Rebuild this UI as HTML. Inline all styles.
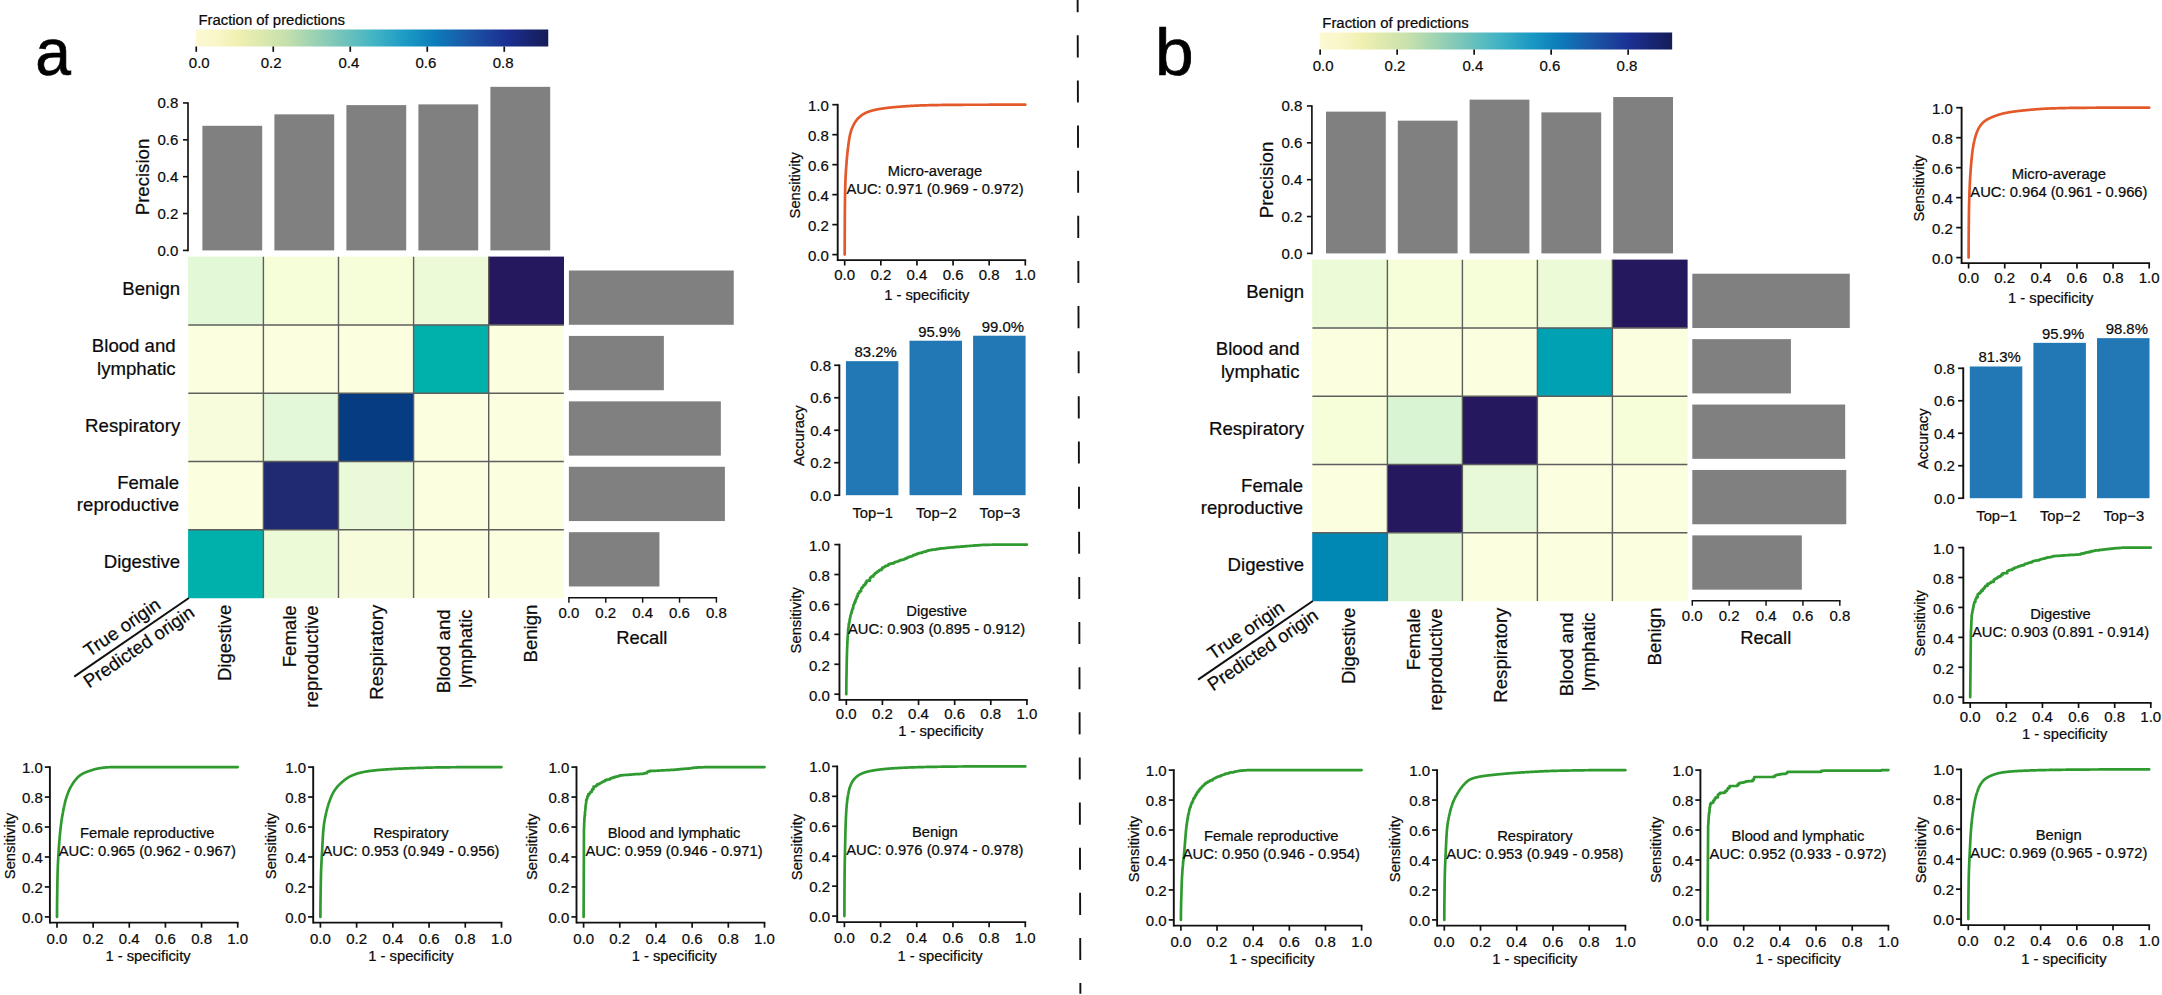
<!DOCTYPE html>
<html lang="en">
<head>
<meta charset="utf-8">
<title>Figure</title>
<style>html,body{margin:0;padding:0;background:#fff;}body{width:2162px;height:995px;overflow:hidden;}svg text{font-family:"Liberation Sans", Arial, Helvetica, sans-serif;stroke:#0a0a0a;stroke-width:0.22px;}</style>
</head>
<body>
<svg width="2162" height="995" viewBox="0 0 2162 995" font-family='"Liberation Sans", Arial, Helvetica, sans-serif' style="display:block">
<defs><linearGradient id="cb" x1="0" y1="0" x2="1" y2="0"><stop offset="0" stop-color="#fcf9d3"/><stop offset="0.06" stop-color="#f9f6c9"/><stop offset="0.12" stop-color="#f0f0b1"/><stop offset="0.25" stop-color="#c8e1ac"/><stop offset="0.38" stop-color="#85cab7"/><stop offset="0.5" stop-color="#45b5c4"/><stop offset="0.6" stop-color="#1a99c4"/><stop offset="0.68" stop-color="#0c7cba"/><stop offset="0.77" stop-color="#1b58a6"/><stop offset="0.88" stop-color="#1b3093"/><stop offset="0.95" stop-color="#18246f"/><stop offset="1" stop-color="#141d58"/></linearGradient></defs>
<text transform="translate(35.3 75.4) scale(0.96 1)" font-size="66.8" fill="#000" style="stroke:#000;stroke-width:0.7px">a</text>
<rect x="195.75" y="29.5" width="352.5" height="17" fill="url(#cb)"/>
<line x1="196.25" y1="46.5" x2="196.25" y2="51.8" stroke="#111" stroke-width="1.7"/>
<text x="199.25" y="68" font-size="15" text-anchor="middle" fill="#0a0a0a">0.0</text>
<line x1="273.25" y1="46.5" x2="273.25" y2="51.8" stroke="#111" stroke-width="1.7"/>
<text x="271.15" y="68" font-size="15" text-anchor="middle" fill="#0a0a0a">0.2</text>
<line x1="350.25" y1="46.5" x2="350.25" y2="51.8" stroke="#111" stroke-width="1.7"/>
<text x="348.95" y="68" font-size="15" text-anchor="middle" fill="#0a0a0a">0.4</text>
<line x1="427.25" y1="46.5" x2="427.25" y2="51.8" stroke="#111" stroke-width="1.7"/>
<text x="425.95" y="68" font-size="15" text-anchor="middle" fill="#0a0a0a">0.6</text>
<line x1="504.25" y1="46.5" x2="504.25" y2="51.8" stroke="#111" stroke-width="1.7"/>
<text x="503.15" y="68" font-size="15" text-anchor="middle" fill="#0a0a0a">0.8</text>
<text x="198.4" y="25" font-size="14.9" text-anchor="start" fill="#0a0a0a">Fraction of predictions</text>
<rect x="202.4" y="125.8" width="59.8" height="124.61" fill="#808080"/>
<rect x="274.4" y="114.35" width="59.8" height="136.05" fill="#808080"/>
<rect x="346.4" y="105.12" width="59.8" height="145.28" fill="#808080"/>
<rect x="418.4" y="104.38" width="59.8" height="146.02" fill="#808080"/>
<rect x="490.4" y="86.84" width="59.8" height="163.56" fill="#808080"/>
<line x1="188" y1="102.16" x2="188" y2="251.2" stroke="#111" stroke-width="1.65"/>
<line x1="183" y1="250.4" x2="188" y2="250.4" stroke="#111" stroke-width="1.6"/>
<text x="178.4" y="255.7" font-size="15" text-anchor="end" fill="#0a0a0a">0.0</text>
<line x1="183" y1="213.54" x2="188" y2="213.54" stroke="#111" stroke-width="1.6"/>
<text x="178.4" y="218.84" font-size="15" text-anchor="end" fill="#0a0a0a">0.2</text>
<line x1="183" y1="176.68" x2="188" y2="176.68" stroke="#111" stroke-width="1.6"/>
<text x="178.4" y="181.98" font-size="15" text-anchor="end" fill="#0a0a0a">0.4</text>
<line x1="183" y1="139.82" x2="188" y2="139.82" stroke="#111" stroke-width="1.6"/>
<text x="178.4" y="145.12" font-size="15" text-anchor="end" fill="#0a0a0a">0.6</text>
<line x1="183" y1="102.96" x2="188" y2="102.96" stroke="#111" stroke-width="1.6"/>
<text x="178.4" y="108.26" font-size="15" text-anchor="end" fill="#0a0a0a">0.8</text>
<text x="148.9" y="177" font-size="18.6" text-anchor="middle" fill="#0a0a0a" transform="rotate(-90 148.9 177)">Precision</text>
<rect x="188.1" y="256.6" width="75.5" height="68.65" fill="#e3f8d6"/>
<rect x="263.2" y="256.6" width="75.5" height="68.65" fill="#f5fdd9"/>
<rect x="338.3" y="256.6" width="75.5" height="68.65" fill="#f5fdd9"/>
<rect x="413.4" y="256.6" width="75.5" height="68.65" fill="#ecfad7"/>
<rect x="488.5" y="256.6" width="75.5" height="68.65" fill="#26185f"/>
<rect x="188.1" y="324.85" width="75.5" height="68.65" fill="#fbfedf"/>
<rect x="263.2" y="324.85" width="75.5" height="68.65" fill="#fbfedf"/>
<rect x="338.3" y="324.85" width="75.5" height="68.65" fill="#fbfedf"/>
<rect x="413.4" y="324.85" width="75.5" height="68.65" fill="#00b0ab"/>
<rect x="488.5" y="324.85" width="75.5" height="68.65" fill="#fbfedf"/>
<rect x="188.1" y="393.1" width="75.5" height="68.65" fill="#f7fddc"/>
<rect x="263.2" y="393.1" width="75.5" height="68.65" fill="#e3f8d8"/>
<rect x="338.3" y="393.1" width="75.5" height="68.65" fill="#063c82"/>
<rect x="413.4" y="393.1" width="75.5" height="68.65" fill="#fbfedf"/>
<rect x="488.5" y="393.1" width="75.5" height="68.65" fill="#fbfedf"/>
<rect x="188.1" y="461.35" width="75.5" height="68.65" fill="#fbfedf"/>
<rect x="263.2" y="461.35" width="75.5" height="68.65" fill="#1f2a72"/>
<rect x="338.3" y="461.35" width="75.5" height="68.65" fill="#eafad8"/>
<rect x="413.4" y="461.35" width="75.5" height="68.65" fill="#fbfedf"/>
<rect x="488.5" y="461.35" width="75.5" height="68.65" fill="#fbfedf"/>
<rect x="188.1" y="529.6" width="75.5" height="68.65" fill="#00b0ab"/>
<rect x="263.2" y="529.6" width="75.5" height="68.65" fill="#ecfad7"/>
<rect x="338.3" y="529.6" width="75.5" height="68.65" fill="#f7fddc"/>
<rect x="413.4" y="529.6" width="75.5" height="68.65" fill="#fbfedf"/>
<rect x="488.5" y="529.6" width="75.5" height="68.65" fill="#fbfedf"/>
<line x1="263.4" y1="256.8" x2="263.4" y2="598.05" stroke="#5e5e5e" stroke-width="1.4"/>
<line x1="188.3" y1="325.05" x2="563.8" y2="325.05" stroke="#5e5e5e" stroke-width="1.4"/>
<line x1="338.5" y1="256.8" x2="338.5" y2="598.05" stroke="#5e5e5e" stroke-width="1.4"/>
<line x1="188.3" y1="393.3" x2="563.8" y2="393.3" stroke="#5e5e5e" stroke-width="1.4"/>
<line x1="413.6" y1="256.8" x2="413.6" y2="598.05" stroke="#5e5e5e" stroke-width="1.4"/>
<line x1="188.3" y1="461.55" x2="563.8" y2="461.55" stroke="#5e5e5e" stroke-width="1.4"/>
<line x1="488.7" y1="256.8" x2="488.7" y2="598.05" stroke="#5e5e5e" stroke-width="1.4"/>
<line x1="188.3" y1="529.8" x2="563.8" y2="529.8" stroke="#5e5e5e" stroke-width="1.4"/>
<text x="180.2" y="295.23" font-size="18.6" text-anchor="end" fill="#0a0a0a">Benign</text>
<text x="175.6" y="352.38" font-size="18.6" text-anchor="end" fill="#0a0a0a">Blood and</text>
<text x="175.6" y="374.57" font-size="18.6" text-anchor="end" fill="#0a0a0a">lymphatic</text>
<text x="180.2" y="431.73" font-size="18.6" text-anchor="end" fill="#0a0a0a">Respiratory</text>
<text x="179.2" y="488.88" font-size="18.6" text-anchor="end" fill="#0a0a0a">Female</text>
<text x="179.2" y="511.07" font-size="18.6" text-anchor="end" fill="#0a0a0a">reproductive</text>
<text x="180.2" y="568.22" font-size="18.6" text-anchor="end" fill="#0a0a0a">Digestive</text>
<text x="231.45" y="604.6" font-size="18.6" text-anchor="end" fill="#0a0a0a" transform="rotate(-90 231.45 604.6)">Digestive</text>
<text x="295.75" y="605.3" font-size="18.6" text-anchor="end" fill="#0a0a0a" transform="rotate(-90 295.75 605.3)">Female</text>
<text x="317.85" y="605.3" font-size="18.6" text-anchor="end" fill="#0a0a0a" transform="rotate(-90 317.85 605.3)">reproductive</text>
<text x="383.35" y="604.6" font-size="18.6" text-anchor="end" fill="#0a0a0a" transform="rotate(-90 383.35 604.6)">Respiratory</text>
<text x="449.65" y="609.4" font-size="18.6" text-anchor="end" fill="#0a0a0a" transform="rotate(-90 449.65 609.4)">Blood and</text>
<text x="471.75" y="609.4" font-size="18.6" text-anchor="end" fill="#0a0a0a" transform="rotate(-90 471.75 609.4)">lymphatic</text>
<text x="537.35" y="604.6" font-size="18.6" text-anchor="end" fill="#0a0a0a" transform="rotate(-90 537.35 604.6)">Benign</text>
<line x1="188.9" y1="598" x2="74.2" y2="676.6" stroke="#111" stroke-width="2"/>
<text x="125.6" y="632.6" font-size="18.6" text-anchor="middle" fill="#0a0a0a" transform="rotate(-34.4 125.6 632.6)">True origin</text>
<text x="142.4" y="652" font-size="18.6" text-anchor="middle" fill="#0a0a0a" transform="rotate(-34.4 142.4 652)">Predicted origin</text>
<rect x="568.9" y="270.5" width="164.85" height="54.3" fill="#808080"/>
<rect x="568.9" y="335.92" width="94.97" height="54.3" fill="#808080"/>
<rect x="568.9" y="401.34" width="151.95" height="54.3" fill="#808080"/>
<rect x="568.9" y="466.76" width="156" height="54.3" fill="#808080"/>
<rect x="568.9" y="532.18" width="90.54" height="54.3" fill="#808080"/>
<line x1="568.17" y1="597.8" x2="717.14" y2="597.8" stroke="#111" stroke-width="1.45"/>
<line x1="568.9" y1="597.8" x2="568.9" y2="602.7" stroke="#111" stroke-width="1.45"/>
<text x="568.9" y="618.4" font-size="15" text-anchor="middle" fill="#0a0a0a">0.0</text>
<line x1="605.78" y1="597.8" x2="605.78" y2="602.7" stroke="#111" stroke-width="1.45"/>
<text x="605.78" y="618.4" font-size="15" text-anchor="middle" fill="#0a0a0a">0.2</text>
<line x1="642.66" y1="597.8" x2="642.66" y2="602.7" stroke="#111" stroke-width="1.45"/>
<text x="642.66" y="618.4" font-size="15" text-anchor="middle" fill="#0a0a0a">0.4</text>
<line x1="679.54" y1="597.8" x2="679.54" y2="602.7" stroke="#111" stroke-width="1.45"/>
<text x="679.54" y="618.4" font-size="15" text-anchor="middle" fill="#0a0a0a">0.6</text>
<line x1="716.42" y1="597.8" x2="716.42" y2="602.7" stroke="#111" stroke-width="1.45"/>
<text x="716.42" y="618.4" font-size="15" text-anchor="middle" fill="#0a0a0a">0.8</text>
<text x="641.8" y="644" font-size="18.4" text-anchor="middle" fill="#0a0a0a">Recall</text>
<rect x="845.9" y="361.16" width="52.5" height="134.04" fill="#2278b5"/>
<text x="875.7" y="356.96" font-size="14.9" text-anchor="middle" fill="#0a0a0a">83.2%</text>
<text x="872.7" y="518" font-size="14.75" text-anchor="middle" fill="#0a0a0a">Top−1</text>
<rect x="909.5" y="340.71" width="52.5" height="154.49" fill="#2278b5"/>
<text x="939.3" y="336.51" font-size="14.9" text-anchor="middle" fill="#0a0a0a">95.9%</text>
<text x="936.3" y="518" font-size="14.75" text-anchor="middle" fill="#0a0a0a">Top−2</text>
<rect x="973.1" y="335.71" width="52.5" height="159.49" fill="#2278b5"/>
<text x="1002.9" y="331.51" font-size="14.9" text-anchor="middle" fill="#0a0a0a">99.0%</text>
<text x="999.9" y="518" font-size="14.75" text-anchor="middle" fill="#0a0a0a">Top−3</text>
<line x1="839.35" y1="364.43" x2="839.35" y2="496.05" stroke="#111" stroke-width="1.9"/>
<line x1="834.15" y1="495.2" x2="839.35" y2="495.2" stroke="#111" stroke-width="1.7"/>
<text x="831.05" y="500.6" font-size="15" text-anchor="end" fill="#0a0a0a">0.0</text>
<line x1="834.15" y1="462.72" x2="839.35" y2="462.72" stroke="#111" stroke-width="1.7"/>
<text x="831.05" y="468.12" font-size="15" text-anchor="end" fill="#0a0a0a">0.2</text>
<line x1="834.15" y1="430.24" x2="839.35" y2="430.24" stroke="#111" stroke-width="1.7"/>
<text x="831.05" y="435.64" font-size="15" text-anchor="end" fill="#0a0a0a">0.4</text>
<line x1="834.15" y1="397.76" x2="839.35" y2="397.76" stroke="#111" stroke-width="1.7"/>
<text x="831.05" y="403.16" font-size="15" text-anchor="end" fill="#0a0a0a">0.6</text>
<line x1="834.15" y1="365.28" x2="839.35" y2="365.28" stroke="#111" stroke-width="1.7"/>
<text x="831.05" y="370.68" font-size="15" text-anchor="end" fill="#0a0a0a">0.8</text>
<text x="804" y="435.7" font-size="14.75" text-anchor="middle" fill="#0a0a0a" transform="rotate(-90 804 435.7)">Accuracy</text>
<path d="M844.7 254.6 L844.7 253.18 L844.7 251.69 L844.7 250.14 L844.71 248.53 L844.71 246.86 L844.71 245.13 L844.72 243.36 L844.72 241.53 L844.73 239.66 L844.74 237.75 L844.74 235.8 L844.75 233.8 L844.76 231.74 L844.77 229.47 L844.78 227.05 L844.79 224.52 L844.81 221.95 L844.82 219.38 L844.83 216.87 L844.85 214.48 L844.86 212.26 L844.88 210.26 L844.9 208.4 L844.91 206.58 L844.93 204.81 L844.95 203.08 L844.97 201.4 L844.99 199.78 L845.01 198.21 L845.03 196.7 L845.06 195.26 L845.08 193.88 L845.1 192.57 L845.13 191.33 L845.15 190.17 L845.18 189.09 L845.21 188.04 L845.23 187.03 L845.26 186.04 L845.29 185.07 L845.32 184.13 L845.35 183.22 L845.38 182.33 L845.42 181.46 L845.45 180.61 L845.48 179.78 L845.52 178.97 L845.55 178.17 L845.59 177.4 L845.62 176.63 L845.66 175.89 L845.7 175.16 L845.74 174.44 L845.78 173.73 L845.82 173.03 L845.86 172.34 L845.9 171.66 L845.94 170.99 L845.99 170.32 L846.03 169.66 L846.08 169.01 L846.12 168.35 L846.17 167.7 L846.21 167.05 L846.26 166.41 L846.31 165.76 L846.36 165.11 L846.41 164.45 L846.46 163.79 L846.51 163.13 L846.56 162.46 L846.62 161.79 L846.67 161.11 L846.72 160.44 L846.78 159.77 L846.83 159.11 L846.89 158.45 L846.95 157.79 L847.01 157.14 L847.07 156.5 L847.13 155.86 L847.19 155.22 L847.25 154.6 L847.31 153.97 L847.37 153.35 L847.43 152.74 L847.5 152.14 L847.56 151.54 L847.63 150.94 L847.69 150.35 L847.76 149.77 L847.83 149.2 L847.9 148.63 L847.97 148.07 L848.04 147.52 L848.11 146.97 L848.18 146.42 L848.25 145.87 L848.32 145.33 L848.4 144.78 L848.47 144.23 L848.55 143.69 L848.62 143.14 L848.7 142.6 L848.78 142.07 L848.85 141.54 L848.93 141.01 L849.01 140.49 L849.09 139.98 L849.17 139.47 L849.25 138.97 L849.34 138.47 L849.42 137.99 L849.5 137.51 L849.59 137.04 L849.67 136.58 L849.76 136.14 L849.85 135.7 L849.93 135.27 L850.02 134.86 L850.11 134.46 L850.2 134.07 L850.29 133.7 L850.38 133.34 L850.48 132.99 L850.57 132.65 L850.66 132.32 L850.76 131.99 L850.85 131.67 L850.95 131.36 L851.04 131.04 L851.14 130.74 L851.24 130.44 L851.34 130.14 L851.44 129.85 L851.54 129.57 L851.64 129.28 L851.74 129.01 L851.84 128.73 L851.94 128.47 L852.05 128.2 L852.15 127.94 L852.26 127.68 L852.36 127.43 L852.47 127.18 L852.58 126.93 L852.69 126.69 L852.8 126.45 L852.91 126.22 L853.02 125.98 L853.13 125.75 L853.24 125.52 L853.35 125.3 L853.47 125.08 L853.58 124.85 L853.7 124.64 L853.81 124.42 L853.93 124.2 L854.04 123.99 L854.16 123.78 L854.28 123.57 L854.4 123.36 L854.52 123.16 L854.64 122.95 L854.76 122.75 L854.89 122.55 L855.01 122.35 L855.13 122.16 L855.26 121.96 L855.38 121.77 L855.51 121.58 L855.64 121.4 L855.76 121.21 L855.89 121.03 L856.02 120.85 L856.15 120.67 L856.28 120.49 L856.41 120.32 L856.54 120.14 L856.68 119.97 L856.81 119.81 L856.94 119.64 L857.08 119.48 L857.21 119.32 L857.35 119.16 L857.49 119 L857.63 118.85 L857.76 118.69 L857.9 118.55 L858.04 118.4 L858.18 118.25 L858.33 118.11 L858.47 117.97 L858.61 117.83 L858.76 117.7 L858.9 117.56 L859.04 117.43 L859.19 117.29 L859.34 117.16 L859.49 117.03 L859.63 116.9 L859.78 116.77 L859.93 116.64 L860.08 116.51 L860.23 116.39 L860.39 116.26 L860.54 116.13 L860.69 116.01 L860.85 115.89 L861 115.77 L861.16 115.65 L861.31 115.53 L861.47 115.41 L861.63 115.29 L861.79 115.18 L861.95 115.06 L862.11 114.95 L862.27 114.84 L862.43 114.73 L862.59 114.62 L862.75 114.51 L862.92 114.4 L863.08 114.3 L863.25 114.19 L863.41 114.09 L863.58 113.99 L863.75 113.89 L863.91 113.79 L864.08 113.69 L864.25 113.6 L864.42 113.51 L864.59 113.41 L864.77 113.32 L864.94 113.23 L865.11 113.15 L865.29 113.06 L865.46 112.98 L865.64 112.89 L865.81 112.81 L865.99 112.73 L866.17 112.65 L866.35 112.58 L866.53 112.5 L866.71 112.43 L866.89 112.35 L867.07 112.28 L867.25 112.21 L867.43 112.14 L867.62 112.06 L867.8 111.99 L867.99 111.92 L868.17 111.85 L868.36 111.79 L868.55 111.72 L868.73 111.65 L868.92 111.58 L869.11 111.52 L869.3 111.45 L869.49 111.39 L869.69 111.33 L869.88 111.26 L870.07 111.2 L870.27 111.14 L870.46 111.08 L870.66 111.02 L870.85 110.96 L871.05 110.9 L871.25 110.84 L871.45 110.78 L871.65 110.72 L871.85 110.67 L872.05 110.61 L872.25 110.56 L872.45 110.5 L872.65 110.45 L872.86 110.39 L873.06 110.34 L873.27 110.29 L873.47 110.23 L873.68 110.18 L873.89 110.13 L874.09 110.08 L874.3 110.03 L874.51 109.98 L874.72 109.94 L874.93 109.89 L875.15 109.84 L875.36 109.79 L875.57 109.75 L875.79 109.7 L876 109.66 L876.22 109.61 L876.43 109.57 L876.65 109.52 L876.87 109.48 L877.09 109.44 L877.3 109.4 L877.52 109.36 L877.75 109.31 L877.97 109.27 L878.19 109.23 L878.41 109.19 L878.64 109.15 L878.86 109.11 L879.08 109.07 L879.31 109.04 L879.54 109 L879.76 108.96 L879.99 108.92 L880.22 108.88 L880.45 108.84 L880.68 108.81 L880.91 108.77 L881.14 108.73 L881.38 108.7 L881.61 108.66 L881.84 108.63 L882.08 108.59 L882.31 108.55 L882.55 108.52 L882.79 108.48 L883.02 108.45 L883.26 108.42 L883.5 108.38 L883.74 108.35 L883.98 108.31 L884.22 108.28 L884.47 108.25 L884.71 108.22 L884.95 108.18 L885.2 108.15 L885.44 108.12 L885.69 108.09 L885.93 108.06 L886.18 108.02 L886.43 107.99 L886.68 107.96 L886.93 107.93 L887.18 107.9 L887.43 107.87 L887.68 107.84 L887.93 107.81 L888.19 107.78 L888.44 107.75 L888.69 107.72 L888.95 107.7 L889.21 107.67 L889.46 107.64 L889.72 107.61 L889.98 107.58 L890.24 107.56 L890.5 107.53 L890.76 107.5 L891.02 107.47 L891.28 107.45 L891.55 107.42 L891.81 107.39 L892.07 107.37 L892.34 107.34 L892.6 107.32 L892.87 107.29 L893.14 107.26 L893.41 107.24 L893.67 107.21 L893.94 107.19 L894.21 107.16 L894.48 107.14 L894.76 107.12 L895.03 107.09 L895.3 107.07 L895.58 107.04 L895.85 107.02 L896.13 107 L896.4 106.97 L896.68 106.95 L896.96 106.93 L897.23 106.91 L897.51 106.88 L897.79 106.86 L898.07 106.84 L898.36 106.81 L898.64 106.79 L898.92 106.77 L899.2 106.75 L899.49 106.72 L899.77 106.7 L900.06 106.68 L900.35 106.66 L900.63 106.63 L900.92 106.61 L901.21 106.59 L901.5 106.57 L901.79 106.54 L902.08 106.52 L902.37 106.5 L902.66 106.48 L902.96 106.45 L903.25 106.43 L903.54 106.41 L903.84 106.39 L904.14 106.37 L904.43 106.35 L904.73 106.32 L905.03 106.3 L905.33 106.28 L905.63 106.26 L905.93 106.24 L906.23 106.22 L906.53 106.2 L906.83 106.18 L907.14 106.16 L907.44 106.14 L907.75 106.12 L908.05 106.1 L908.36 106.08 L908.67 106.06 L908.97 106.04 L909.28 106.02 L909.59 106 L909.9 105.98 L910.21 105.96 L910.52 105.94 L910.84 105.92 L911.15 105.9 L911.46 105.88 L911.78 105.87 L912.09 105.85 L912.41 105.83 L912.73 105.81 L913.04 105.79 L913.36 105.78 L913.68 105.76 L914 105.74 L914.32 105.73 L914.64 105.71 L914.96 105.69 L915.29 105.68 L915.61 105.66 L915.93 105.64 L916.26 105.63 L916.59 105.61 L916.91 105.6 L917.24 105.58 L917.57 105.57 L917.9 105.55 L918.22 105.54 L918.55 105.53 L918.89 105.51 L919.22 105.5 L919.55 105.49 L919.88 105.47 L920.22 105.46 L920.55 105.45 L920.89 105.44 L921.22 105.42 L921.56 105.41 L921.9 105.4 L922.23 105.39 L922.57 105.38 L922.91 105.37 L923.25 105.36 L923.59 105.35 L923.94 105.34 L924.28 105.33 L924.62 105.32 L924.97 105.31 L925.31 105.3 L925.66 105.29 L926 105.29 L926.35 105.28 L926.7 105.27 L927.05 105.26 L927.4 105.25 L927.75 105.25 L928.1 105.24 L928.45 105.23 L928.8 105.22 L929.15 105.21 L929.51 105.21 L929.86 105.2 L930.22 105.19 L930.57 105.18 L930.93 105.18 L931.29 105.17 L931.65 105.16 L932 105.15 L932.36 105.15 L932.72 105.14 L933.09 105.13 L933.45 105.12 L933.81 105.12 L934.17 105.11 L934.54 105.1 L934.9 105.1 L935.27 105.09 L935.63 105.08 L936 105.07 L936.37 105.07 L936.74 105.06 L937.11 105.05 L937.48 105.05 L937.85 105.04 L938.22 105.03 L938.59 105.03 L938.96 105.02 L939.34 105.02 L939.71 105.01 L940.09 105 L940.46 105 L940.84 104.99 L941.22 104.98 L941.6 104.98 L941.97 104.97 L942.35 104.97 L942.73 104.96 L943.12 104.96 L943.5 104.95 L943.88 104.94 L944.26 104.94 L944.65 104.93 L945.03 104.93 L945.42 104.92 L945.8 104.92 L946.19 104.91 L946.58 104.91 L946.97 104.9 L947.36 104.9 L947.75 104.89 L948.14 104.89 L948.53 104.88 L948.92 104.88 L949.31 104.87 L949.71 104.87 L950.1 104.87 L950.5 104.86 L950.89 104.86 L951.29 104.85 L951.69 104.85 L952.08 104.85 L952.48 104.84 L952.88 104.84 L953.28 104.83 L953.68 104.83 L954.09 104.83 L954.49 104.82 L954.89 104.82 L955.3 104.82 L955.7 104.81 L956.11 104.81 L956.51 104.81 L956.92 104.81 L957.33 104.8 L957.74 104.8 L958.14 104.8 L958.55 104.8 L958.96 104.79 L959.38 104.79 L959.79 104.79 L960.2 104.79 L960.61 104.79 L961.03 104.78 L961.44 104.78 L961.86 104.78 L962.28 104.78 L962.69 104.78 L963.11 104.78 L963.53 104.77 L963.95 104.77 L964.37 104.77 L964.79 104.77 L965.21 104.77 L965.64 104.77 L966.06 104.77 L966.48 104.77 L966.91 104.77 L967.33 104.77 L967.76 104.76 L968.19 104.76 L968.61 104.76 L969.04 104.76 L969.47 104.76 L969.9 104.76 L970.33 104.76 L970.76 104.76 L971.2 104.76 L971.63 104.76 L972.06 104.75 L972.5 104.75 L972.93 104.75 L973.37 104.75 L973.8 104.75 L974.24 104.75 L974.68 104.75 L975.12 104.75 L975.56 104.75 L976 104.75 L976.44 104.75 L976.88 104.75 L977.32 104.74 L977.77 104.74 L978.21 104.74 L978.65 104.74 L979.1 104.74 L979.55 104.74 L979.99 104.74 L980.44 104.74 L980.89 104.74 L981.34 104.74 L981.79 104.74 L982.24 104.74 L982.69 104.73 L983.14 104.73 L983.59 104.73 L984.05 104.73 L984.5 104.73 L984.96 104.73 L985.41 104.73 L985.87 104.73 L986.33 104.73 L986.78 104.73 L987.24 104.73 L987.7 104.73 L988.16 104.73 L988.62 104.73 L989.09 104.72 L989.55 104.72 L990.01 104.72 L990.47 104.72 L990.94 104.72 L991.4 104.72 L991.87 104.72 L992.34 104.72 L992.81 104.72 L993.27 104.72 L993.74 104.72 L994.21 104.72 L994.68 104.72 L995.15 104.72 L995.63 104.72 L996.1 104.72 L996.57 104.72 L997.05 104.71 L997.52 104.71 L998 104.71 L998.47 104.71 L998.95 104.71 L999.43 104.71 L999.91 104.71 L1000.39 104.71 L1000.87 104.71 L1001.35 104.71 L1001.83 104.71 L1002.31 104.71 L1002.8 104.71 L1003.28 104.71 L1003.76 104.71 L1004.25 104.71 L1004.74 104.71 L1005.22 104.71 L1005.71 104.71 L1006.2 104.71 L1006.69 104.71 L1007.18 104.71 L1007.67 104.71 L1008.16 104.71 L1008.65 104.71 L1009.14 104.7 L1009.64 104.7 L1010.13 104.7 L1010.63 104.7 L1011.12 104.7 L1011.62 104.7 L1012.11 104.7 L1012.61 104.7 L1013.11 104.7 L1013.61 104.7 L1014.11 104.7 L1014.61 104.7 L1015.11 104.7 L1015.62 104.7 L1016.12 104.7 L1016.62 104.7 L1017.13 104.7 L1017.63 104.7 L1018.14 104.7 L1018.64 104.7 L1019.15 104.7 L1019.66 104.7 L1020.17 104.7 L1020.68 104.7 L1021.19 104.7 L1021.7 104.7 L1022.21 104.7 L1022.73 104.7 L1023.24 104.7 L1023.75 104.7 L1024.27 104.7 L1024.78 104.7 L1025.3 104.7" fill="none" stroke="#e3592a" stroke-width="2.7" stroke-linejoin="round" stroke-linecap="round"/>
<line x1="837.7" y1="103.85" x2="837.7" y2="261.05" stroke="#111" stroke-width="1.9"/>
<line x1="837.7" y1="260.1" x2="1026.15" y2="260.1" stroke="#111" stroke-width="1.9"/>
<line x1="832.3" y1="254.6" x2="837.7" y2="254.6" stroke="#111" stroke-width="1.7"/>
<text x="828.9" y="261" font-size="15" text-anchor="end" fill="#0a0a0a">0.0</text>
<line x1="844.7" y1="260.1" x2="844.7" y2="265.5" stroke="#111" stroke-width="1.7"/>
<text x="844.7" y="279.7" font-size="15" text-anchor="middle" fill="#0a0a0a">0.0</text>
<line x1="832.3" y1="224.62" x2="837.7" y2="224.62" stroke="#111" stroke-width="1.7"/>
<text x="828.9" y="231.02" font-size="15" text-anchor="end" fill="#0a0a0a">0.2</text>
<line x1="880.82" y1="260.1" x2="880.82" y2="265.5" stroke="#111" stroke-width="1.7"/>
<text x="880.82" y="279.7" font-size="15" text-anchor="middle" fill="#0a0a0a">0.2</text>
<line x1="832.3" y1="194.64" x2="837.7" y2="194.64" stroke="#111" stroke-width="1.7"/>
<text x="828.9" y="201.04" font-size="15" text-anchor="end" fill="#0a0a0a">0.4</text>
<line x1="916.94" y1="260.1" x2="916.94" y2="265.5" stroke="#111" stroke-width="1.7"/>
<text x="916.94" y="279.7" font-size="15" text-anchor="middle" fill="#0a0a0a">0.4</text>
<line x1="832.3" y1="164.66" x2="837.7" y2="164.66" stroke="#111" stroke-width="1.7"/>
<text x="828.9" y="171.06" font-size="15" text-anchor="end" fill="#0a0a0a">0.6</text>
<line x1="953.06" y1="260.1" x2="953.06" y2="265.5" stroke="#111" stroke-width="1.7"/>
<text x="953.06" y="279.7" font-size="15" text-anchor="middle" fill="#0a0a0a">0.6</text>
<line x1="832.3" y1="134.68" x2="837.7" y2="134.68" stroke="#111" stroke-width="1.7"/>
<text x="828.9" y="141.08" font-size="15" text-anchor="end" fill="#0a0a0a">0.8</text>
<line x1="989.18" y1="260.1" x2="989.18" y2="265.5" stroke="#111" stroke-width="1.7"/>
<text x="989.18" y="279.7" font-size="15" text-anchor="middle" fill="#0a0a0a">0.8</text>
<line x1="832.3" y1="104.7" x2="837.7" y2="104.7" stroke="#111" stroke-width="1.7"/>
<text x="828.9" y="111.1" font-size="15" text-anchor="end" fill="#0a0a0a">1.0</text>
<line x1="1025.3" y1="260.1" x2="1025.3" y2="265.5" stroke="#111" stroke-width="1.7"/>
<text x="1025.3" y="279.7" font-size="15" text-anchor="middle" fill="#0a0a0a">1.0</text>
<text x="800.3" y="185.25" font-size="14.75" text-anchor="middle" fill="#0a0a0a" transform="rotate(-90 800.3 185.25)">Sensitivity</text>
<text x="926.8" y="300.2" font-size="14.75" text-anchor="middle" fill="#0a0a0a">1 - specificity</text>
<text x="935" y="176.35" font-size="14.75" text-anchor="middle" fill="#0a0a0a">Micro-average</text>
<text x="935" y="193.85" font-size="14.75" text-anchor="middle" fill="#0a0a0a">AUC: 0.971 (0.969 - 0.972)</text>
<path d="M846.3 694.2 L846.3 693.58 L846.3 693.58 L846.3 693.17 L846.3 693.17 L846.3 691.86 L846.3 691.86 L846.31 691.86 L846.31 691.55 L846.31 691.55 L846.31 691.29 L846.31 691.29 L846.31 691.03 L846.31 691.03 L846.31 690.29 L846.31 689.51 L846.32 689.51 L846.32 689.26 L846.32 689.26 L846.32 689.26 L846.32 688.87 L846.32 688.47 L846.32 688.47 L846.33 688.47 L846.33 687.96 L846.33 687.34 L846.33 687.34 L846.34 687.34 L846.34 686.92 L846.34 686.45 L846.34 686.45 L846.34 684.42 L846.36 684.42 L846.36 683.06 L846.38 683.06 L846.38 683.06 L846.38 682.59 L846.38 681.84 L846.39 681.84 L846.4 681.84 L846.4 681.39 L846.4 681.39 L846.4 680.9 L846.41 680.9 L846.41 680.51 L846.41 679.97 L846.42 679.97 L846.43 679.97 L846.43 679.31 L846.43 679.31 L846.43 678.91 L846.44 678.91 L846.44 678.56 L846.45 678.56 L846.45 677.97 L846.46 677.97 L846.46 677.42 L846.46 676.59 L846.47 676.59 L846.47 675.78 L846.48 675.78 L846.48 675.32 L846.49 675.32 L846.49 674.88 L846.5 674.88 L846.51 674.88 L846.51 674.45 L846.51 674.45 L846.51 674.18 L846.55 674.18 L846.55 672.23 L846.55 671.43 L846.56 671.43 L846.58 671.43 L846.58 670.57 L846.59 670.57 L846.59 669.89 L846.6 669.89 L846.6 669.62 L846.6 669.62 L846.6 669.3 L846.6 668.99 L846.61 668.99 L846.61 668.65 L846.62 668.65 L846.62 667.86 L846.63 667.86 L846.65 667.86 L846.65 667.03 L846.65 665.54 L846.68 665.54 L846.69 665.54 L846.69 664.68 L846.69 663.55 L846.71 663.55 L846.71 662.79 L846.73 662.79 L846.74 662.79 L846.74 662.07 L846.76 662.07 L846.76 661.45 L846.76 661.1 L846.77 661.1 L846.77 660.13 L846.79 660.13 L846.79 658.97 L846.81 658.97 L846.82 658.97 L846.82 658.69 L846.82 657.19 L846.85 657.19 L846.87 657.19 L846.87 656.63 L846.87 656.63 L846.87 656.27 L846.87 655.99 L846.88 655.99 L846.9 655.99 L846.9 655.26 L846.91 655.26 L846.91 654.77 L846.91 654.41 L846.92 654.41 L846.94 654.41 L846.94 653.67 L846.94 653.27 L846.95 653.27 L847.01 653.27 L847.01 651.53 L847.02 651.53 L847.02 651.26 L847.02 650.97 L847.03 650.97 L847.03 650.36 L847.05 650.36 L847.06 650.36 L847.06 650.03 L847.06 649.23 L847.09 649.23 L847.11 649.23 L847.11 648.79 L847.15 648.79 L847.15 647.59 L847.19 647.59 L847.19 646.7 L847.19 645.89 L847.22 645.89 L847.26 645.89 L847.26 645.03 L847.3 645.03 L847.3 644.17 L847.32 644.17 L847.32 643.75 L847.38 643.75 L847.38 642.5 L847.38 641.25 L847.44 641.25 L847.55 641.25 L847.55 639.3 L847.57 639.3 L847.57 638.95 L847.57 637.87 L847.63 637.87 L847.68 637.87 L847.68 637.05 L847.68 636.65 L847.7 636.65 L847.78 636.65 L847.78 635.43 L847.78 635.07 L847.81 635.07 L847.89 635.07 L847.89 633.93 L847.92 633.93 L847.92 633.53 L847.97 633.53 L847.97 632.92 L847.97 631.81 L848.06 631.81 L848.14 631.81 L848.14 630.86 L848.14 629.02 L848.33 629.02 L848.33 628.58 L848.38 628.58 L848.38 627.77 L848.47 627.77 L848.5 627.77 L848.5 627.51 L848.61 627.51 L848.61 626.62 L848.69 626.62 L848.69 626.04 L848.69 623.99 L848.98 623.99 L849.14 623.99 L849.14 622.91 L849.23 622.91 L849.23 622.37 L849.45 622.37 L849.45 621.11 L849.5 621.11 L849.5 620.84 L849.61 620.84 L849.61 620.24 L849.67 620.24 L849.67 619.91 L849.67 619.35 L849.78 619.35 L849.93 619.35 L849.93 618.66 L850.07 618.66 L850.07 617.97 L850.07 617.58 L850.16 617.58 L850.23 617.58 L850.23 617.27 L850.31 617.27 L850.31 616.91 L850.37 616.91 L850.37 616.67 L850.49 616.67 L850.49 616.15 L850.49 615.39 L850.68 615.39 L850.68 614.75 L850.84 614.75 L850.96 614.75 L850.96 614.29 L851.09 614.29 L851.09 613.79 L851.27 613.79 L851.27 613.14 L851.27 612.79 L851.37 612.79 L851.47 612.79 L851.47 612.41 L851.9 612.41 L851.9 610.91 L851.9 610.61 L851.99 610.61 L851.99 610 L852.17 610 L852.24 610 L852.24 609.75 L852.31 609.75 L852.31 609.51 L852.55 609.51 L852.55 608.72 L852.55 608.33 L852.67 608.33 L853.24 608.33 L853.24 606.48 L853.24 605.64 L853.52 605.64 L853.52 605.13 L853.69 605.13 L853.69 604.82 L853.8 604.82 L853.8 604.57 L853.88 604.57 L854.14 604.57 L854.14 603.83 L854.41 603.83 L854.41 603.1 L854.75 603.1 L854.75 602.2 L854.75 601.66 L854.95 601.66 L855.51 601.66 L855.51 600.26 L855.51 599.91 L855.65 599.91 L855.83 599.91 L855.83 599.5 L856.16 599.5 L856.16 598.73 L856.52 598.73 L856.52 597.93 L856.75 597.93 L856.75 597.41 L856.75 597.04 L856.92 597.04 L856.92 596.34 L857.25 596.34 L857.84 596.34 L857.84 595.15 L857.84 593.87 L858.51 593.87 L858.51 593.36 L858.78 593.36 L858.78 593.09 L858.92 593.09 L858.92 592.8 L859.08 592.8 L859.23 592.8 L859.23 592.54 L859.57 592.54 L859.57 591.94 L859.57 591.26 L859.96 591.26 L861.11 591.26 L861.11 589.4 L861.11 588.8 L861.5 588.8 L861.5 588.18 L861.91 588.18 L861.91 587.65 L862.27 587.65 L862.27 587.22 L862.57 587.22 L863.04 587.22 L863.04 586.57 L863.34 586.57 L863.34 586.16 L863.53 586.16 L863.53 585.91 L863.74 585.91 L863.74 585.62 L863.74 585.16 L864.1 585.16 L864.76 585.16 L864.76 584.31 L865.59 584.31 L865.59 583.3 L865.59 582.62 L866.17 582.62 L866.63 582.62 L866.63 582.08 L866.63 580.92 L867.68 580.92 L867.68 580.68 L867.9 580.68 L869.89 580.68 L869.89 578.63 L869.89 578.34 L870.19 578.34 L870.19 578.16 L870.37 578.16 L870.37 577.71 L870.84 577.71 L870.84 577.28 L871.29 577.28 L871.29 576.97 L871.62 576.97 L871.62 576.79 L871.81 576.79 L871.81 576.46 L872.18 576.46 L873.4 576.46 L873.4 575.36 L873.6 575.36 L873.6 575.19 L873.6 574.96 L873.85 574.96 L873.85 574.56 L874.32 574.56 L874.72 574.56 L874.72 574.2 L874.72 573.89 L875.09 573.89 L875.09 573.2 L875.9 573.2 L875.9 572.98 L876.16 572.98 L876.16 572.65 L876.55 572.65 L876.82 572.65 L876.82 572.43 L877.16 572.43 L877.16 572.15 L877.16 571.99 L877.35 571.99 L877.35 571.78 L877.61 571.78 L877.61 571.34 L878.16 571.34 L878.48 571.34 L878.48 571.09 L879.2 571.09 L879.2 570.53 L879.2 570.34 L879.46 570.34 L879.46 570.19 L879.65 570.19 L879.98 570.19 L879.98 569.95 L881.67 569.95 L881.67 568.74 L882.37 568.74 L882.37 568.26 L882.37 567.5 L883.56 567.5 L884.03 567.5 L884.03 567.21 L884.42 567.21 L884.42 566.97 L884.42 566.77 L884.77 566.77 L885.07 566.77 L885.07 566.59 L885.07 566.3 L885.6 566.3 L885.6 565.87 L886.39 565.87 L886.83 565.87 L886.83 565.64 L887.94 565.64 L887.94 565.1 L887.94 564.74 L888.75 564.74 L888.75 564.16 L890.11 564.16 L890.11 564.01 L890.5 564.01 L890.5 563.72 L891.24 563.72 L891.65 563.72 L891.65 563.57 L891.91 563.57 L891.91 563.47 L891.91 563.36 L892.21 563.36 L893.88 563.36 L893.88 562.77 L893.88 562.68 L894.12 562.68 L894.12 562.54 L894.55 562.54 L894.8 562.54 L894.8 562.45 L894.8 562.19 L895.57 562.19 L895.57 561.82 L896.67 561.82 L896.67 561.68 L897.1 561.68 L897.1 561.51 L897.6 561.51 L897.6 561.36 L898.06 561.36 L898.73 561.36 L898.73 561.13 L898.73 560.87 L899.5 560.87 L899.5 560.43 L900.74 560.43 L900.74 560.34 L900.98 560.34 L900.98 559.81 L902.41 559.81 L902.88 559.81 L902.88 559.63 L903.72 559.63 L903.72 559.3 L904.63 559.3 L904.63 558.94 L904.63 558.84 L904.88 558.84 L905.32 558.84 L905.32 558.66 L905.32 558.53 L905.63 558.53 L905.63 558.4 L905.94 558.4 L906.88 558.4 L906.88 558.01 L906.88 557.82 L907.36 557.82 L907.36 557.6 L907.88 557.6 L907.88 557.42 L908.31 557.42 L908.31 557.29 L908.64 557.29 L908.64 556.86 L909.67 556.86 L910.07 556.86 L910.07 556.7 L910.69 556.7 L910.69 556.45 L911.24 556.45 L911.24 556.24 L911.65 556.24 L911.65 556.08 L912.68 556.08 L912.68 555.68 L913.02 555.68 L913.02 555.55 L913.25 555.55 L913.25 555.47 L913.25 555.08 L914.32 555.08 L914.85 555.08 L914.85 554.89 L914.85 554.51 L916 554.51 L916 554.31 L916.59 554.31 L916.59 554.22 L916.85 554.22 L916.85 554.13 L917.13 554.13 L917.13 553.66 L918.54 553.66 L918.54 553.52 L918.96 553.52 L918.96 553.1 L920.24 553.1 L920.24 553.01 L920.5 553.01 L920.5 552.93 L920.74 552.93 L922.02 552.93 L922.02 552.52 L922.02 552.34 L922.59 552.34 L922.9 552.34 L922.9 552.24 L923.17 552.24 L923.17 552.16 L923.45 552.16 L923.45 552.07 L923.45 551.8 L924.32 551.8 L924.32 551.53 L925.21 551.53 L926.17 551.53 L926.17 551.26 L926.77 551.26 L926.77 551.09 L926.77 550.94 L927.32 550.94 L927.85 550.94 L927.85 550.8 L928.23 550.8 L928.23 550.7 L928.23 550.35 L929.6 550.35 L929.6 550.14 L930.48 550.14 L931.39 550.14 L931.39 549.94 L931.39 549.84 L931.89 549.84 L931.89 549.68 L932.71 549.68 L933.26 549.68 L933.26 549.57 L935.02 549.57 L935.02 549.28 L937.1 549.28 L937.1 548.97 L939.2 548.97 L939.2 548.69 L940.24 548.69 L940.24 548.57 L940.76 548.57 L940.76 548.5 L940.76 548.41 L941.56 548.41 L941.56 548.35 L942.09 548.35 L944.16 548.35 L944.16 548.13 L944.16 548.06 L944.79 548.06 L945.51 548.06 L945.51 547.99 L946.74 547.99 L946.74 547.87 L947.87 547.87 L947.87 547.76 L947.87 547.73 L948.18 547.73 L948.18 547.71 L948.46 547.71 L948.46 547.65 L949.14 547.65 L950.16 547.65 L950.16 547.56 L950.46 547.56 L950.46 547.53 L950.46 547.51 L950.7 547.51 L950.99 547.51 L950.99 547.48 L951.36 547.48 L951.36 547.45 L952.15 547.45 L952.15 547.38 L952.73 547.38 L952.73 547.34 L953.16 547.34 L953.16 547.3 L954.05 547.3 L954.05 547.23 L954.05 547.17 L954.74 547.17 L955.32 547.17 L955.32 547.12 L955.7 547.12 L955.7 547.09 L956.09 547.09 L956.09 547.06 L956.09 546.9 L958.05 546.9 L958.05 546.8 L959.35 546.8 L959.35 546.76 L959.79 546.76 L960.35 546.76 L960.35 546.72 L961.21 546.72 L961.21 546.65 L961.21 546.56 L962.28 546.56 L962.68 546.56 L962.68 546.52 L962.68 546.45 L963.52 546.45 L964.12 546.45 L964.12 546.4 L964.12 546.37 L964.54 546.37 L964.54 546.32 L965.08 546.32 L965.87 546.32 L965.87 546.25 L965.87 546.22 L966.15 546.22 L966.15 546.18 L966.6 546.18 L966.91 546.18 L966.91 546.16 L966.91 546.11 L967.41 546.11 L967.41 546.08 L967.71 546.08 L967.71 545.98 L968.86 545.98 L969.76 545.98 L969.76 545.9 L970.05 545.9 L970.05 545.87 L970.35 545.87 L970.35 545.84 L971.28 545.84 L971.28 545.76 L972.44 545.76 L972.44 545.66 L972.44 545.63 L972.76 545.63 L973.28 545.63 L973.28 545.58 L973.28 545.53 L973.87 545.53 L974.77 545.53 L974.77 545.46 L976.27 545.46 L976.27 545.34 L976.76 545.34 L976.76 545.31 L979.03 545.31 L979.03 545.15 L979.03 545.11 L979.77 545.11 L979.77 545.09 L980.09 545.09 L980.09 545.03 L981.12 545.03 L981.12 545.02 L981.4 545.02 L981.4 545 L981.84 545 L982.48 545 L982.48 544.97 L982.48 544.93 L983.38 544.93 L983.38 544.92 L983.9 544.92 L984.42 544.92 L984.42 544.9 L985.83 544.9 L985.83 544.86 L986.23 544.86 L986.23 544.85 L986.23 544.83 L987.08 544.83 L987.08 544.81 L987.62 544.81 L988.05 544.81 L988.05 544.8 L988.45 544.8 L988.45 544.79 L989.09 544.79 L989.09 544.78 L989.09 544.77 L989.36 544.77 L989.78 544.77 L989.78 544.76 L990.12 544.76 L990.12 544.75 L990.87 544.75 L990.87 544.73 L992.4 544.73 L992.4 544.7 L993.47 544.7 L993.47 544.68 L993.81 544.68 L993.81 544.67 L994.39 544.67 L994.39 544.66 L994.39 544.66 L994.81 544.66 L994.81 544.65 L995.47 544.65 L996.76 544.65 L996.76 544.63 L997.51 544.63 L997.51 544.62 L997.51 544.62 L997.97 544.62 L998.61 544.62 L998.61 544.61 L998.61 544.61 L998.89 544.61 L998.89 544.6 L999.71 544.6 L999.71 544.6 L1000.07 544.6 L1000.72 544.6 L1000.72 544.6 L1000.72 544.6 L1001.05 544.6 L1001.05 544.6 L1003.13 544.6 L1003.13 544.6 L1003.54 544.6 L1003.54 544.6 L1003.88 544.6 L1004.38 544.6 L1004.38 544.6 L1004.38 544.6 L1004.97 544.6 L1004.97 544.6 L1006.38 544.6 L1006.38 544.6 L1006.79 544.6 L1006.79 544.6 L1007.17 544.6 L1007.17 544.6 L1007.85 544.6 L1007.85 544.6 L1008.17 544.6 L1008.17 544.6 L1008.78 544.6 L1008.78 544.6 L1009.05 544.6 L1009.05 544.6 L1010.73 544.6 L1010.73 544.6 L1011.04 544.6 L1011.67 544.6 L1011.67 544.6 L1011.67 544.6 L1012.38 544.6 L1012.38 544.6 L1012.67 544.6 L1012.67 544.6 L1013.39 544.6 L1013.39 544.6 L1013.65 544.6 L1013.65 544.6 L1014.52 544.6 L1014.52 544.6 L1015.71 544.6 L1015.71 544.6 L1016.43 544.6 L1016.43 544.6 L1016.76 544.6 L1017.35 544.6 L1017.35 544.6 L1017.35 544.6 L1018.41 544.6 L1019.16 544.6 L1019.16 544.6 L1019.99 544.6 L1019.99 544.6 L1021.04 544.6 L1021.04 544.6 L1021.48 544.6 L1021.48 544.6 L1021.72 544.6 L1021.72 544.6 L1022.54 544.6 L1022.54 544.6 L1022.54 544.6 L1022.95 544.6 L1022.95 544.6 L1023.81 544.6 L1024.23 544.6 L1024.23 544.6 L1026.13 544.6 L1026.13 544.6 L1026.13 544.6 L1026.9 544.6" fill="none" stroke="#2f9a2f" stroke-width="2.7" stroke-linejoin="round" stroke-linecap="round"/>
<line x1="839.45" y1="543.75" x2="839.45" y2="700.85" stroke="#111" stroke-width="1.9"/>
<line x1="839.45" y1="699.9" x2="1027.75" y2="699.9" stroke="#111" stroke-width="1.9"/>
<line x1="834.35" y1="694.2" x2="839.45" y2="694.2" stroke="#111" stroke-width="1.7"/>
<text x="829.85" y="700.5" font-size="15" text-anchor="end" fill="#0a0a0a">0.0</text>
<line x1="846.3" y1="699.9" x2="846.3" y2="705" stroke="#111" stroke-width="1.7"/>
<text x="846.3" y="719.4" font-size="15" text-anchor="middle" fill="#0a0a0a">0.0</text>
<line x1="834.35" y1="664.28" x2="839.45" y2="664.28" stroke="#111" stroke-width="1.7"/>
<text x="829.85" y="670.58" font-size="15" text-anchor="end" fill="#0a0a0a">0.2</text>
<line x1="882.42" y1="699.9" x2="882.42" y2="705" stroke="#111" stroke-width="1.7"/>
<text x="882.42" y="719.4" font-size="15" text-anchor="middle" fill="#0a0a0a">0.2</text>
<line x1="834.35" y1="634.36" x2="839.45" y2="634.36" stroke="#111" stroke-width="1.7"/>
<text x="829.85" y="640.66" font-size="15" text-anchor="end" fill="#0a0a0a">0.4</text>
<line x1="918.54" y1="699.9" x2="918.54" y2="705" stroke="#111" stroke-width="1.7"/>
<text x="918.54" y="719.4" font-size="15" text-anchor="middle" fill="#0a0a0a">0.4</text>
<line x1="834.35" y1="604.44" x2="839.45" y2="604.44" stroke="#111" stroke-width="1.7"/>
<text x="829.85" y="610.74" font-size="15" text-anchor="end" fill="#0a0a0a">0.6</text>
<line x1="954.66" y1="699.9" x2="954.66" y2="705" stroke="#111" stroke-width="1.7"/>
<text x="954.66" y="719.4" font-size="15" text-anchor="middle" fill="#0a0a0a">0.6</text>
<line x1="834.35" y1="574.52" x2="839.45" y2="574.52" stroke="#111" stroke-width="1.7"/>
<text x="829.85" y="580.82" font-size="15" text-anchor="end" fill="#0a0a0a">0.8</text>
<line x1="990.78" y1="699.9" x2="990.78" y2="705" stroke="#111" stroke-width="1.7"/>
<text x="990.78" y="719.4" font-size="15" text-anchor="middle" fill="#0a0a0a">0.8</text>
<line x1="834.35" y1="544.6" x2="839.45" y2="544.6" stroke="#111" stroke-width="1.7"/>
<text x="829.85" y="550.9" font-size="15" text-anchor="end" fill="#0a0a0a">1.0</text>
<line x1="1026.9" y1="699.9" x2="1026.9" y2="705" stroke="#111" stroke-width="1.7"/>
<text x="1026.9" y="719.4" font-size="15" text-anchor="middle" fill="#0a0a0a">1.0</text>
<text x="801.45" y="620.2" font-size="14.75" text-anchor="middle" fill="#0a0a0a" transform="rotate(-90 801.45 620.2)">Sensitivity</text>
<text x="940.8" y="735.9" font-size="14.75" text-anchor="middle" fill="#0a0a0a">1 - specificity</text>
<text x="936.6" y="616.1" font-size="14.75" text-anchor="middle" fill="#0a0a0a">Digestive</text>
<text x="936.6" y="633.6" font-size="14.75" text-anchor="middle" fill="#0a0a0a">AUC: 0.903 (0.895 - 0.912)</text>
<path d="M57 916.9 L57 916.14 L57 915.36 L57 914.56 L57.01 913.75 L57.01 912.91 L57.01 912.06 L57.02 911.19 L57.02 910.31 L57.03 909.4 L57.04 908.48 L57.04 907.55 L57.05 906.6 L57.06 905.64 L57.07 904.66 L57.08 903.66 L57.09 902.66 L57.11 901.64 L57.12 900.61 L57.13 899.57 L57.15 898.52 L57.16 897.45 L57.18 896.38 L57.2 895.29 L57.21 894.16 L57.23 892.98 L57.25 891.73 L57.27 890.44 L57.29 889.12 L57.31 887.76 L57.33 886.38 L57.36 885 L57.38 883.6 L57.4 882.22 L57.43 880.84 L57.45 879.49 L57.48 878.17 L57.51 876.89 L57.53 875.65 L57.56 874.47 L57.59 873.36 L57.62 872.31 L57.65 871.32 L57.68 870.34 L57.72 869.39 L57.75 868.47 L57.78 867.56 L57.82 866.67 L57.85 865.8 L57.89 864.95 L57.92 864.12 L57.96 863.29 L58 862.48 L58.04 861.69 L58.08 860.9 L58.12 860.12 L58.16 859.35 L58.2 858.58 L58.24 857.82 L58.29 857.07 L58.33 856.31 L58.38 855.56 L58.42 854.8 L58.47 854.05 L58.51 853.29 L58.56 852.52 L58.61 851.75 L58.66 850.98 L58.71 850.2 L58.76 849.43 L58.81 848.65 L58.86 847.88 L58.92 847.11 L58.97 846.34 L59.03 845.57 L59.08 844.8 L59.14 844.04 L59.19 843.27 L59.25 842.51 L59.31 841.76 L59.37 841.01 L59.43 840.26 L59.49 839.51 L59.55 838.77 L59.61 838.04 L59.67 837.31 L59.74 836.58 L59.8 835.86 L59.86 835.15 L59.93 834.44 L60 833.74 L60.06 833.05 L60.13 832.37 L60.2 831.69 L60.27 831.02 L60.34 830.36 L60.41 829.7 L60.48 829.06 L60.55 828.42 L60.62 827.79 L60.7 827.17 L60.77 826.55 L60.85 825.94 L60.92 825.33 L61 824.73 L61.08 824.13 L61.16 823.54 L61.23 822.95 L61.31 822.37 L61.39 821.79 L61.47 821.22 L61.56 820.65 L61.64 820.09 L61.72 819.53 L61.81 818.98 L61.89 818.43 L61.98 817.88 L62.06 817.34 L62.15 816.8 L62.24 816.27 L62.33 815.74 L62.41 815.21 L62.5 814.69 L62.6 814.17 L62.69 813.66 L62.78 813.15 L62.87 812.64 L62.97 812.14 L63.06 811.63 L63.15 811.13 L63.25 810.63 L63.35 810.13 L63.44 809.63 L63.54 809.14 L63.64 808.65 L63.74 808.16 L63.84 807.67 L63.94 807.19 L64.04 806.7 L64.15 806.23 L64.25 805.75 L64.35 805.28 L64.46 804.82 L64.56 804.35 L64.67 803.9 L64.78 803.44 L64.88 802.99 L64.99 802.55 L65.1 802.11 L65.21 801.68 L65.32 801.25 L65.43 800.83 L65.54 800.41 L65.66 800 L65.77 799.6 L65.89 799.2 L66 798.81 L66.12 798.43 L66.23 798.06 L66.35 797.68 L66.47 797.31 L66.59 796.95 L66.71 796.59 L66.83 796.22 L66.95 795.87 L67.07 795.51 L67.19 795.16 L67.31 794.81 L67.44 794.46 L67.56 794.12 L67.69 793.78 L67.81 793.44 L67.94 793.11 L68.07 792.78 L68.2 792.45 L68.33 792.12 L68.46 791.8 L68.59 791.48 L68.72 791.17 L68.85 790.86 L68.98 790.55 L69.12 790.24 L69.25 789.94 L69.39 789.64 L69.52 789.35 L69.66 789.06 L69.79 788.77 L69.93 788.48 L70.07 788.2 L70.21 787.93 L70.35 787.65 L70.49 787.38 L70.63 787.12 L70.78 786.86 L70.92 786.6 L71.06 786.34 L71.21 786.09 L71.35 785.85 L71.5 785.6 L71.65 785.36 L71.79 785.12 L71.94 784.89 L72.09 784.65 L72.24 784.41 L72.39 784.18 L72.54 783.94 L72.69 783.71 L72.85 783.48 L73 783.25 L73.15 783.02 L73.31 782.79 L73.47 782.56 L73.62 782.34 L73.78 782.11 L73.94 781.89 L74.1 781.67 L74.25 781.45 L74.41 781.24 L74.58 781.02 L74.74 780.81 L74.9 780.6 L75.06 780.39 L75.23 780.18 L75.39 779.97 L75.56 779.77 L75.72 779.57 L75.89 779.37 L76.06 779.17 L76.23 778.97 L76.39 778.78 L76.56 778.59 L76.73 778.4 L76.91 778.21 L77.08 778.03 L77.25 777.85 L77.42 777.67 L77.6 777.49 L77.77 777.32 L77.95 777.14 L78.13 776.97 L78.3 776.81 L78.48 776.64 L78.66 776.48 L78.84 776.32 L79.02 776.17 L79.2 776.02 L79.38 775.87 L79.56 775.72 L79.75 775.58 L79.93 775.43 L80.11 775.3 L80.3 775.16 L80.49 775.03 L80.67 774.9 L80.86 774.78 L81.05 774.66 L81.24 774.54 L81.43 774.42 L81.62 774.3 L81.81 774.19 L82 774.08 L82.19 773.97 L82.39 773.86 L82.58 773.76 L82.78 773.65 L82.97 773.55 L83.17 773.45 L83.36 773.35 L83.56 773.25 L83.76 773.16 L83.96 773.06 L84.16 772.97 L84.36 772.88 L84.56 772.79 L84.77 772.7 L84.97 772.61 L85.17 772.52 L85.38 772.44 L85.58 772.35 L85.79 772.27 L85.99 772.18 L86.2 772.1 L86.41 772.02 L86.62 771.94 L86.83 771.86 L87.04 771.78 L87.25 771.7 L87.46 771.63 L87.68 771.55 L87.89 771.47 L88.1 771.4 L88.32 771.32 L88.53 771.25 L88.75 771.17 L88.97 771.1 L89.18 771.02 L89.4 770.95 L89.62 770.87 L89.84 770.8 L90.06 770.73 L90.28 770.65 L90.51 770.58 L90.73 770.5 L90.95 770.43 L91.18 770.36 L91.4 770.28 L91.63 770.21 L91.86 770.14 L92.08 770.06 L92.31 769.99 L92.54 769.92 L92.77 769.85 L93 769.78 L93.23 769.71 L93.46 769.64 L93.7 769.57 L93.93 769.5 L94.16 769.44 L94.4 769.37 L94.63 769.3 L94.87 769.24 L95.11 769.18 L95.35 769.11 L95.58 769.05 L95.82 768.99 L96.06 768.93 L96.3 768.87 L96.55 768.82 L96.79 768.76 L97.03 768.71 L97.27 768.66 L97.52 768.6 L97.76 768.55 L98.01 768.51 L98.26 768.46 L98.5 768.41 L98.75 768.37 L99 768.33 L99.25 768.29 L99.5 768.25 L99.75 768.21 L100 768.17 L100.26 768.13 L100.51 768.09 L100.76 768.05 L101.02 768.02 L101.27 767.98 L101.53 767.94 L101.79 767.9 L102.05 767.87 L102.3 767.83 L102.56 767.8 L102.82 767.76 L103.08 767.73 L103.35 767.69 L103.61 767.66 L103.87 767.63 L104.13 767.6 L104.4 767.57 L104.66 767.54 L104.93 767.51 L105.2 767.48 L105.46 767.46 L105.73 767.43 L106 767.41 L106.27 767.39 L106.54 767.37 L106.81 767.35 L107.08 767.33 L107.36 767.31 L107.63 767.3 L107.9 767.28 L108.18 767.27 L108.45 767.26 L108.73 767.25 L109.01 767.24 L109.29 767.23 L109.56 767.22 L109.84 767.21 L110.12 767.21 L110.4 767.2 L110.69 767.19 L110.97 767.18 L111.25 767.18 L111.53 767.17 L111.82 767.16 L112.1 767.15 L112.39 767.15 L112.68 767.14 L112.96 767.14 L113.25 767.13 L113.54 767.13 L113.83 767.12 L114.12 767.12 L114.41 767.11 L114.7 767.11 L115 767.11 L115.29 767.11 L115.58 767.1 L115.88 767.1 L116.17 767.1 L116.47 767.1 L116.77 767.1 L117.06 767.1 L117.36 767.1 L117.66 767.1 L117.96 767.1 L118.26 767.1 L118.56 767.1 L118.87 767.1 L119.17 767.1 L119.47 767.1 L119.78 767.1 L120.08 767.1 L120.39 767.1 L120.69 767.1 L121 767.1 L121.31 767.1 L121.62 767.1 L121.93 767.1 L122.24 767.1 L122.55 767.1 L122.86 767.1 L123.17 767.1 L123.49 767.1 L123.8 767.1 L124.12 767.1 L124.43 767.1 L124.75 767.1 L125.06 767.1 L125.38 767.1 L125.7 767.1 L126.02 767.1 L126.34 767.1 L126.66 767.1 L126.98 767.1 L127.3 767.1 L127.63 767.1 L127.95 767.1 L128.27 767.1 L128.6 767.1 L128.93 767.1 L129.25 767.1 L129.58 767.1 L129.91 767.1 L130.24 767.1 L130.57 767.1 L130.9 767.1 L131.23 767.1 L131.56 767.1 L131.89 767.1 L132.22 767.1 L132.56 767.1 L132.89 767.1 L133.23 767.1 L133.56 767.1 L133.9 767.1 L134.24 767.1 L134.58 767.1 L134.92 767.1 L135.26 767.1 L135.6 767.1 L135.94 767.1 L136.28 767.1 L136.62 767.1 L136.97 767.1 L137.31 767.1 L137.66 767.1 L138 767.1 L138.35 767.1 L138.7 767.1 L139.04 767.1 L139.39 767.1 L139.74 767.1 L140.09 767.1 L140.44 767.1 L140.79 767.1 L141.15 767.1 L141.5 767.1 L141.85 767.1 L142.21 767.1 L142.56 767.1 L142.92 767.1 L143.28 767.1 L143.64 767.1 L143.99 767.1 L144.35 767.1 L144.71 767.1 L145.07 767.1 L145.43 767.1 L145.8 767.1 L146.16 767.1 L146.52 767.1 L146.89 767.1 L147.25 767.1 L147.62 767.1 L147.98 767.1 L148.35 767.1 L148.72 767.1 L149.09 767.1 L149.46 767.1 L149.83 767.1 L150.2 767.1 L150.57 767.1 L150.94 767.1 L151.32 767.1 L151.69 767.1 L152.06 767.1 L152.44 767.1 L152.82 767.1 L153.19 767.1 L153.57 767.1 L153.95 767.1 L154.33 767.1 L154.71 767.1 L155.09 767.1 L155.47 767.1 L155.85 767.1 L156.23 767.1 L156.62 767.1 L157 767.1 L157.39 767.1 L157.77 767.1 L158.16 767.1 L158.55 767.1 L158.93 767.1 L159.32 767.1 L159.71 767.1 L160.1 767.1 L160.49 767.1 L160.89 767.1 L161.28 767.1 L161.67 767.1 L162.07 767.1 L162.46 767.1 L162.85 767.1 L163.25 767.1 L163.65 767.1 L164.05 767.1 L164.44 767.1 L164.84 767.1 L165.24 767.1 L165.64 767.1 L166.04 767.1 L166.45 767.1 L166.85 767.1 L167.25 767.1 L167.66 767.1 L168.06 767.1 L168.47 767.1 L168.87 767.1 L169.28 767.1 L169.69 767.1 L170.1 767.1 L170.51 767.1 L170.92 767.1 L171.33 767.1 L171.74 767.1 L172.15 767.1 L172.57 767.1 L172.98 767.1 L173.39 767.1 L173.81 767.1 L174.23 767.1 L174.64 767.1 L175.06 767.1 L175.48 767.1 L175.9 767.1 L176.32 767.1 L176.74 767.1 L177.16 767.1 L177.58 767.1 L178 767.1 L178.43 767.1 L178.85 767.1 L179.28 767.1 L179.7 767.1 L180.13 767.1 L180.55 767.1 L180.98 767.1 L181.41 767.1 L181.84 767.1 L182.27 767.1 L182.7 767.1 L183.13 767.1 L183.57 767.1 L184 767.1 L184.43 767.1 L184.87 767.1 L185.3 767.1 L185.74 767.1 L186.18 767.1 L186.61 767.1 L187.05 767.1 L187.49 767.1 L187.93 767.1 L188.37 767.1 L188.81 767.1 L189.25 767.1 L189.7 767.1 L190.14 767.1 L190.58 767.1 L191.03 767.1 L191.47 767.1 L191.92 767.1 L192.37 767.1 L192.82 767.1 L193.26 767.1 L193.71 767.1 L194.16 767.1 L194.61 767.1 L195.07 767.1 L195.52 767.1 L195.97 767.1 L196.42 767.1 L196.88 767.1 L197.33 767.1 L197.79 767.1 L198.25 767.1 L198.7 767.1 L199.16 767.1 L199.62 767.1 L200.08 767.1 L200.54 767.1 L201 767.1 L201.47 767.1 L201.93 767.1 L202.39 767.1 L202.86 767.1 L203.32 767.1 L203.79 767.1 L204.25 767.1 L204.72 767.1 L205.19 767.1 L205.66 767.1 L206.13 767.1 L206.6 767.1 L207.07 767.1 L207.54 767.1 L208.01 767.1 L208.48 767.1 L208.96 767.1 L209.43 767.1 L209.91 767.1 L210.38 767.1 L210.86 767.1 L211.34 767.1 L211.81 767.1 L212.29 767.1 L212.77 767.1 L213.25 767.1 L213.73 767.1 L214.22 767.1 L214.7 767.1 L215.18 767.1 L215.67 767.1 L216.15 767.1 L216.64 767.1 L217.12 767.1 L217.61 767.1 L218.1 767.1 L218.59 767.1 L219.08 767.1 L219.57 767.1 L220.06 767.1 L220.55 767.1 L221.04 767.1 L221.53 767.1 L222.03 767.1 L222.52 767.1 L223.02 767.1 L223.51 767.1 L224.01 767.1 L224.51 767.1 L225.01 767.1 L225.5 767.1 L226 767.1 L226.5 767.1 L227.01 767.1 L227.51 767.1 L228.01 767.1 L228.51 767.1 L229.02 767.1 L229.52 767.1 L230.03 767.1 L230.53 767.1 L231.04 767.1 L231.55 767.1 L232.06 767.1 L232.57 767.1 L233.08 767.1 L233.59 767.1 L234.1 767.1 L234.61 767.1 L235.12 767.1 L235.64 767.1 L236.15 767.1 L236.67 767.1 L237.18 767.1 L237.7 767.1" fill="none" stroke="#2f9a2f" stroke-width="2.7" stroke-linejoin="round" stroke-linecap="round"/>
<line x1="49.9" y1="766.25" x2="49.9" y2="923.55" stroke="#111" stroke-width="1.9"/>
<line x1="49.9" y1="922.6" x2="238.55" y2="922.6" stroke="#111" stroke-width="1.9"/>
<line x1="44.8" y1="916.9" x2="49.9" y2="916.9" stroke="#111" stroke-width="1.7"/>
<text x="42.8" y="922.6" font-size="15" text-anchor="end" fill="#0a0a0a">0.0</text>
<line x1="57" y1="922.6" x2="57" y2="927.7" stroke="#111" stroke-width="1.7"/>
<text x="57" y="943.9" font-size="15" text-anchor="middle" fill="#0a0a0a">0.0</text>
<line x1="44.8" y1="886.94" x2="49.9" y2="886.94" stroke="#111" stroke-width="1.7"/>
<text x="42.8" y="892.64" font-size="15" text-anchor="end" fill="#0a0a0a">0.2</text>
<line x1="93.14" y1="922.6" x2="93.14" y2="927.7" stroke="#111" stroke-width="1.7"/>
<text x="93.14" y="943.9" font-size="15" text-anchor="middle" fill="#0a0a0a">0.2</text>
<line x1="44.8" y1="856.98" x2="49.9" y2="856.98" stroke="#111" stroke-width="1.7"/>
<text x="42.8" y="862.68" font-size="15" text-anchor="end" fill="#0a0a0a">0.4</text>
<line x1="129.28" y1="922.6" x2="129.28" y2="927.7" stroke="#111" stroke-width="1.7"/>
<text x="129.28" y="943.9" font-size="15" text-anchor="middle" fill="#0a0a0a">0.4</text>
<line x1="44.8" y1="827.02" x2="49.9" y2="827.02" stroke="#111" stroke-width="1.7"/>
<text x="42.8" y="832.72" font-size="15" text-anchor="end" fill="#0a0a0a">0.6</text>
<line x1="165.42" y1="922.6" x2="165.42" y2="927.7" stroke="#111" stroke-width="1.7"/>
<text x="165.42" y="943.9" font-size="15" text-anchor="middle" fill="#0a0a0a">0.6</text>
<line x1="44.8" y1="797.06" x2="49.9" y2="797.06" stroke="#111" stroke-width="1.7"/>
<text x="42.8" y="802.76" font-size="15" text-anchor="end" fill="#0a0a0a">0.8</text>
<line x1="201.56" y1="922.6" x2="201.56" y2="927.7" stroke="#111" stroke-width="1.7"/>
<text x="201.56" y="943.9" font-size="15" text-anchor="middle" fill="#0a0a0a">0.8</text>
<line x1="44.8" y1="767.1" x2="49.9" y2="767.1" stroke="#111" stroke-width="1.7"/>
<text x="42.8" y="772.8" font-size="15" text-anchor="end" fill="#0a0a0a">1.0</text>
<line x1="237.7" y1="922.6" x2="237.7" y2="927.7" stroke="#111" stroke-width="1.7"/>
<text x="237.7" y="943.9" font-size="15" text-anchor="middle" fill="#0a0a0a">1.0</text>
<text x="14.9" y="846" font-size="14.75" text-anchor="middle" fill="#0a0a0a" transform="rotate(-90 14.9 846)">Sensitivity</text>
<text x="148" y="960.6" font-size="14.75" text-anchor="middle" fill="#0a0a0a">1 - specificity</text>
<text x="147.35" y="838.1" font-size="14.75" text-anchor="middle" fill="#0a0a0a">Female reproductive</text>
<text x="147.35" y="855.6" font-size="14.75" text-anchor="middle" fill="#0a0a0a">AUC: 0.965 (0.962 - 0.967)</text>
<path d="M320.4 916.9 L320.4 916.15 L320.4 915.39 L320.4 914.6 L320.41 913.8 L320.41 912.98 L320.41 912.15 L320.42 911.29 L320.42 910.42 L320.43 909.54 L320.44 908.63 L320.44 907.72 L320.45 906.79 L320.46 905.84 L320.47 904.88 L320.48 903.91 L320.49 902.92 L320.51 901.92 L320.52 900.91 L320.53 899.89 L320.55 898.86 L320.56 897.82 L320.58 896.76 L320.6 895.7 L320.61 894.61 L320.63 893.47 L320.65 892.26 L320.67 891.01 L320.69 889.72 L320.71 888.4 L320.73 887.06 L320.76 885.7 L320.78 884.33 L320.8 882.96 L320.83 881.6 L320.85 880.26 L320.88 878.94 L320.91 877.65 L320.94 876.41 L320.96 875.21 L320.99 874.07 L321.02 873 L321.05 871.99 L321.09 871.03 L321.12 870.09 L321.15 869.19 L321.18 868.31 L321.22 867.46 L321.25 866.62 L321.29 865.81 L321.33 865.01 L321.36 864.23 L321.4 863.46 L321.44 862.71 L321.48 861.96 L321.52 861.21 L321.56 860.47 L321.6 859.73 L321.65 858.99 L321.69 858.24 L321.73 857.49 L321.78 856.73 L321.82 855.96 L321.87 855.18 L321.92 854.38 L321.97 853.56 L322.01 852.73 L322.06 851.87 L322.11 850.99 L322.16 850.06 L322.22 849.11 L322.27 848.12 L322.32 847.11 L322.38 846.08 L322.43 845.04 L322.48 843.98 L322.54 842.91 L322.6 841.84 L322.66 840.76 L322.71 839.7 L322.77 838.64 L322.83 837.59 L322.89 836.56 L322.95 835.55 L323.02 834.57 L323.08 833.62 L323.14 832.7 L323.21 831.82 L323.27 830.98 L323.34 830.19 L323.4 829.44 L323.47 828.76 L323.54 828.12 L323.61 827.49 L323.68 826.88 L323.75 826.29 L323.82 825.72 L323.89 825.15 L323.96 824.61 L324.03 824.07 L324.11 823.55 L324.18 823.05 L324.26 822.55 L324.33 822.06 L324.41 821.59 L324.49 821.12 L324.56 820.66 L324.64 820.21 L324.72 819.77 L324.8 819.33 L324.88 818.9 L324.97 818.47 L325.05 818.05 L325.13 817.63 L325.22 817.21 L325.3 816.8 L325.39 816.39 L325.47 815.97 L325.56 815.56 L325.65 815.15 L325.74 814.73 L325.83 814.32 L325.92 813.9 L326.01 813.48 L326.1 813.07 L326.19 812.66 L326.28 812.26 L326.38 811.86 L326.47 811.46 L326.57 811.06 L326.66 810.67 L326.76 810.27 L326.86 809.89 L326.96 809.5 L327.06 809.12 L327.16 808.74 L327.26 808.36 L327.36 807.99 L327.46 807.62 L327.56 807.25 L327.66 806.89 L327.77 806.53 L327.87 806.17 L327.98 805.81 L328.09 805.46 L328.19 805.11 L328.3 804.76 L328.41 804.42 L328.52 804.08 L328.63 803.74 L328.74 803.4 L328.85 803.07 L328.96 802.74 L329.08 802.41 L329.19 802.09 L329.3 801.77 L329.42 801.45 L329.54 801.13 L329.65 800.81 L329.77 800.49 L329.89 800.18 L330.01 799.87 L330.13 799.55 L330.25 799.24 L330.37 798.93 L330.49 798.62 L330.61 798.32 L330.74 798.01 L330.86 797.71 L330.99 797.41 L331.11 797.11 L331.24 796.82 L331.37 796.52 L331.49 796.23 L331.62 795.94 L331.75 795.65 L331.88 795.37 L332.01 795.09 L332.14 794.81 L332.28 794.53 L332.41 794.25 L332.54 793.98 L332.68 793.71 L332.81 793.45 L332.95 793.19 L333.09 792.93 L333.22 792.67 L333.36 792.42 L333.5 792.17 L333.64 791.92 L333.78 791.68 L333.92 791.44 L334.06 791.2 L334.21 790.97 L334.35 790.74 L334.49 790.52 L334.64 790.3 L334.78 790.08 L334.93 789.86 L335.08 789.65 L335.23 789.44 L335.37 789.23 L335.52 789.02 L335.67 788.82 L335.82 788.61 L335.98 788.41 L336.13 788.22 L336.28 788.02 L336.44 787.83 L336.59 787.63 L336.75 787.44 L336.9 787.25 L337.06 787.07 L337.22 786.88 L337.37 786.7 L337.53 786.52 L337.69 786.34 L337.85 786.16 L338.01 785.98 L338.18 785.81 L338.34 785.63 L338.5 785.46 L338.67 785.29 L338.83 785.12 L339 784.95 L339.16 784.78 L339.33 784.61 L339.5 784.45 L339.67 784.28 L339.84 784.12 L340.01 783.95 L340.18 783.79 L340.35 783.63 L340.52 783.47 L340.7 783.31 L340.87 783.15 L341.04 782.99 L341.22 782.84 L341.4 782.68 L341.57 782.52 L341.75 782.36 L341.93 782.21 L342.11 782.05 L342.29 781.89 L342.47 781.74 L342.65 781.58 L342.83 781.43 L343.01 781.27 L343.2 781.12 L343.38 780.96 L343.57 780.81 L343.75 780.66 L343.94 780.5 L344.12 780.35 L344.31 780.2 L344.5 780.05 L344.69 779.9 L344.88 779.76 L345.07 779.61 L345.26 779.46 L345.46 779.32 L345.65 779.18 L345.84 779.03 L346.04 778.89 L346.23 778.75 L346.43 778.61 L346.63 778.48 L346.82 778.34 L347.02 778.21 L347.22 778.08 L347.42 777.94 L347.62 777.81 L347.82 777.69 L348.02 777.56 L348.23 777.44 L348.43 777.31 L348.63 777.19 L348.84 777.07 L349.05 776.96 L349.25 776.84 L349.46 776.73 L349.67 776.62 L349.88 776.51 L350.08 776.4 L350.3 776.3 L350.51 776.2 L350.72 776.1 L350.93 776 L351.14 775.9 L351.36 775.8 L351.57 775.71 L351.79 775.61 L352 775.52 L352.22 775.42 L352.44 775.33 L352.66 775.24 L352.87 775.15 L353.09 775.06 L353.32 774.97 L353.54 774.88 L353.76 774.79 L353.98 774.7 L354.2 774.62 L354.43 774.53 L354.65 774.45 L354.88 774.36 L355.11 774.28 L355.33 774.2 L355.56 774.12 L355.79 774.04 L356.02 773.96 L356.25 773.88 L356.48 773.8 L356.71 773.73 L356.94 773.65 L357.18 773.58 L357.41 773.5 L357.65 773.43 L357.88 773.36 L358.12 773.29 L358.35 773.22 L358.59 773.15 L358.83 773.09 L359.07 773.02 L359.31 772.96 L359.55 772.89 L359.79 772.83 L360.03 772.77 L360.28 772.71 L360.52 772.65 L360.76 772.59 L361.01 772.53 L361.25 772.48 L361.5 772.42 L361.75 772.37 L362 772.32 L362.24 772.27 L362.49 772.22 L362.74 772.17 L363 772.12 L363.25 772.07 L363.5 772.02 L363.75 771.97 L364.01 771.92 L364.26 771.88 L364.52 771.83 L364.77 771.79 L365.03 771.74 L365.29 771.7 L365.55 771.65 L365.8 771.61 L366.06 771.56 L366.33 771.52 L366.59 771.48 L366.85 771.43 L367.11 771.39 L367.37 771.35 L367.64 771.31 L367.9 771.27 L368.17 771.23 L368.44 771.19 L368.7 771.15 L368.97 771.11 L369.24 771.07 L369.51 771.04 L369.78 771 L370.05 770.96 L370.32 770.92 L370.59 770.89 L370.87 770.85 L371.14 770.82 L371.42 770.78 L371.69 770.75 L371.97 770.71 L372.25 770.68 L372.52 770.64 L372.8 770.61 L373.08 770.58 L373.36 770.55 L373.64 770.51 L373.92 770.48 L374.2 770.45 L374.49 770.42 L374.77 770.39 L375.05 770.36 L375.34 770.33 L375.63 770.3 L375.91 770.27 L376.2 770.24 L376.49 770.21 L376.78 770.18 L377.07 770.16 L377.36 770.13 L377.65 770.1 L377.94 770.07 L378.23 770.05 L378.52 770.02 L378.82 769.99 L379.11 769.97 L379.41 769.94 L379.7 769.92 L380 769.89 L380.3 769.87 L380.6 769.84 L380.9 769.82 L381.2 769.79 L381.5 769.77 L381.8 769.75 L382.1 769.72 L382.4 769.7 L382.71 769.67 L383.01 769.65 L383.32 769.63 L383.62 769.6 L383.93 769.58 L384.24 769.56 L384.54 769.54 L384.85 769.51 L385.16 769.49 L385.47 769.47 L385.78 769.45 L386.09 769.42 L386.41 769.4 L386.72 769.38 L387.03 769.36 L387.35 769.34 L387.66 769.32 L387.98 769.3 L388.3 769.28 L388.61 769.26 L388.93 769.24 L389.25 769.22 L389.57 769.19 L389.89 769.17 L390.21 769.16 L390.54 769.14 L390.86 769.12 L391.18 769.1 L391.51 769.08 L391.83 769.06 L392.16 769.04 L392.48 769.02 L392.81 769 L393.14 768.98 L393.47 768.96 L393.8 768.95 L394.13 768.93 L394.46 768.91 L394.79 768.89 L395.12 768.87 L395.46 768.86 L395.79 768.84 L396.13 768.82 L396.46 768.8 L396.8 768.79 L397.13 768.77 L397.47 768.75 L397.81 768.74 L398.15 768.72 L398.49 768.7 L398.83 768.69 L399.17 768.67 L399.51 768.65 L399.86 768.64 L400.2 768.62 L400.54 768.61 L400.89 768.59 L401.23 768.58 L401.58 768.56 L401.93 768.55 L402.28 768.53 L402.63 768.51 L402.97 768.5 L403.33 768.49 L403.68 768.47 L404.03 768.46 L404.38 768.44 L404.73 768.43 L405.09 768.41 L405.44 768.4 L405.8 768.38 L406.15 768.37 L406.51 768.36 L406.87 768.34 L407.23 768.33 L407.59 768.32 L407.95 768.3 L408.31 768.29 L408.67 768.28 L409.03 768.26 L409.39 768.25 L409.76 768.24 L410.12 768.22 L410.49 768.21 L410.85 768.2 L411.22 768.18 L411.59 768.17 L411.95 768.16 L412.32 768.14 L412.69 768.13 L413.06 768.12 L413.43 768.1 L413.81 768.09 L414.18 768.08 L414.55 768.06 L414.93 768.05 L415.3 768.04 L415.68 768.02 L416.05 768.01 L416.43 768 L416.81 767.99 L417.18 767.97 L417.56 767.96 L417.94 767.95 L418.32 767.94 L418.71 767.92 L419.09 767.91 L419.47 767.9 L419.85 767.89 L420.24 767.87 L420.62 767.86 L421.01 767.85 L421.4 767.84 L421.78 767.82 L422.17 767.81 L422.56 767.8 L422.95 767.79 L423.34 767.78 L423.73 767.77 L424.12 767.75 L424.52 767.74 L424.91 767.73 L425.3 767.72 L425.7 767.71 L426.09 767.7 L426.49 767.69 L426.89 767.68 L427.28 767.66 L427.68 767.65 L428.08 767.64 L428.48 767.63 L428.88 767.62 L429.28 767.61 L429.69 767.6 L430.09 767.59 L430.49 767.58 L430.9 767.57 L431.3 767.56 L431.71 767.55 L432.11 767.54 L432.52 767.53 L432.93 767.52 L433.34 767.52 L433.75 767.51 L434.16 767.5 L434.57 767.49 L434.98 767.48 L435.39 767.47 L435.81 767.46 L436.22 767.46 L436.64 767.45 L437.05 767.44 L437.47 767.43 L437.88 767.42 L438.3 767.42 L438.72 767.41 L439.14 767.4 L439.56 767.4 L439.98 767.39 L440.4 767.38 L440.82 767.38 L441.25 767.37 L441.67 767.36 L442.1 767.36 L442.52 767.35 L442.95 767.35 L443.37 767.34 L443.8 767.34 L444.23 767.33 L444.66 767.33 L445.09 767.32 L445.52 767.32 L445.95 767.31 L446.38 767.31 L446.81 767.3 L447.25 767.3 L447.68 767.3 L448.11 767.29 L448.55 767.29 L448.99 767.28 L449.42 767.28 L449.86 767.28 L450.3 767.27 L450.74 767.27 L451.18 767.27 L451.62 767.26 L452.06 767.26 L452.5 767.25 L452.95 767.25 L453.39 767.25 L453.83 767.24 L454.28 767.24 L454.73 767.24 L455.17 767.23 L455.62 767.23 L456.07 767.22 L456.52 767.22 L456.97 767.22 L457.42 767.21 L457.87 767.21 L458.32 767.21 L458.77 767.2 L459.22 767.2 L459.68 767.2 L460.13 767.19 L460.59 767.19 L461.05 767.19 L461.5 767.18 L461.96 767.18 L462.42 767.18 L462.88 767.17 L463.34 767.17 L463.8 767.17 L464.26 767.17 L464.72 767.16 L465.19 767.16 L465.65 767.16 L466.11 767.15 L466.58 767.15 L467.04 767.15 L467.51 767.15 L467.98 767.14 L468.45 767.14 L468.92 767.14 L469.39 767.14 L469.86 767.14 L470.33 767.13 L470.8 767.13 L471.27 767.13 L471.74 767.13 L472.22 767.13 L472.69 767.12 L473.17 767.12 L473.64 767.12 L474.12 767.12 L474.6 767.12 L475.08 767.11 L475.56 767.11 L476.04 767.11 L476.52 767.11 L477 767.11 L477.48 767.11 L477.96 767.11 L478.45 767.11 L478.93 767.11 L479.42 767.1 L479.9 767.1 L480.39 767.1 L480.88 767.1 L481.37 767.1 L481.86 767.1 L482.34 767.1 L482.84 767.1 L483.33 767.1 L483.82 767.1 L484.31 767.1 L484.8 767.1 L485.3 767.1 L485.79 767.1 L486.29 767.1 L486.78 767.1 L487.28 767.1 L487.78 767.1 L488.28 767.1 L488.78 767.1 L489.28 767.1 L489.78 767.1 L490.28 767.1 L490.78 767.1 L491.28 767.1 L491.79 767.1 L492.29 767.1 L492.8 767.1 L493.3 767.1 L493.81 767.1 L494.32 767.1 L494.83 767.1 L495.34 767.1 L495.84 767.1 L496.36 767.1 L496.87 767.1 L497.38 767.1 L497.89 767.1 L498.4 767.1 L498.92 767.1 L499.43 767.1 L499.95 767.1 L500.47 767.1 L500.98 767.1 L501.5 767.1" fill="none" stroke="#2f9a2f" stroke-width="2.7" stroke-linejoin="round" stroke-linecap="round"/>
<line x1="313.2" y1="766.25" x2="313.2" y2="923.55" stroke="#111" stroke-width="1.9"/>
<line x1="313.2" y1="922.6" x2="502.35" y2="922.6" stroke="#111" stroke-width="1.9"/>
<line x1="308.1" y1="916.9" x2="313.2" y2="916.9" stroke="#111" stroke-width="1.7"/>
<text x="306.1" y="922.6" font-size="15" text-anchor="end" fill="#0a0a0a">0.0</text>
<line x1="320.4" y1="922.6" x2="320.4" y2="927.7" stroke="#111" stroke-width="1.7"/>
<text x="320.4" y="943.9" font-size="15" text-anchor="middle" fill="#0a0a0a">0.0</text>
<line x1="308.1" y1="886.94" x2="313.2" y2="886.94" stroke="#111" stroke-width="1.7"/>
<text x="306.1" y="892.64" font-size="15" text-anchor="end" fill="#0a0a0a">0.2</text>
<line x1="356.62" y1="922.6" x2="356.62" y2="927.7" stroke="#111" stroke-width="1.7"/>
<text x="356.62" y="943.9" font-size="15" text-anchor="middle" fill="#0a0a0a">0.2</text>
<line x1="308.1" y1="856.98" x2="313.2" y2="856.98" stroke="#111" stroke-width="1.7"/>
<text x="306.1" y="862.68" font-size="15" text-anchor="end" fill="#0a0a0a">0.4</text>
<line x1="392.84" y1="922.6" x2="392.84" y2="927.7" stroke="#111" stroke-width="1.7"/>
<text x="392.84" y="943.9" font-size="15" text-anchor="middle" fill="#0a0a0a">0.4</text>
<line x1="308.1" y1="827.02" x2="313.2" y2="827.02" stroke="#111" stroke-width="1.7"/>
<text x="306.1" y="832.72" font-size="15" text-anchor="end" fill="#0a0a0a">0.6</text>
<line x1="429.06" y1="922.6" x2="429.06" y2="927.7" stroke="#111" stroke-width="1.7"/>
<text x="429.06" y="943.9" font-size="15" text-anchor="middle" fill="#0a0a0a">0.6</text>
<line x1="308.1" y1="797.06" x2="313.2" y2="797.06" stroke="#111" stroke-width="1.7"/>
<text x="306.1" y="802.76" font-size="15" text-anchor="end" fill="#0a0a0a">0.8</text>
<line x1="465.28" y1="922.6" x2="465.28" y2="927.7" stroke="#111" stroke-width="1.7"/>
<text x="465.28" y="943.9" font-size="15" text-anchor="middle" fill="#0a0a0a">0.8</text>
<line x1="308.1" y1="767.1" x2="313.2" y2="767.1" stroke="#111" stroke-width="1.7"/>
<text x="306.1" y="772.8" font-size="15" text-anchor="end" fill="#0a0a0a">1.0</text>
<line x1="501.5" y1="922.6" x2="501.5" y2="927.7" stroke="#111" stroke-width="1.7"/>
<text x="501.5" y="943.9" font-size="15" text-anchor="middle" fill="#0a0a0a">1.0</text>
<text x="275.9" y="846" font-size="14.75" text-anchor="middle" fill="#0a0a0a" transform="rotate(-90 275.9 846)">Sensitivity</text>
<text x="410.9" y="960.6" font-size="14.75" text-anchor="middle" fill="#0a0a0a">1 - specificity</text>
<text x="410.95" y="838.1" font-size="14.75" text-anchor="middle" fill="#0a0a0a">Respiratory</text>
<text x="410.95" y="855.6" font-size="14.75" text-anchor="middle" fill="#0a0a0a">AUC: 0.953 (0.949 - 0.956)</text>
<path d="M583.6 916.9 L583.6 916.9 L583.6 916.3 L583.61 916.3 L583.61 915.57 L583.61 915.57 L583.61 914.99 L583.61 914.58 L583.61 914.58 L583.61 914.58 L583.61 914.1 L583.61 913.28 L583.62 913.28 L583.62 912.92 L583.62 912.92 L583.62 912.52 L583.62 912.52 L583.62 912.52 L583.62 911.16 L583.63 911.16 L583.63 909.83 L583.63 909.83 L583.63 909.16 L583.63 909.16 L583.63 908.57 L583.63 908.21 L583.64 908.21 L583.64 908.21 L583.64 907.79 L583.64 907.79 L583.64 907.37 L583.64 907.37 L583.64 906.73 L583.65 906.73 L583.65 905.88 L583.65 905.88 L583.65 905.21 L583.65 904.04 L583.65 904.04 L583.65 903.66 L583.65 903.66 L583.65 901.51 L583.66 901.51 L583.67 901.51 L583.67 900 L583.67 900 L583.67 899.25 L583.67 898.65 L583.68 898.65 L583.68 897.94 L583.68 897.94 L583.68 897.94 L583.68 897.22 L583.68 896.69 L583.68 896.69 L583.69 896.69 L583.69 896.11 L583.69 896.11 L583.69 895.67 L583.69 892.54 L583.7 892.54 L583.7 891.36 L583.71 891.36 L583.71 891.36 L583.71 890.27 L583.71 889.8 L583.71 889.8 L583.71 889.8 L583.71 889.27 L583.73 889.27 L583.73 886.7 L583.73 886.7 L583.73 886.03 L583.73 886.03 L583.73 885.58 L583.73 884.3 L583.74 884.3 L583.74 884.3 L583.74 883.76 L583.74 883.76 L583.74 882.58 L583.75 882.58 L583.75 881.81 L583.75 881.81 L583.75 880.92 L583.75 880.92 L583.75 880.26 L583.75 879.74 L583.75 879.74 L583.76 879.74 L583.76 877.44 L583.77 877.44 L583.77 876.95 L583.77 875.92 L583.77 875.92 L583.77 875.92 L583.77 875.5 L583.77 874.64 L583.78 874.64 L583.78 874.26 L583.78 874.26 L583.78 874.26 L583.78 873.13 L583.78 871.72 L583.79 871.72 L583.79 870.54 L583.79 870.54 L583.79 870.12 L583.79 870.12 L583.8 870.12 L583.8 869.34 L583.8 868.89 L583.8 868.89 L583.8 868.3 L583.8 868.3 L583.8 867.5 L583.8 867.5 L583.81 867.5 L583.81 866.67 L583.81 866.67 L583.81 865.89 L583.81 865.16 L583.81 865.16 L583.82 865.16 L583.82 864.73 L583.82 864.73 L583.82 864.38 L583.82 864.09 L583.82 864.09 L583.82 864.09 L583.82 863.62 L583.82 863.62 L583.82 863.28 L583.82 863.28 L583.82 862.87 L583.82 862.23 L583.83 862.23 L583.83 860.91 L583.83 860.91 L583.83 860.91 L583.83 860.6 L583.84 860.6 L583.84 859.74 L583.84 859.74 L583.84 858.32 L583.84 857.28 L583.85 857.28 L583.85 857.28 L583.85 856.1 L583.85 855.67 L583.85 855.67 L583.86 855.67 L583.86 855.34 L583.86 854.82 L583.86 854.82 L583.86 854.82 L583.86 854.51 L583.86 854.51 L583.86 854.2 L583.86 854.2 L583.86 853.3 L583.87 853.3 L583.87 851.85 L583.87 851.85 L583.87 851.03 L583.87 850.22 L583.88 850.22 L583.88 850.22 L583.88 849.6 L583.88 849.6 L583.88 849.01 L583.88 848.34 L583.88 848.34 L583.89 848.34 L583.89 848.03 L583.89 847.42 L583.89 847.42 L583.89 846.3 L583.89 846.3 L583.89 845.62 L583.9 845.62 L583.9 845.62 L583.9 845.12 L583.9 844.07 L583.9 844.07 L583.9 843.49 L583.9 843.49 L583.9 842.88 L583.91 842.88 L583.91 842.88 L583.91 842.59 L583.92 842.59 L583.92 840.73 L583.92 840.73 L583.92 839.84 L583.92 839.84 L583.92 839.44 L583.92 837.7 L583.93 837.7 L583.93 836.03 L583.94 836.03 L583.94 835.36 L583.94 835.36 L583.94 835.36 L583.94 834.94 L583.94 834.36 L583.94 834.36 L583.94 832.91 L583.95 832.91 L583.95 831.59 L583.95 831.59 L583.95 829.73 L583.96 829.73 L583.97 829.73 L583.97 829.37 L583.97 828.96 L583.99 828.96 L584.04 828.96 L584.04 827.8 L584.04 827.05 L584.08 827.05 L584.13 827.05 L584.13 825.77 L584.13 824.75 L584.18 824.75 L584.19 824.75 L584.19 824.45 L584.22 824.45 L584.22 823.85 L584.22 822.38 L584.29 822.38 L584.29 821.4 L584.33 821.4 L584.35 821.4 L584.35 820.9 L584.39 820.9 L584.39 820.07 L584.39 818.24 L584.47 818.24 L584.47 817.69 L584.5 817.69 L584.55 817.69 L584.55 817.14 L584.66 817.14 L584.66 816.02 L584.66 815.57 L584.7 815.57 L584.95 815.57 L584.95 813.1 L584.95 811.95 L585.06 811.95 L585.06 811.6 L585.1 811.6 L585.16 811.6 L585.16 810.98 L585.23 810.98 L585.23 810.27 L585.27 810.27 L585.27 809.88 L585.31 809.88 L585.31 809.48 L585.39 809.48 L585.39 808.63 L585.49 808.63 L585.49 807.65 L585.49 807.26 L585.53 807.26 L585.53 805.78 L585.68 805.78 L585.76 805.78 L585.76 804.91 L585.76 804.59 L585.83 804.59 L585.83 804.2 L585.92 804.2 L585.92 803.42 L586.1 803.42 L586.1 802.93 L586.21 802.93 L586.21 799.77 L586.94 799.77 L586.94 798.85 L587.15 798.85 L587.15 797.48 L587.59 797.48 L587.59 796.2 L588.03 796.2 L588.03 795.9 L588.14 795.9 L588.31 795.9 L588.31 795.4 L588.31 794.14 L589.18 794.14 L589.57 794.14 L589.57 793.56 L589.94 793.56 L589.94 793.02 L590.27 793.02 L590.27 792.55 L590.27 792.32 L590.43 792.32 L590.6 792.32 L590.6 792.07 L590.79 792.07 L590.79 791.79 L591.85 791.79 L591.85 790.25 L592.42 790.25 L592.42 789.41 L592.42 789.05 L592.67 789.05 L593.58 789.05 L593.58 787.75 L593.58 786.52 L595.4 786.52 L595.95 786.52 L595.95 786.14 L595.95 785.85 L596.37 785.85 L596.37 785.32 L597.15 785.32 L597.4 785.32 L597.4 785.15 L597.4 784.09 L598.96 784.09 L599.4 784.09 L599.4 783.79 L599.77 783.79 L599.77 783.54 L600.09 783.54 L600.09 783.33 L600.42 783.33 L600.42 783.1 L600.7 783.1 L600.7 782.91 L600.7 782.73 L600.97 782.73 L601.32 782.73 L601.32 782.53 L601.85 782.53 L601.85 782.29 L602.31 782.29 L602.31 782.09 L602.73 782.09 L602.73 781.91 L602.73 781.53 L603.59 781.53 L603.59 781.33 L604.04 781.33 L604.04 781.11 L604.54 781.11 L605.18 781.11 L605.18 780.83 L605.18 780.12 L606.8 780.12 L606.8 779.59 L608 779.59 L608.25 779.59 L608.25 779.48 L609.94 779.48 L609.94 778.75 L609.94 778.62 L610.36 778.62 L611.23 778.62 L611.23 778.35 L611.23 778.2 L611.69 778.2 L611.69 778.11 L611.98 778.11 L611.98 777.94 L612.54 777.94 L613.47 777.94 L613.47 777.65 L613.47 777.18 L614.98 777.18 L615.5 777.18 L615.5 777.01 L615.81 777.01 L615.81 776.92 L615.81 776.63 L616.74 776.63 L617.22 776.63 L617.22 776.48 L617.22 776.33 L617.7 776.33 L618.02 776.33 L618.02 776.23 L618.92 776.23 L618.92 775.95 L618.92 775.81 L619.35 775.81 L619.35 775.67 L619.81 775.67 L620.53 775.67 L620.53 775.44 L620.96 775.44 L620.96 775.33 L622.4 775.33 L622.4 775.23 L622.74 775.23 L622.74 775.21 L622.74 775.18 L623.15 775.18 L623.87 775.18 L623.87 775.13 L623.87 775.09 L624.35 775.09 L624.35 775.01 L625.49 775.01 L625.49 774.96 L626.19 774.96 L626.49 774.96 L626.49 774.94 L627.54 774.94 L627.54 774.86 L627.54 774.83 L628.03 774.83 L628.03 774.79 L628.57 774.79 L628.57 774.75 L629.12 774.75 L629.12 774.69 L629.92 774.69 L629.92 774.65 L630.57 774.65 L631.33 774.65 L631.33 774.59 L631.33 774.52 L632.36 774.52 L632.36 774.5 L632.69 774.5 L632.69 774.44 L633.44 774.44 L633.44 774.41 L633.86 774.41 L633.86 774.35 L634.71 774.35 L634.71 774.2 L636.81 774.2 L637.51 774.2 L637.51 774.15 L637.51 774.1 L638.23 774.1 L638.23 774.06 L638.77 774.06 L639.51 774.06 L639.51 774.01 L640.23 774.01 L640.23 773.96 L640.23 773.92 L640.74 773.92 L641.06 773.92 L641.06 773.9 L641.06 773.86 L641.65 773.86 L641.65 773.79 L642.6 773.79 L642.98 773.79 L642.98 773.77 L642.98 773.73 L643.52 773.73 L643.52 773.65 L644.12 773.65 L644.12 773.3 L644.92 773.3 L644.92 773.18 L645.18 773.18 L646.99 773.18 L646.99 772.39 L647.28 772.39 L647.28 772.26 L647.28 771.95 L647.99 771.95 L647.99 771.71 L648.53 771.71 L648.53 771.41 L649.22 771.41 L649.92 771.41 L649.92 771.1 L649.92 770.94 L652.44 770.94 L652.44 770.91 L653.05 770.91 L653.9 770.91 L653.9 770.86 L653.9 770.82 L654.66 770.82 L654.66 770.78 L655.45 770.78 L655.45 770.74 L656.23 770.74 L657.33 770.74 L657.33 770.68 L658.98 770.68 L658.98 770.59 L659.92 770.59 L659.92 770.54 L659.92 770.52 L660.23 770.52 L660.23 770.5 L660.77 770.5 L661.22 770.5 L661.22 770.47 L661.22 770.45 L661.7 770.45 L661.7 770.35 L663.42 770.35 L663.42 770.32 L664 770.32 L664 770.3 L664.38 770.3 L664.38 770.27 L664.97 770.27 L664.97 770.25 L665.37 770.25 L665.37 770.23 L665.69 770.23 L666.28 770.23 L666.28 770.2 L666.28 770.18 L666.76 770.18 L667.37 770.18 L667.37 770.14 L667.37 770.12 L667.8 770.12 L668.67 770.12 L668.67 770.07 L669.88 770.07 L669.88 770.01 L670.32 770.01 L670.32 769.99 L670.32 769.95 L670.99 769.95 L672.76 769.95 L672.76 769.86 L673.1 769.86 L673.1 769.84 L673.57 769.84 L673.57 769.81 L673.57 769.78 L674 769.78 L674.56 769.78 L674.56 769.73 L674.56 769.67 L675.22 769.67 L675.22 769.56 L676.44 769.56 L677.4 769.56 L677.4 769.47 L677.92 769.47 L677.92 769.42 L678.28 769.42 L678.28 769.38 L678.62 769.38 L678.62 769.35 L679.9 769.35 L679.9 769.23 L679.9 769.17 L680.54 769.17 L682.38 769.17 L682.38 769 L682.38 768.97 L682.77 768.97 L683.25 768.97 L683.25 768.92 L683.62 768.92 L683.62 768.89 L684.04 768.89 L684.04 768.85 L684.04 768.8 L684.55 768.8 L684.55 768.74 L685.16 768.74 L685.64 768.74 L685.64 768.7 L689.46 768.7 L689.46 768.34 L689.46 768.24 L690.54 768.24 L691.41 768.24 L691.41 768.16 L691.41 768.13 L691.69 768.13 L692.01 768.13 L692.01 768.1 L692.01 767.84 L694.82 767.84 L694.82 767.68 L696.52 767.68 L697.13 767.68 L697.13 767.63 L697.13 767.58 L697.64 767.58 L697.64 767.46 L698.87 767.46 L698.87 767.42 L699.35 767.42 L700.27 767.42 L700.27 767.38 L701.04 767.38 L701.04 767.35 L701.53 767.35 L701.53 767.33 L702.38 767.33 L702.38 767.3 L702.97 767.3 L702.97 767.28 L702.97 767.27 L703.28 767.27 L704.29 767.27 L704.29 767.24 L704.29 767.19 L705.85 767.19 L708.81 767.19 L708.81 767.1 L709.16 767.1 L709.16 767.1 L709.16 767.1 L710.2 767.1 L710.2 767.1 L710.62 767.1 L710.62 767.1 L711.32 767.1 L711.63 767.1 L711.63 767.1 L712.24 767.1 L712.24 767.1 L715.03 767.1 L715.03 767.1 L715.86 767.1 L715.86 767.1 L716.99 767.1 L716.99 767.1 L717.49 767.1 L717.49 767.1 L717.49 767.1 L717.84 767.1 L717.84 767.1 L718.54 767.1 L719.15 767.1 L719.15 767.1 L719.64 767.1 L719.64 767.1 L719.64 767.1 L721.44 767.1 L721.95 767.1 L721.95 767.1 L721.95 767.1 L722.29 767.1 L723.3 767.1 L723.3 767.1 L723.3 767.1 L723.91 767.1 L723.91 767.1 L724.52 767.1 L724.52 767.1 L724.92 767.1 L725.26 767.1 L725.26 767.1 L725.74 767.1 L725.74 767.1 L727.1 767.1 L727.1 767.1 L727.1 767.1 L727.73 767.1 L728.19 767.1 L728.19 767.1 L728.89 767.1 L728.89 767.1 L729.43 767.1 L729.43 767.1 L729.43 767.1 L731.03 767.1 L731.03 767.1 L731.99 767.1 L732.46 767.1 L732.46 767.1 L732.46 767.1 L733.71 767.1 L735.57 767.1 L735.57 767.1 L736.09 767.1 L736.09 767.1 L736.09 767.1 L738.86 767.1 L739.82 767.1 L739.82 767.1 L740.26 767.1 L740.26 767.1 L740.26 767.1 L740.73 767.1 L740.73 767.1 L741.96 767.1 L742.42 767.1 L742.42 767.1 L743.42 767.1 L743.42 767.1 L743.42 767.1 L743.82 767.1 L744.16 767.1 L744.16 767.1 L744.45 767.1 L744.45 767.1 L745.09 767.1 L745.09 767.1 L745.41 767.1 L745.41 767.1 L747 767.1 L747 767.1 L747 767.1 L747.43 767.1 L747.43 767.1 L748.27 767.1 L749.89 767.1 L749.89 767.1 L750.93 767.1 L750.93 767.1 L750.93 767.1 L752.77 767.1 L752.77 767.1 L753.15 767.1 L753.15 767.1 L753.45 767.1 L753.45 767.1 L754.1 767.1 L754.1 767.1 L755.18 767.1 L755.85 767.1 L755.85 767.1 L757.5 767.1 L757.5 767.1 L758.67 767.1 L758.67 767.1 L758.67 767.1 L760.25 767.1 L760.25 767.1 L760.74 767.1 L761.13 767.1 L761.13 767.1 L761.63 767.1 L761.63 767.1 L761.63 767.1 L762.05 767.1 L762.05 767.1 L762.66 767.1 L763.1 767.1 L763.1 767.1 L763.1 767.1 L764.29 767.1 L764.5 767.1 L764.5 767.1" fill="none" stroke="#2f9a2f" stroke-width="2.7" stroke-linejoin="round" stroke-linecap="round"/>
<line x1="576.5" y1="766.25" x2="576.5" y2="923.55" stroke="#111" stroke-width="1.9"/>
<line x1="576.5" y1="922.6" x2="765.35" y2="922.6" stroke="#111" stroke-width="1.9"/>
<line x1="571.4" y1="916.9" x2="576.5" y2="916.9" stroke="#111" stroke-width="1.7"/>
<text x="569.4" y="922.6" font-size="15" text-anchor="end" fill="#0a0a0a">0.0</text>
<line x1="583.6" y1="922.6" x2="583.6" y2="927.7" stroke="#111" stroke-width="1.7"/>
<text x="583.6" y="943.9" font-size="15" text-anchor="middle" fill="#0a0a0a">0.0</text>
<line x1="571.4" y1="886.94" x2="576.5" y2="886.94" stroke="#111" stroke-width="1.7"/>
<text x="569.4" y="892.64" font-size="15" text-anchor="end" fill="#0a0a0a">0.2</text>
<line x1="619.78" y1="922.6" x2="619.78" y2="927.7" stroke="#111" stroke-width="1.7"/>
<text x="619.78" y="943.9" font-size="15" text-anchor="middle" fill="#0a0a0a">0.2</text>
<line x1="571.4" y1="856.98" x2="576.5" y2="856.98" stroke="#111" stroke-width="1.7"/>
<text x="569.4" y="862.68" font-size="15" text-anchor="end" fill="#0a0a0a">0.4</text>
<line x1="655.96" y1="922.6" x2="655.96" y2="927.7" stroke="#111" stroke-width="1.7"/>
<text x="655.96" y="943.9" font-size="15" text-anchor="middle" fill="#0a0a0a">0.4</text>
<line x1="571.4" y1="827.02" x2="576.5" y2="827.02" stroke="#111" stroke-width="1.7"/>
<text x="569.4" y="832.72" font-size="15" text-anchor="end" fill="#0a0a0a">0.6</text>
<line x1="692.14" y1="922.6" x2="692.14" y2="927.7" stroke="#111" stroke-width="1.7"/>
<text x="692.14" y="943.9" font-size="15" text-anchor="middle" fill="#0a0a0a">0.6</text>
<line x1="571.4" y1="797.06" x2="576.5" y2="797.06" stroke="#111" stroke-width="1.7"/>
<text x="569.4" y="802.76" font-size="15" text-anchor="end" fill="#0a0a0a">0.8</text>
<line x1="728.32" y1="922.6" x2="728.32" y2="927.7" stroke="#111" stroke-width="1.7"/>
<text x="728.32" y="943.9" font-size="15" text-anchor="middle" fill="#0a0a0a">0.8</text>
<line x1="571.4" y1="767.1" x2="576.5" y2="767.1" stroke="#111" stroke-width="1.7"/>
<text x="569.4" y="772.8" font-size="15" text-anchor="end" fill="#0a0a0a">1.0</text>
<line x1="764.5" y1="922.6" x2="764.5" y2="927.7" stroke="#111" stroke-width="1.7"/>
<text x="764.5" y="943.9" font-size="15" text-anchor="middle" fill="#0a0a0a">1.0</text>
<text x="537" y="846.9" font-size="14.75" text-anchor="middle" fill="#0a0a0a" transform="rotate(-90 537 846.9)">Sensitivity</text>
<text x="674.3" y="960.6" font-size="14.75" text-anchor="middle" fill="#0a0a0a">1 - specificity</text>
<text x="674.05" y="838.1" font-size="14.75" text-anchor="middle" fill="#0a0a0a">Blood and lymphatic</text>
<text x="674.05" y="855.6" font-size="14.75" text-anchor="middle" fill="#0a0a0a">AUC: 0.959 (0.946 - 0.971)</text>
<path d="M844.4 916.1 L844.4 914.85 L844.4 913.55 L844.4 912.2 L844.41 910.8 L844.41 909.36 L844.41 907.87 L844.42 906.34 L844.42 904.77 L844.43 903.16 L844.44 901.52 L844.44 899.84 L844.45 898.13 L844.46 896.39 L844.47 894.63 L844.48 892.74 L844.49 890.71 L844.51 888.56 L844.52 886.34 L844.53 884.07 L844.55 881.81 L844.56 879.58 L844.58 877.42 L844.6 875.38 L844.61 873.49 L844.63 871.78 L844.65 870.19 L844.67 868.68 L844.69 867.24 L844.71 865.86 L844.73 864.52 L844.76 863.23 L844.78 861.97 L844.8 860.72 L844.83 859.49 L844.85 858.25 L844.88 857.01 L844.91 855.75 L844.93 854.45 L844.96 853.12 L844.99 851.74 L845.02 850.3 L845.05 848.81 L845.08 847.27 L845.12 845.69 L845.15 844.09 L845.18 842.47 L845.22 840.83 L845.25 839.19 L845.29 837.56 L845.33 835.93 L845.36 834.33 L845.4 832.76 L845.44 831.22 L845.48 829.73 L845.52 828.29 L845.56 826.92 L845.6 825.61 L845.65 824.39 L845.69 823.24 L845.73 822.12 L845.78 821.02 L845.82 819.95 L845.87 818.9 L845.92 817.88 L845.96 816.88 L846.01 815.9 L846.06 814.95 L846.11 814.02 L846.16 813.12 L846.21 812.24 L846.27 811.38 L846.32 810.56 L846.37 809.76 L846.43 808.98 L846.48 808.23 L846.54 807.51 L846.6 806.81 L846.65 806.14 L846.71 805.48 L846.77 804.84 L846.83 804.21 L846.89 803.59 L846.95 803 L847.01 802.41 L847.07 801.84 L847.14 801.28 L847.2 800.73 L847.27 800.2 L847.33 799.68 L847.4 799.17 L847.47 798.67 L847.53 798.19 L847.6 797.71 L847.67 797.25 L847.74 796.8 L847.81 796.35 L847.88 795.92 L847.96 795.5 L848.03 795.08 L848.1 794.67 L848.18 794.27 L848.25 793.87 L848.33 793.48 L848.4 793.09 L848.48 792.71 L848.56 792.34 L848.64 791.97 L848.72 791.6 L848.8 791.24 L848.88 790.89 L848.96 790.54 L849.04 790.2 L849.13 789.86 L849.21 789.53 L849.3 789.21 L849.38 788.89 L849.47 788.58 L849.56 788.27 L849.64 787.97 L849.73 787.68 L849.82 787.39 L849.91 787.11 L850 786.84 L850.09 786.57 L850.19 786.31 L850.28 786.06 L850.37 785.82 L850.47 785.58 L850.56 785.34 L850.66 785.11 L850.75 784.88 L850.85 784.65 L850.95 784.43 L851.05 784.21 L851.15 783.99 L851.25 783.78 L851.35 783.57 L851.45 783.36 L851.55 783.16 L851.66 782.95 L851.76 782.75 L851.87 782.56 L851.97 782.36 L852.08 782.17 L852.18 781.99 L852.29 781.8 L852.4 781.62 L852.51 781.44 L852.62 781.26 L852.73 781.09 L852.84 780.91 L852.95 780.74 L853.07 780.58 L853.18 780.41 L853.3 780.25 L853.41 780.09 L853.53 779.94 L853.64 779.78 L853.76 779.63 L853.88 779.48 L854 779.34 L854.12 779.19 L854.24 779.05 L854.36 778.91 L854.48 778.78 L854.6 778.64 L854.73 778.51 L854.85 778.38 L854.97 778.25 L855.1 778.12 L855.23 778 L855.35 777.87 L855.48 777.75 L855.61 777.62 L855.74 777.5 L855.87 777.38 L856 777.26 L856.13 777.15 L856.26 777.03 L856.4 776.91 L856.53 776.8 L856.66 776.69 L856.8 776.57 L856.93 776.46 L857.07 776.36 L857.21 776.25 L857.35 776.14 L857.49 776.04 L857.63 775.93 L857.77 775.83 L857.91 775.73 L858.05 775.63 L858.19 775.53 L858.33 775.43 L858.48 775.34 L858.62 775.24 L858.77 775.15 L858.91 775.05 L859.06 774.96 L859.21 774.87 L859.36 774.79 L859.51 774.7 L859.66 774.61 L859.81 774.53 L859.96 774.44 L860.11 774.36 L860.26 774.28 L860.42 774.2 L860.57 774.13 L860.73 774.05 L860.88 773.97 L861.04 773.9 L861.2 773.83 L861.36 773.76 L861.51 773.69 L861.67 773.62 L861.83 773.55 L862 773.48 L862.16 773.42 L862.32 773.35 L862.48 773.28 L862.65 773.22 L862.81 773.15 L862.98 773.09 L863.14 773.03 L863.31 772.97 L863.48 772.91 L863.65 772.84 L863.82 772.78 L863.99 772.72 L864.16 772.67 L864.33 772.61 L864.5 772.55 L864.67 772.49 L864.85 772.44 L865.02 772.38 L865.2 772.33 L865.37 772.27 L865.55 772.22 L865.73 772.17 L865.9 772.11 L866.08 772.06 L866.26 772.01 L866.44 771.96 L866.62 771.91 L866.81 771.86 L866.99 771.81 L867.17 771.76 L867.36 771.71 L867.54 771.66 L867.73 771.62 L867.91 771.57 L868.1 771.52 L868.29 771.48 L868.47 771.43 L868.66 771.39 L868.85 771.35 L869.04 771.3 L869.24 771.26 L869.43 771.22 L869.62 771.17 L869.81 771.13 L870.01 771.09 L870.2 771.05 L870.4 771.01 L870.6 770.97 L870.79 770.93 L870.99 770.89 L871.19 770.85 L871.39 770.81 L871.59 770.78 L871.79 770.74 L871.99 770.7 L872.2 770.66 L872.4 770.63 L872.6 770.59 L872.81 770.55 L873.01 770.52 L873.22 770.48 L873.43 770.45 L873.63 770.41 L873.84 770.38 L874.05 770.34 L874.26 770.31 L874.47 770.27 L874.68 770.24 L874.9 770.2 L875.11 770.17 L875.32 770.14 L875.54 770.11 L875.75 770.07 L875.97 770.04 L876.18 770.01 L876.4 769.98 L876.62 769.95 L876.84 769.91 L877.06 769.88 L877.28 769.85 L877.5 769.82 L877.72 769.79 L877.94 769.76 L878.17 769.73 L878.39 769.7 L878.62 769.67 L878.84 769.64 L879.07 769.62 L879.29 769.59 L879.52 769.56 L879.75 769.53 L879.98 769.5 L880.21 769.48 L880.44 769.45 L880.67 769.42 L880.9 769.4 L881.14 769.37 L881.37 769.34 L881.61 769.32 L881.84 769.29 L882.08 769.26 L882.31 769.24 L882.55 769.21 L882.79 769.19 L883.03 769.16 L883.27 769.14 L883.51 769.12 L883.75 769.09 L883.99 769.07 L884.23 769.04 L884.48 769.02 L884.72 769 L884.96 768.97 L885.21 768.95 L885.46 768.93 L885.7 768.91 L885.95 768.88 L886.2 768.86 L886.45 768.84 L886.7 768.82 L886.95 768.8 L887.2 768.77 L887.45 768.75 L887.7 768.73 L887.96 768.71 L888.21 768.69 L888.47 768.67 L888.72 768.65 L888.98 768.63 L889.24 768.6 L889.5 768.58 L889.75 768.56 L890.01 768.54 L890.27 768.52 L890.54 768.5 L890.8 768.48 L891.06 768.46 L891.32 768.44 L891.59 768.42 L891.85 768.4 L892.12 768.39 L892.38 768.37 L892.65 768.35 L892.92 768.33 L893.19 768.31 L893.46 768.29 L893.73 768.27 L894 768.25 L894.27 768.24 L894.54 768.22 L894.81 768.2 L895.09 768.18 L895.36 768.16 L895.64 768.15 L895.91 768.13 L896.19 768.11 L896.47 768.1 L896.74 768.08 L897.02 768.06 L897.3 768.05 L897.58 768.03 L897.86 768.01 L898.14 768 L898.43 767.98 L898.71 767.96 L898.99 767.95 L899.28 767.93 L899.56 767.92 L899.85 767.9 L900.14 767.89 L900.43 767.87 L900.71 767.86 L901 767.84 L901.29 767.83 L901.58 767.81 L901.87 767.8 L902.17 767.79 L902.46 767.77 L902.75 767.76 L903.05 767.75 L903.34 767.73 L903.64 767.72 L903.94 767.71 L904.23 767.69 L904.53 767.68 L904.83 767.67 L905.13 767.66 L905.43 767.64 L905.73 767.63 L906.03 767.62 L906.33 767.61 L906.64 767.59 L906.94 767.58 L907.25 767.57 L907.55 767.56 L907.86 767.54 L908.16 767.53 L908.47 767.52 L908.78 767.51 L909.09 767.5 L909.4 767.49 L909.71 767.47 L910.02 767.46 L910.33 767.45 L910.65 767.44 L910.96 767.43 L911.27 767.42 L911.59 767.4 L911.91 767.39 L912.22 767.38 L912.54 767.37 L912.86 767.36 L913.18 767.35 L913.5 767.34 L913.82 767.33 L914.14 767.32 L914.46 767.31 L914.78 767.3 L915.1 767.29 L915.43 767.27 L915.75 767.26 L916.08 767.25 L916.4 767.24 L916.73 767.23 L917.06 767.22 L917.39 767.21 L917.72 767.2 L918.05 767.19 L918.38 767.18 L918.71 767.17 L919.04 767.16 L919.37 767.16 L919.71 767.15 L920.04 767.14 L920.38 767.13 L920.71 767.12 L921.05 767.11 L921.39 767.1 L921.72 767.09 L922.06 767.08 L922.4 767.07 L922.74 767.06 L923.08 767.06 L923.43 767.05 L923.77 767.04 L924.11 767.03 L924.46 767.02 L924.8 767.01 L925.15 767.01 L925.49 767 L925.84 766.99 L926.19 766.98 L926.53 766.97 L926.88 766.97 L927.23 766.96 L927.58 766.95 L927.94 766.94 L928.29 766.94 L928.64 766.93 L928.99 766.92 L929.35 766.92 L929.7 766.91 L930.06 766.9 L930.42 766.9 L930.77 766.89 L931.13 766.88 L931.49 766.88 L931.85 766.87 L932.21 766.86 L932.57 766.86 L932.93 766.85 L933.29 766.84 L933.66 766.84 L934.02 766.83 L934.39 766.83 L934.75 766.82 L935.12 766.82 L935.49 766.81 L935.85 766.8 L936.22 766.8 L936.59 766.79 L936.96 766.79 L937.33 766.78 L937.7 766.77 L938.07 766.77 L938.45 766.76 L938.82 766.76 L939.19 766.75 L939.57 766.75 L939.95 766.74 L940.32 766.73 L940.7 766.73 L941.08 766.72 L941.46 766.72 L941.84 766.71 L942.22 766.71 L942.6 766.7 L942.98 766.69 L943.36 766.69 L943.74 766.68 L944.13 766.68 L944.51 766.67 L944.9 766.67 L945.28 766.66 L945.67 766.66 L946.06 766.65 L946.45 766.65 L946.84 766.64 L947.23 766.63 L947.62 766.63 L948.01 766.62 L948.4 766.62 L948.79 766.61 L949.19 766.61 L949.58 766.6 L949.98 766.6 L950.37 766.59 L950.77 766.59 L951.17 766.59 L951.56 766.58 L951.96 766.58 L952.36 766.57 L952.76 766.57 L953.16 766.56 L953.57 766.56 L953.97 766.55 L954.37 766.55 L954.77 766.55 L955.18 766.54 L955.58 766.54 L955.99 766.53 L956.4 766.53 L956.81 766.53 L957.21 766.52 L957.62 766.52 L958.03 766.51 L958.44 766.51 L958.85 766.51 L959.27 766.5 L959.68 766.5 L960.09 766.5 L960.51 766.49 L960.92 766.49 L961.34 766.49 L961.75 766.49 L962.17 766.48 L962.59 766.48 L963.01 766.48 L963.43 766.47 L963.85 766.47 L964.27 766.47 L964.69 766.47 L965.11 766.47 L965.54 766.46 L965.96 766.46 L966.39 766.46 L966.81 766.46 L967.24 766.46 L967.66 766.45 L968.09 766.45 L968.52 766.45 L968.95 766.45 L969.38 766.45 L969.81 766.45 L970.24 766.45 L970.67 766.45 L971.11 766.44 L971.54 766.44 L971.97 766.44 L972.41 766.44 L972.84 766.44 L973.28 766.44 L973.72 766.44 L974.16 766.44 L974.59 766.44 L975.03 766.44 L975.47 766.44 L975.92 766.44 L976.36 766.44 L976.8 766.44 L977.24 766.43 L977.69 766.43 L978.13 766.43 L978.58 766.43 L979.02 766.43 L979.47 766.43 L979.92 766.43 L980.37 766.43 L980.81 766.43 L981.26 766.43 L981.72 766.43 L982.17 766.43 L982.62 766.43 L983.07 766.43 L983.52 766.43 L983.98 766.43 L984.43 766.43 L984.89 766.42 L985.35 766.42 L985.8 766.42 L986.26 766.42 L986.72 766.42 L987.18 766.42 L987.64 766.42 L988.1 766.42 L988.56 766.42 L989.03 766.42 L989.49 766.42 L989.95 766.42 L990.42 766.42 L990.88 766.42 L991.35 766.42 L991.82 766.42 L992.28 766.42 L992.75 766.42 L993.22 766.42 L993.69 766.41 L994.16 766.41 L994.63 766.41 L995.1 766.41 L995.58 766.41 L996.05 766.41 L996.52 766.41 L997 766.41 L997.48 766.41 L997.95 766.41 L998.43 766.41 L998.91 766.41 L999.39 766.41 L999.87 766.41 L1000.35 766.41 L1000.83 766.41 L1001.31 766.41 L1001.79 766.41 L1002.27 766.41 L1002.76 766.41 L1003.24 766.41 L1003.73 766.41 L1004.21 766.41 L1004.7 766.41 L1005.19 766.41 L1005.68 766.41 L1006.17 766.41 L1006.66 766.41 L1007.15 766.4 L1007.64 766.4 L1008.13 766.4 L1008.62 766.4 L1009.12 766.4 L1009.61 766.4 L1010.11 766.4 L1010.6 766.4 L1011.1 766.4 L1011.59 766.4 L1012.09 766.4 L1012.59 766.4 L1013.09 766.4 L1013.59 766.4 L1014.09 766.4 L1014.59 766.4 L1015.1 766.4 L1015.6 766.4 L1016.1 766.4 L1016.61 766.4 L1017.11 766.4 L1017.62 766.4 L1018.13 766.4 L1018.63 766.4 L1019.14 766.4 L1019.65 766.4 L1020.16 766.4 L1020.67 766.4 L1021.18 766.4 L1021.69 766.4 L1022.21 766.4 L1022.72 766.4 L1023.24 766.4 L1023.75 766.4 L1024.27 766.4 L1024.78 766.4 L1025.3 766.4" fill="none" stroke="#2f9a2f" stroke-width="2.7" stroke-linejoin="round" stroke-linecap="round"/>
<line x1="837.2" y1="765.55" x2="837.2" y2="923.05" stroke="#111" stroke-width="1.9"/>
<line x1="837.2" y1="922.1" x2="1026.15" y2="922.1" stroke="#111" stroke-width="1.9"/>
<line x1="832.1" y1="916.1" x2="837.2" y2="916.1" stroke="#111" stroke-width="1.7"/>
<text x="830.1" y="921.8" font-size="15" text-anchor="end" fill="#0a0a0a">0.0</text>
<line x1="844.4" y1="922.1" x2="844.4" y2="927.2" stroke="#111" stroke-width="1.7"/>
<text x="844.4" y="943.4" font-size="15" text-anchor="middle" fill="#0a0a0a">0.0</text>
<line x1="832.1" y1="886.16" x2="837.2" y2="886.16" stroke="#111" stroke-width="1.7"/>
<text x="830.1" y="891.86" font-size="15" text-anchor="end" fill="#0a0a0a">0.2</text>
<line x1="880.58" y1="922.1" x2="880.58" y2="927.2" stroke="#111" stroke-width="1.7"/>
<text x="880.58" y="943.4" font-size="15" text-anchor="middle" fill="#0a0a0a">0.2</text>
<line x1="832.1" y1="856.22" x2="837.2" y2="856.22" stroke="#111" stroke-width="1.7"/>
<text x="830.1" y="861.92" font-size="15" text-anchor="end" fill="#0a0a0a">0.4</text>
<line x1="916.76" y1="922.1" x2="916.76" y2="927.2" stroke="#111" stroke-width="1.7"/>
<text x="916.76" y="943.4" font-size="15" text-anchor="middle" fill="#0a0a0a">0.4</text>
<line x1="832.1" y1="826.28" x2="837.2" y2="826.28" stroke="#111" stroke-width="1.7"/>
<text x="830.1" y="831.98" font-size="15" text-anchor="end" fill="#0a0a0a">0.6</text>
<line x1="952.94" y1="922.1" x2="952.94" y2="927.2" stroke="#111" stroke-width="1.7"/>
<text x="952.94" y="943.4" font-size="15" text-anchor="middle" fill="#0a0a0a">0.6</text>
<line x1="832.1" y1="796.34" x2="837.2" y2="796.34" stroke="#111" stroke-width="1.7"/>
<text x="830.1" y="802.04" font-size="15" text-anchor="end" fill="#0a0a0a">0.8</text>
<line x1="989.12" y1="922.1" x2="989.12" y2="927.2" stroke="#111" stroke-width="1.7"/>
<text x="989.12" y="943.4" font-size="15" text-anchor="middle" fill="#0a0a0a">0.8</text>
<line x1="832.1" y1="766.4" x2="837.2" y2="766.4" stroke="#111" stroke-width="1.7"/>
<text x="830.1" y="772.1" font-size="15" text-anchor="end" fill="#0a0a0a">1.0</text>
<line x1="1025.3" y1="922.1" x2="1025.3" y2="927.2" stroke="#111" stroke-width="1.7"/>
<text x="1025.3" y="943.4" font-size="15" text-anchor="middle" fill="#0a0a0a">1.0</text>
<text x="801.8" y="847" font-size="14.75" text-anchor="middle" fill="#0a0a0a" transform="rotate(-90 801.8 847)">Sensitivity</text>
<text x="940" y="961" font-size="14.75" text-anchor="middle" fill="#0a0a0a">1 - specificity</text>
<text x="934.85" y="837.35" font-size="14.75" text-anchor="middle" fill="#0a0a0a">Benign</text>
<text x="934.85" y="854.85" font-size="14.75" text-anchor="middle" fill="#0a0a0a">AUC: 0.976 (0.974 - 0.978)</text>
<text transform="translate(1155 75.3) scale(1.04 1)" font-size="66.8" fill="#000" style="stroke:#000;stroke-width:0.7px">b</text>
<rect x="1319.65" y="32.5" width="352.5" height="17" fill="url(#cb)"/>
<line x1="1320.15" y1="49.5" x2="1320.15" y2="54.8" stroke="#111" stroke-width="1.7"/>
<text x="1323.15" y="71" font-size="15" text-anchor="middle" fill="#0a0a0a">0.0</text>
<line x1="1397.15" y1="49.5" x2="1397.15" y2="54.8" stroke="#111" stroke-width="1.7"/>
<text x="1395.05" y="71" font-size="15" text-anchor="middle" fill="#0a0a0a">0.2</text>
<line x1="1474.15" y1="49.5" x2="1474.15" y2="54.8" stroke="#111" stroke-width="1.7"/>
<text x="1472.85" y="71" font-size="15" text-anchor="middle" fill="#0a0a0a">0.4</text>
<line x1="1551.15" y1="49.5" x2="1551.15" y2="54.8" stroke="#111" stroke-width="1.7"/>
<text x="1549.85" y="71" font-size="15" text-anchor="middle" fill="#0a0a0a">0.6</text>
<line x1="1628.15" y1="49.5" x2="1628.15" y2="54.8" stroke="#111" stroke-width="1.7"/>
<text x="1627.05" y="71" font-size="15" text-anchor="middle" fill="#0a0a0a">0.8</text>
<text x="1322.3" y="28" font-size="14.9" text-anchor="start" fill="#0a0a0a">Fraction of predictions</text>
<rect x="1326" y="111.63" width="59.8" height="141.77" fill="#808080"/>
<rect x="1397.8" y="120.67" width="59.8" height="132.73" fill="#808080"/>
<rect x="1469.6" y="99.63" width="59.8" height="153.77" fill="#808080"/>
<rect x="1541.4" y="112.37" width="59.8" height="141.03" fill="#808080"/>
<rect x="1613.2" y="97.04" width="59.8" height="156.36" fill="#808080"/>
<line x1="1311.9" y1="105.16" x2="1311.9" y2="254.2" stroke="#111" stroke-width="1.65"/>
<line x1="1306.9" y1="253.4" x2="1311.9" y2="253.4" stroke="#111" stroke-width="1.6"/>
<text x="1302.3" y="258.7" font-size="15" text-anchor="end" fill="#0a0a0a">0.0</text>
<line x1="1306.9" y1="216.54" x2="1311.9" y2="216.54" stroke="#111" stroke-width="1.6"/>
<text x="1302.3" y="221.84" font-size="15" text-anchor="end" fill="#0a0a0a">0.2</text>
<line x1="1306.9" y1="179.68" x2="1311.9" y2="179.68" stroke="#111" stroke-width="1.6"/>
<text x="1302.3" y="184.98" font-size="15" text-anchor="end" fill="#0a0a0a">0.4</text>
<line x1="1306.9" y1="142.82" x2="1311.9" y2="142.82" stroke="#111" stroke-width="1.6"/>
<text x="1302.3" y="148.12" font-size="15" text-anchor="end" fill="#0a0a0a">0.6</text>
<line x1="1306.9" y1="105.96" x2="1311.9" y2="105.96" stroke="#111" stroke-width="1.6"/>
<text x="1302.3" y="111.26" font-size="15" text-anchor="end" fill="#0a0a0a">0.8</text>
<text x="1272.8" y="180" font-size="18.6" text-anchor="middle" fill="#0a0a0a" transform="rotate(-90 1272.8 180)">Precision</text>
<rect x="1312.2" y="259.6" width="75.4" height="68.65" fill="#ecfad7"/>
<rect x="1387.2" y="259.6" width="75.4" height="68.65" fill="#f5fdd9"/>
<rect x="1462.2" y="259.6" width="75.4" height="68.65" fill="#f5fdd9"/>
<rect x="1537.2" y="259.6" width="75.4" height="68.65" fill="#ecfad7"/>
<rect x="1612.2" y="259.6" width="75.4" height="68.65" fill="#26185f"/>
<rect x="1312.2" y="327.85" width="75.4" height="68.65" fill="#fbfedf"/>
<rect x="1387.2" y="327.85" width="75.4" height="68.65" fill="#fbfedf"/>
<rect x="1462.2" y="327.85" width="75.4" height="68.65" fill="#fbfedf"/>
<rect x="1537.2" y="327.85" width="75.4" height="68.65" fill="#00a1b2"/>
<rect x="1612.2" y="327.85" width="75.4" height="68.65" fill="#fbfedf"/>
<rect x="1312.2" y="396.1" width="75.4" height="68.65" fill="#f5fdd9"/>
<rect x="1387.2" y="396.1" width="75.4" height="68.65" fill="#d8f4d2"/>
<rect x="1462.2" y="396.1" width="75.4" height="68.65" fill="#26185f"/>
<rect x="1537.2" y="396.1" width="75.4" height="68.65" fill="#fbfedf"/>
<rect x="1612.2" y="396.1" width="75.4" height="68.65" fill="#f5fdd9"/>
<rect x="1312.2" y="464.35" width="75.4" height="68.65" fill="#fbfedf"/>
<rect x="1387.2" y="464.35" width="75.4" height="68.65" fill="#26185f"/>
<rect x="1462.2" y="464.35" width="75.4" height="68.65" fill="#e8f9d8"/>
<rect x="1537.2" y="464.35" width="75.4" height="68.65" fill="#fbfedf"/>
<rect x="1612.2" y="464.35" width="75.4" height="68.65" fill="#fbfedf"/>
<rect x="1312.2" y="532.6" width="75.4" height="68.65" fill="#0088b4"/>
<rect x="1387.2" y="532.6" width="75.4" height="68.65" fill="#e1f7d6"/>
<rect x="1462.2" y="532.6" width="75.4" height="68.65" fill="#fbfedf"/>
<rect x="1537.2" y="532.6" width="75.4" height="68.65" fill="#fbfedf"/>
<rect x="1612.2" y="532.6" width="75.4" height="68.65" fill="#fbfedf"/>
<line x1="1387.4" y1="259.8" x2="1387.4" y2="601.05" stroke="#5e5e5e" stroke-width="1.4"/>
<line x1="1312.4" y1="328.05" x2="1687.4" y2="328.05" stroke="#5e5e5e" stroke-width="1.4"/>
<line x1="1462.4" y1="259.8" x2="1462.4" y2="601.05" stroke="#5e5e5e" stroke-width="1.4"/>
<line x1="1312.4" y1="396.3" x2="1687.4" y2="396.3" stroke="#5e5e5e" stroke-width="1.4"/>
<line x1="1537.4" y1="259.8" x2="1537.4" y2="601.05" stroke="#5e5e5e" stroke-width="1.4"/>
<line x1="1312.4" y1="464.55" x2="1687.4" y2="464.55" stroke="#5e5e5e" stroke-width="1.4"/>
<line x1="1612.4" y1="259.8" x2="1612.4" y2="601.05" stroke="#5e5e5e" stroke-width="1.4"/>
<line x1="1312.4" y1="532.8" x2="1687.4" y2="532.8" stroke="#5e5e5e" stroke-width="1.4"/>
<text x="1304.1" y="298.23" font-size="18.6" text-anchor="end" fill="#0a0a0a">Benign</text>
<text x="1299.5" y="355.38" font-size="18.6" text-anchor="end" fill="#0a0a0a">Blood and</text>
<text x="1299.5" y="377.57" font-size="18.6" text-anchor="end" fill="#0a0a0a">lymphatic</text>
<text x="1304.1" y="434.73" font-size="18.6" text-anchor="end" fill="#0a0a0a">Respiratory</text>
<text x="1303.1" y="491.88" font-size="18.6" text-anchor="end" fill="#0a0a0a">Female</text>
<text x="1303.1" y="514.08" font-size="18.6" text-anchor="end" fill="#0a0a0a">reproductive</text>
<text x="1304.1" y="571.22" font-size="18.6" text-anchor="end" fill="#0a0a0a">Digestive</text>
<text x="1355.5" y="607.6" font-size="18.6" text-anchor="end" fill="#0a0a0a" transform="rotate(-90 1355.5 607.6)">Digestive</text>
<text x="1419.7" y="608.3" font-size="18.6" text-anchor="end" fill="#0a0a0a" transform="rotate(-90 1419.7 608.3)">Female</text>
<text x="1441.8" y="608.3" font-size="18.6" text-anchor="end" fill="#0a0a0a" transform="rotate(-90 1441.8 608.3)">reproductive</text>
<text x="1507.2" y="607.6" font-size="18.6" text-anchor="end" fill="#0a0a0a" transform="rotate(-90 1507.2 607.6)">Respiratory</text>
<text x="1573.4" y="612.4" font-size="18.6" text-anchor="end" fill="#0a0a0a" transform="rotate(-90 1573.4 612.4)">Blood and</text>
<text x="1595.5" y="612.4" font-size="18.6" text-anchor="end" fill="#0a0a0a" transform="rotate(-90 1595.5 612.4)">lymphatic</text>
<text x="1661" y="607.6" font-size="18.6" text-anchor="end" fill="#0a0a0a" transform="rotate(-90 1661 607.6)">Benign</text>
<line x1="1312.8" y1="601" x2="1198.1" y2="679.6" stroke="#111" stroke-width="2"/>
<text x="1249.5" y="635.6" font-size="18.6" text-anchor="middle" fill="#0a0a0a" transform="rotate(-34.4 1249.5 635.6)">True origin</text>
<text x="1266.3" y="655" font-size="18.6" text-anchor="middle" fill="#0a0a0a" transform="rotate(-34.4 1266.3 655)">Predicted origin</text>
<rect x="1692.3" y="273.7" width="157.48" height="54.3" fill="#808080"/>
<rect x="1692.3" y="339.12" width="98.65" height="54.3" fill="#808080"/>
<rect x="1692.3" y="404.54" width="152.87" height="54.3" fill="#808080"/>
<rect x="1692.3" y="469.96" width="153.97" height="54.3" fill="#808080"/>
<rect x="1692.3" y="535.38" width="109.53" height="54.3" fill="#808080"/>
<line x1="1691.58" y1="600.8" x2="1840.55" y2="600.8" stroke="#111" stroke-width="1.45"/>
<line x1="1692.3" y1="600.8" x2="1692.3" y2="605.7" stroke="#111" stroke-width="1.45"/>
<text x="1692.3" y="621.4" font-size="15" text-anchor="middle" fill="#0a0a0a">0.0</text>
<line x1="1729.18" y1="600.8" x2="1729.18" y2="605.7" stroke="#111" stroke-width="1.45"/>
<text x="1729.18" y="621.4" font-size="15" text-anchor="middle" fill="#0a0a0a">0.2</text>
<line x1="1766.06" y1="600.8" x2="1766.06" y2="605.7" stroke="#111" stroke-width="1.45"/>
<text x="1766.06" y="621.4" font-size="15" text-anchor="middle" fill="#0a0a0a">0.4</text>
<line x1="1802.94" y1="600.8" x2="1802.94" y2="605.7" stroke="#111" stroke-width="1.45"/>
<text x="1802.94" y="621.4" font-size="15" text-anchor="middle" fill="#0a0a0a">0.6</text>
<line x1="1839.82" y1="600.8" x2="1839.82" y2="605.7" stroke="#111" stroke-width="1.45"/>
<text x="1839.82" y="621.4" font-size="15" text-anchor="middle" fill="#0a0a0a">0.8</text>
<text x="1765.7" y="644" font-size="18.4" text-anchor="middle" fill="#0a0a0a">Recall</text>
<rect x="1969.8" y="366.49" width="52.5" height="131.71" fill="#2278b5"/>
<text x="1999.6" y="362.29" font-size="14.9" text-anchor="middle" fill="#0a0a0a">81.3%</text>
<text x="1996.6" y="521" font-size="14.75" text-anchor="middle" fill="#0a0a0a">Top−1</text>
<rect x="2033.4" y="342.84" width="52.5" height="155.36" fill="#2278b5"/>
<text x="2063.2" y="338.64" font-size="14.9" text-anchor="middle" fill="#0a0a0a">95.9%</text>
<text x="2060.2" y="521" font-size="14.75" text-anchor="middle" fill="#0a0a0a">Top−2</text>
<rect x="2097" y="338.14" width="52.5" height="160.06" fill="#2278b5"/>
<text x="2126.8" y="333.94" font-size="14.9" text-anchor="middle" fill="#0a0a0a">98.8%</text>
<text x="2123.8" y="521" font-size="14.75" text-anchor="middle" fill="#0a0a0a">Top−3</text>
<line x1="1963.25" y1="367.43" x2="1963.25" y2="499.05" stroke="#111" stroke-width="1.9"/>
<line x1="1958.05" y1="498.2" x2="1963.25" y2="498.2" stroke="#111" stroke-width="1.7"/>
<text x="1954.95" y="503.6" font-size="15" text-anchor="end" fill="#0a0a0a">0.0</text>
<line x1="1958.05" y1="465.72" x2="1963.25" y2="465.72" stroke="#111" stroke-width="1.7"/>
<text x="1954.95" y="471.12" font-size="15" text-anchor="end" fill="#0a0a0a">0.2</text>
<line x1="1958.05" y1="433.24" x2="1963.25" y2="433.24" stroke="#111" stroke-width="1.7"/>
<text x="1954.95" y="438.64" font-size="15" text-anchor="end" fill="#0a0a0a">0.4</text>
<line x1="1958.05" y1="400.76" x2="1963.25" y2="400.76" stroke="#111" stroke-width="1.7"/>
<text x="1954.95" y="406.16" font-size="15" text-anchor="end" fill="#0a0a0a">0.6</text>
<line x1="1958.05" y1="368.28" x2="1963.25" y2="368.28" stroke="#111" stroke-width="1.7"/>
<text x="1954.95" y="373.68" font-size="15" text-anchor="end" fill="#0a0a0a">0.8</text>
<text x="1927.9" y="438.7" font-size="14.75" text-anchor="middle" fill="#0a0a0a" transform="rotate(-90 1927.9 438.7)">Accuracy</text>
<path d="M1968.6 257.6 L1968.6 256.56 L1968.6 255.48 L1968.6 254.37 L1968.61 253.23 L1968.61 252.05 L1968.61 250.84 L1968.62 249.6 L1968.62 248.33 L1968.63 247.03 L1968.64 245.71 L1968.64 244.35 L1968.65 242.98 L1968.66 241.58 L1968.67 240.16 L1968.68 238.72 L1968.69 237.25 L1968.71 235.77 L1968.72 234.19 L1968.73 232.51 L1968.75 230.74 L1968.76 228.91 L1968.78 227.03 L1968.8 225.14 L1968.81 223.24 L1968.83 221.37 L1968.85 219.54 L1968.87 217.78 L1968.89 216.11 L1968.91 214.54 L1968.93 213.11 L1968.96 211.75 L1968.98 210.43 L1969 209.15 L1969.03 207.89 L1969.05 206.67 L1969.08 205.49 L1969.11 204.32 L1969.13 203.19 L1969.16 202.08 L1969.19 200.99 L1969.22 199.92 L1969.25 198.88 L1969.28 197.84 L1969.32 196.83 L1969.35 195.83 L1969.38 194.84 L1969.42 193.86 L1969.45 192.88 L1969.49 191.92 L1969.52 190.96 L1969.56 190.01 L1969.6 189.08 L1969.64 188.15 L1969.68 187.23 L1969.72 186.32 L1969.76 185.42 L1969.8 184.53 L1969.84 183.64 L1969.89 182.77 L1969.93 181.9 L1969.98 181.04 L1970.02 180.19 L1970.07 179.35 L1970.11 178.51 L1970.16 177.69 L1970.21 176.87 L1970.26 176.06 L1970.31 175.25 L1970.36 174.45 L1970.41 173.66 L1970.46 172.88 L1970.52 172.1 L1970.57 171.33 L1970.62 170.57 L1970.68 169.81 L1970.73 169.06 L1970.79 168.32 L1970.85 167.58 L1970.91 166.85 L1970.97 166.12 L1971.03 165.4 L1971.09 164.68 L1971.15 163.97 L1971.21 163.26 L1971.27 162.55 L1971.33 161.84 L1971.4 161.14 L1971.46 160.44 L1971.53 159.75 L1971.59 159.06 L1971.66 158.38 L1971.73 157.71 L1971.8 157.04 L1971.87 156.38 L1971.94 155.72 L1972.01 155.07 L1972.08 154.43 L1972.15 153.81 L1972.22 153.18 L1972.3 152.57 L1972.37 151.97 L1972.45 151.38 L1972.52 150.81 L1972.6 150.24 L1972.68 149.69 L1972.75 149.14 L1972.83 148.62 L1972.91 148.1 L1972.99 147.6 L1973.07 147.11 L1973.15 146.63 L1973.24 146.15 L1973.32 145.68 L1973.4 145.21 L1973.49 144.75 L1973.57 144.3 L1973.66 143.85 L1973.75 143.41 L1973.83 142.97 L1973.92 142.54 L1974.01 142.12 L1974.1 141.7 L1974.19 141.29 L1974.28 140.89 L1974.38 140.49 L1974.47 140.09 L1974.56 139.71 L1974.66 139.32 L1974.75 138.95 L1974.85 138.57 L1974.94 138.21 L1975.04 137.85 L1975.14 137.49 L1975.24 137.14 L1975.34 136.8 L1975.44 136.46 L1975.54 136.13 L1975.64 135.8 L1975.74 135.48 L1975.84 135.16 L1975.95 134.84 L1976.05 134.53 L1976.16 134.22 L1976.26 133.92 L1976.37 133.62 L1976.48 133.32 L1976.59 133.02 L1976.7 132.73 L1976.81 132.44 L1976.92 132.15 L1977.03 131.87 L1977.14 131.59 L1977.25 131.32 L1977.37 131.04 L1977.48 130.77 L1977.6 130.51 L1977.71 130.25 L1977.83 129.99 L1977.94 129.74 L1978.06 129.49 L1978.18 129.24 L1978.3 129 L1978.42 128.76 L1978.54 128.52 L1978.66 128.29 L1978.79 128.07 L1978.91 127.84 L1979.03 127.63 L1979.16 127.41 L1979.28 127.2 L1979.41 127 L1979.54 126.8 L1979.66 126.6 L1979.79 126.41 L1979.92 126.22 L1980.05 126.03 L1980.18 125.84 L1980.31 125.66 L1980.44 125.48 L1980.58 125.3 L1980.71 125.12 L1980.84 124.95 L1980.98 124.78 L1981.11 124.61 L1981.25 124.44 L1981.39 124.28 L1981.53 124.12 L1981.66 123.96 L1981.8 123.8 L1981.94 123.65 L1982.08 123.49 L1982.23 123.34 L1982.37 123.19 L1982.51 123.05 L1982.66 122.9 L1982.8 122.76 L1982.94 122.62 L1983.09 122.48 L1983.24 122.35 L1983.39 122.22 L1983.53 122.08 L1983.68 121.96 L1983.83 121.83 L1983.98 121.7 L1984.13 121.58 L1984.29 121.46 L1984.44 121.34 L1984.59 121.22 L1984.75 121.11 L1984.9 120.99 L1985.06 120.88 L1985.21 120.77 L1985.37 120.66 L1985.53 120.55 L1985.69 120.44 L1985.85 120.34 L1986.01 120.23 L1986.17 120.13 L1986.33 120.03 L1986.49 119.93 L1986.65 119.83 L1986.82 119.73 L1986.98 119.63 L1987.15 119.53 L1987.31 119.44 L1987.48 119.34 L1987.65 119.25 L1987.81 119.15 L1987.98 119.06 L1988.15 118.97 L1988.32 118.88 L1988.49 118.79 L1988.67 118.7 L1988.84 118.61 L1989.01 118.53 L1989.19 118.44 L1989.36 118.36 L1989.54 118.27 L1989.71 118.19 L1989.89 118.1 L1990.07 118.02 L1990.25 117.94 L1990.43 117.86 L1990.61 117.78 L1990.79 117.7 L1990.97 117.62 L1991.15 117.54 L1991.33 117.46 L1991.52 117.38 L1991.7 117.3 L1991.89 117.22 L1992.07 117.15 L1992.26 117.07 L1992.45 116.99 L1992.63 116.92 L1992.82 116.84 L1993.01 116.76 L1993.2 116.69 L1993.39 116.61 L1993.59 116.54 L1993.78 116.46 L1993.97 116.39 L1994.17 116.31 L1994.36 116.24 L1994.56 116.16 L1994.75 116.09 L1994.95 116.02 L1995.15 115.94 L1995.35 115.87 L1995.55 115.8 L1995.75 115.73 L1995.95 115.65 L1996.15 115.58 L1996.35 115.51 L1996.55 115.44 L1996.76 115.37 L1996.96 115.3 L1997.17 115.23 L1997.37 115.16 L1997.58 115.09 L1997.79 115.02 L1997.99 114.96 L1998.2 114.89 L1998.41 114.82 L1998.62 114.76 L1998.83 114.69 L1999.05 114.62 L1999.26 114.56 L1999.47 114.49 L1999.69 114.43 L1999.9 114.37 L2000.12 114.3 L2000.33 114.24 L2000.55 114.18 L2000.77 114.12 L2000.99 114.06 L2001.2 114 L2001.42 113.94 L2001.65 113.88 L2001.87 113.82 L2002.09 113.76 L2002.31 113.7 L2002.54 113.65 L2002.76 113.59 L2002.98 113.53 L2003.21 113.48 L2003.44 113.42 L2003.66 113.37 L2003.89 113.32 L2004.12 113.26 L2004.35 113.21 L2004.58 113.16 L2004.81 113.11 L2005.04 113.06 L2005.28 113.01 L2005.51 112.96 L2005.74 112.92 L2005.98 112.87 L2006.21 112.82 L2006.45 112.78 L2006.69 112.73 L2006.92 112.69 L2007.16 112.64 L2007.4 112.6 L2007.64 112.55 L2007.88 112.51 L2008.12 112.47 L2008.37 112.43 L2008.61 112.38 L2008.85 112.34 L2009.1 112.3 L2009.34 112.26 L2009.59 112.22 L2009.83 112.18 L2010.08 112.14 L2010.33 112.1 L2010.58 112.06 L2010.83 112.02 L2011.08 111.98 L2011.33 111.94 L2011.58 111.9 L2011.83 111.86 L2012.09 111.83 L2012.34 111.79 L2012.59 111.75 L2012.85 111.72 L2013.11 111.68 L2013.36 111.64 L2013.62 111.61 L2013.88 111.57 L2014.14 111.54 L2014.4 111.5 L2014.66 111.46 L2014.92 111.43 L2015.18 111.4 L2015.45 111.36 L2015.71 111.33 L2015.97 111.29 L2016.24 111.26 L2016.5 111.23 L2016.77 111.19 L2017.04 111.16 L2017.31 111.13 L2017.57 111.1 L2017.84 111.06 L2018.11 111.03 L2018.38 111 L2018.66 110.97 L2018.93 110.94 L2019.2 110.91 L2019.48 110.87 L2019.75 110.84 L2020.03 110.81 L2020.3 110.78 L2020.58 110.75 L2020.86 110.72 L2021.13 110.69 L2021.41 110.66 L2021.69 110.63 L2021.97 110.6 L2022.26 110.57 L2022.54 110.54 L2022.82 110.51 L2023.1 110.49 L2023.39 110.46 L2023.67 110.43 L2023.96 110.4 L2024.25 110.37 L2024.53 110.34 L2024.82 110.31 L2025.11 110.29 L2025.4 110.26 L2025.69 110.23 L2025.98 110.2 L2026.27 110.17 L2026.56 110.14 L2026.86 110.12 L2027.15 110.09 L2027.44 110.06 L2027.74 110.03 L2028.04 110 L2028.33 109.98 L2028.63 109.95 L2028.93 109.92 L2029.23 109.89 L2029.53 109.86 L2029.83 109.83 L2030.13 109.81 L2030.43 109.78 L2030.73 109.75 L2031.04 109.72 L2031.34 109.7 L2031.65 109.67 L2031.95 109.64 L2032.26 109.61 L2032.57 109.59 L2032.87 109.56 L2033.18 109.53 L2033.49 109.51 L2033.8 109.48 L2034.11 109.45 L2034.42 109.43 L2034.74 109.4 L2035.05 109.37 L2035.36 109.35 L2035.68 109.32 L2035.99 109.3 L2036.31 109.27 L2036.63 109.24 L2036.94 109.22 L2037.26 109.2 L2037.58 109.17 L2037.9 109.15 L2038.22 109.12 L2038.54 109.1 L2038.86 109.07 L2039.19 109.05 L2039.51 109.03 L2039.83 109 L2040.16 108.98 L2040.49 108.96 L2040.81 108.94 L2041.14 108.92 L2041.47 108.89 L2041.8 108.87 L2042.12 108.85 L2042.45 108.83 L2042.79 108.81 L2043.12 108.79 L2043.45 108.77 L2043.78 108.75 L2044.12 108.73 L2044.45 108.72 L2044.79 108.7 L2045.12 108.68 L2045.46 108.66 L2045.8 108.65 L2046.13 108.63 L2046.47 108.61 L2046.81 108.6 L2047.15 108.58 L2047.49 108.57 L2047.84 108.55 L2048.18 108.54 L2048.52 108.52 L2048.87 108.51 L2049.21 108.5 L2049.56 108.49 L2049.9 108.47 L2050.25 108.46 L2050.6 108.45 L2050.95 108.44 L2051.3 108.43 L2051.65 108.41 L2052 108.4 L2052.35 108.39 L2052.7 108.38 L2053.05 108.37 L2053.41 108.36 L2053.76 108.34 L2054.12 108.33 L2054.47 108.32 L2054.83 108.31 L2055.19 108.3 L2055.55 108.29 L2055.9 108.28 L2056.26 108.27 L2056.62 108.26 L2056.99 108.25 L2057.35 108.24 L2057.71 108.23 L2058.07 108.22 L2058.44 108.21 L2058.8 108.2 L2059.17 108.19 L2059.53 108.18 L2059.9 108.17 L2060.27 108.16 L2060.64 108.15 L2061.01 108.14 L2061.38 108.13 L2061.75 108.12 L2062.12 108.11 L2062.49 108.1 L2062.86 108.09 L2063.24 108.08 L2063.61 108.08 L2063.99 108.07 L2064.36 108.06 L2064.74 108.05 L2065.12 108.04 L2065.5 108.04 L2065.87 108.03 L2066.25 108.02 L2066.63 108.01 L2067.02 108 L2067.4 108 L2067.78 107.99 L2068.16 107.98 L2068.55 107.98 L2068.93 107.97 L2069.32 107.96 L2069.7 107.96 L2070.09 107.95 L2070.48 107.94 L2070.87 107.94 L2071.26 107.93 L2071.65 107.93 L2072.04 107.92 L2072.43 107.91 L2072.82 107.91 L2073.21 107.9 L2073.61 107.9 L2074 107.89 L2074.4 107.89 L2074.79 107.88 L2075.19 107.88 L2075.59 107.87 L2075.98 107.87 L2076.38 107.87 L2076.78 107.86 L2077.18 107.86 L2077.58 107.85 L2077.99 107.85 L2078.39 107.85 L2078.79 107.84 L2079.2 107.84 L2079.6 107.84 L2080.01 107.83 L2080.41 107.83 L2080.82 107.83 L2081.23 107.82 L2081.64 107.82 L2082.04 107.82 L2082.45 107.81 L2082.86 107.81 L2083.28 107.81 L2083.69 107.8 L2084.1 107.8 L2084.51 107.8 L2084.93 107.79 L2085.34 107.79 L2085.76 107.79 L2086.18 107.78 L2086.59 107.78 L2087.01 107.78 L2087.43 107.77 L2087.85 107.77 L2088.27 107.77 L2088.69 107.77 L2089.11 107.76 L2089.54 107.76 L2089.96 107.76 L2090.38 107.75 L2090.81 107.75 L2091.23 107.75 L2091.66 107.75 L2092.09 107.74 L2092.51 107.74 L2092.94 107.74 L2093.37 107.74 L2093.8 107.74 L2094.23 107.73 L2094.66 107.73 L2095.1 107.73 L2095.53 107.73 L2095.96 107.72 L2096.4 107.72 L2096.83 107.72 L2097.27 107.72 L2097.7 107.72 L2098.14 107.72 L2098.58 107.71 L2099.02 107.71 L2099.46 107.71 L2099.9 107.71 L2100.34 107.71 L2100.78 107.71 L2101.22 107.71 L2101.67 107.71 L2102.11 107.7 L2102.55 107.7 L2103 107.7 L2103.45 107.7 L2103.89 107.7 L2104.34 107.7 L2104.79 107.7 L2105.24 107.7 L2105.69 107.7 L2106.14 107.7 L2106.59 107.7 L2107.04 107.7 L2107.49 107.7 L2107.95 107.7 L2108.4 107.7 L2108.86 107.7 L2109.31 107.7 L2109.77 107.7 L2110.23 107.7 L2110.68 107.7 L2111.14 107.7 L2111.6 107.7 L2112.06 107.7 L2112.52 107.7 L2112.99 107.7 L2113.45 107.7 L2113.91 107.7 L2114.37 107.7 L2114.84 107.7 L2115.3 107.7 L2115.77 107.7 L2116.24 107.7 L2116.71 107.7 L2117.17 107.7 L2117.64 107.7 L2118.11 107.7 L2118.58 107.7 L2119.05 107.7 L2119.53 107.7 L2120 107.7 L2120.47 107.7 L2120.95 107.7 L2121.42 107.7 L2121.9 107.7 L2122.37 107.7 L2122.85 107.7 L2123.33 107.7 L2123.81 107.7 L2124.29 107.7 L2124.77 107.7 L2125.25 107.7 L2125.73 107.7 L2126.21 107.7 L2126.7 107.7 L2127.18 107.7 L2127.66 107.7 L2128.15 107.7 L2128.64 107.7 L2129.12 107.7 L2129.61 107.7 L2130.1 107.7 L2130.59 107.7 L2131.08 107.7 L2131.57 107.7 L2132.06 107.7 L2132.55 107.7 L2133.04 107.7 L2133.54 107.7 L2134.03 107.7 L2134.53 107.7 L2135.02 107.7 L2135.52 107.7 L2136.01 107.7 L2136.51 107.7 L2137.01 107.7 L2137.51 107.7 L2138.01 107.7 L2138.51 107.7 L2139.01 107.7 L2139.52 107.7 L2140.02 107.7 L2140.52 107.7 L2141.03 107.7 L2141.53 107.7 L2142.04 107.7 L2142.54 107.7 L2143.05 107.7 L2143.56 107.7 L2144.07 107.7 L2144.58 107.7 L2145.09 107.7 L2145.6 107.7 L2146.11 107.7 L2146.63 107.7 L2147.14 107.7 L2147.65 107.7 L2148.17 107.7 L2148.68 107.7 L2149.2 107.7" fill="none" stroke="#e3592a" stroke-width="2.7" stroke-linejoin="round" stroke-linecap="round"/>
<line x1="1961.6" y1="106.85" x2="1961.6" y2="264.05" stroke="#111" stroke-width="1.9"/>
<line x1="1961.6" y1="263.1" x2="2150.05" y2="263.1" stroke="#111" stroke-width="1.9"/>
<line x1="1956.2" y1="257.6" x2="1961.6" y2="257.6" stroke="#111" stroke-width="1.7"/>
<text x="1952.8" y="264" font-size="15" text-anchor="end" fill="#0a0a0a">0.0</text>
<line x1="1968.6" y1="263.1" x2="1968.6" y2="268.5" stroke="#111" stroke-width="1.7"/>
<text x="1968.6" y="282.7" font-size="15" text-anchor="middle" fill="#0a0a0a">0.0</text>
<line x1="1956.2" y1="227.62" x2="1961.6" y2="227.62" stroke="#111" stroke-width="1.7"/>
<text x="1952.8" y="234.02" font-size="15" text-anchor="end" fill="#0a0a0a">0.2</text>
<line x1="2004.72" y1="263.1" x2="2004.72" y2="268.5" stroke="#111" stroke-width="1.7"/>
<text x="2004.72" y="282.7" font-size="15" text-anchor="middle" fill="#0a0a0a">0.2</text>
<line x1="1956.2" y1="197.64" x2="1961.6" y2="197.64" stroke="#111" stroke-width="1.7"/>
<text x="1952.8" y="204.04" font-size="15" text-anchor="end" fill="#0a0a0a">0.4</text>
<line x1="2040.84" y1="263.1" x2="2040.84" y2="268.5" stroke="#111" stroke-width="1.7"/>
<text x="2040.84" y="282.7" font-size="15" text-anchor="middle" fill="#0a0a0a">0.4</text>
<line x1="1956.2" y1="167.66" x2="1961.6" y2="167.66" stroke="#111" stroke-width="1.7"/>
<text x="1952.8" y="174.06" font-size="15" text-anchor="end" fill="#0a0a0a">0.6</text>
<line x1="2076.96" y1="263.1" x2="2076.96" y2="268.5" stroke="#111" stroke-width="1.7"/>
<text x="2076.96" y="282.7" font-size="15" text-anchor="middle" fill="#0a0a0a">0.6</text>
<line x1="1956.2" y1="137.68" x2="1961.6" y2="137.68" stroke="#111" stroke-width="1.7"/>
<text x="1952.8" y="144.08" font-size="15" text-anchor="end" fill="#0a0a0a">0.8</text>
<line x1="2113.08" y1="263.1" x2="2113.08" y2="268.5" stroke="#111" stroke-width="1.7"/>
<text x="2113.08" y="282.7" font-size="15" text-anchor="middle" fill="#0a0a0a">0.8</text>
<line x1="1956.2" y1="107.7" x2="1961.6" y2="107.7" stroke="#111" stroke-width="1.7"/>
<text x="1952.8" y="114.1" font-size="15" text-anchor="end" fill="#0a0a0a">1.0</text>
<line x1="2149.2" y1="263.1" x2="2149.2" y2="268.5" stroke="#111" stroke-width="1.7"/>
<text x="2149.2" y="282.7" font-size="15" text-anchor="middle" fill="#0a0a0a">1.0</text>
<text x="1924.2" y="188.25" font-size="14.75" text-anchor="middle" fill="#0a0a0a" transform="rotate(-90 1924.2 188.25)">Sensitivity</text>
<text x="2050.7" y="303.2" font-size="14.75" text-anchor="middle" fill="#0a0a0a">1 - specificity</text>
<text x="2058.9" y="179.35" font-size="14.75" text-anchor="middle" fill="#0a0a0a">Micro-average</text>
<text x="2058.9" y="196.85" font-size="14.75" text-anchor="middle" fill="#0a0a0a">AUC: 0.964 (0.961 - 0.966)</text>
<path d="M1970.2 697.2 L1970.2 696.47 L1970.21 696.47 L1970.21 696 L1970.21 696 L1970.21 694.47 L1970.23 694.47 L1970.23 694.47 L1970.23 694.11 L1970.24 694.11 L1970.24 693.8 L1970.24 693.8 L1970.24 693.51 L1970.25 693.51 L1970.25 692.64 L1970.25 691.73 L1970.26 691.73 L1970.26 691.43 L1970.26 691.43 L1970.27 691.43 L1970.27 690.99 L1970.27 690.52 L1970.27 690.52 L1970.28 690.52 L1970.28 689.92 L1970.28 689.19 L1970.28 689.19 L1970.29 689.19 L1970.29 688.71 L1970.29 688.15 L1970.3 688.15 L1970.3 685.79 L1970.32 685.79 L1970.32 684.2 L1970.34 684.2 L1970.34 684.2 L1970.34 683.66 L1970.34 682.78 L1970.35 682.78 L1970.36 682.78 L1970.36 682.25 L1970.36 682.25 L1970.36 681.68 L1970.37 681.68 L1970.37 681.22 L1970.37 680.6 L1970.38 680.6 L1970.38 680.6 L1970.38 679.83 L1970.39 679.83 L1970.39 679.36 L1970.39 679.36 L1970.39 678.95 L1970.4 678.95 L1970.4 678.27 L1970.41 678.27 L1970.41 677.62 L1970.41 676.65 L1970.42 676.65 L1970.42 675.71 L1970.43 675.71 L1970.43 675.17 L1970.43 675.17 L1970.43 674.66 L1970.44 674.66 L1970.44 674.66 L1970.44 674.16 L1970.45 674.16 L1970.45 673.84 L1970.47 673.84 L1970.47 671.57 L1970.47 670.63 L1970.48 670.63 L1970.49 670.63 L1970.49 669.63 L1970.5 669.63 L1970.5 668.84 L1970.5 668.84 L1970.5 668.52 L1970.51 668.52 L1970.51 668.15 L1970.51 667.79 L1970.51 667.79 L1970.51 667.39 L1970.52 667.39 L1970.52 666.47 L1970.53 666.47 L1970.54 666.47 L1970.54 665.5 L1970.54 663.76 L1970.55 663.76 L1970.56 663.76 L1970.56 662.76 L1970.56 661.44 L1970.58 661.44 L1970.58 660.56 L1970.59 660.56 L1970.6 660.56 L1970.6 659.72 L1970.6 659.72 L1970.6 658.98 L1970.6 658.58 L1970.61 658.58 L1970.61 657.44 L1970.62 657.44 L1970.62 656.1 L1970.64 656.1 L1970.64 656.1 L1970.64 655.77 L1970.64 654.01 L1970.66 654.01 L1970.66 654.01 L1970.66 653.36 L1970.67 653.36 L1970.67 652.94 L1970.67 652.62 L1970.67 652.62 L1970.68 652.62 L1970.68 651.77 L1970.69 651.77 L1970.69 651.19 L1970.69 650.78 L1970.69 650.78 L1970.7 650.78 L1970.7 649.91 L1970.7 649.45 L1970.71 649.45 L1970.73 649.45 L1970.73 647.41 L1970.73 647.41 L1970.73 647.09 L1970.73 646.76 L1970.73 646.76 L1970.73 646.05 L1970.74 646.05 L1970.75 646.05 L1970.75 645.66 L1970.75 644.72 L1970.76 644.72 L1970.76 644.72 L1970.76 644.21 L1970.78 644.21 L1970.78 642.81 L1970.79 642.81 L1970.79 641.78 L1970.79 640.83 L1970.8 640.83 L1970.81 640.83 L1970.81 639.82 L1970.82 639.82 L1970.82 638.82 L1970.82 638.82 L1970.82 638.33 L1970.84 638.33 L1970.84 636.87 L1970.84 635.41 L1970.85 635.41 L1970.88 635.41 L1970.88 633.13 L1970.88 633.13 L1970.88 632.72 L1970.88 631.46 L1970.94 631.46 L1970.99 631.46 L1970.99 630.51 L1970.99 630.04 L1971.01 630.04 L1971.08 630.04 L1971.08 628.61 L1971.08 628.19 L1971.11 628.19 L1971.17 628.19 L1971.17 626.86 L1971.2 626.86 L1971.2 626.4 L1971.24 626.4 L1971.24 625.68 L1971.24 624.39 L1971.3 624.39 L1971.36 624.39 L1971.36 623.28 L1971.36 621.12 L1971.47 621.12 L1971.47 620.6 L1971.5 620.6 L1971.5 619.65 L1971.55 619.65 L1971.56 619.65 L1971.56 619.34 L1971.62 619.34 L1971.62 618.3 L1971.65 618.3 L1971.65 617.62 L1971.65 615.2 L1971.78 615.2 L1971.9 615.2 L1971.9 613.94 L1972.04 613.94 L1972.04 613.31 L1972.34 613.31 L1972.34 611.86 L1972.41 611.86 L1972.41 611.54 L1972.55 611.54 L1972.55 610.85 L1972.64 610.85 L1972.64 610.46 L1972.64 609.81 L1972.77 609.81 L1972.94 609.81 L1972.94 609 L1973.11 609 L1973.11 608.2 L1973.11 607.75 L1973.2 607.75 L1973.28 607.75 L1973.28 607.39 L1973.37 607.39 L1973.37 606.96 L1973.43 606.96 L1973.43 606.68 L1973.56 606.68 L1973.56 606.07 L1973.56 605.17 L1973.75 605.17 L1973.75 604.43 L1973.9 604.43 L1974.02 604.43 L1974.02 603.88 L1974.14 603.88 L1974.14 603.29 L1974.37 603.29 L1974.37 602.54 L1974.37 602.15 L1974.55 602.15 L1974.73 602.15 L1974.73 601.74 L1975.46 601.74 L1975.46 600.07 L1975.46 599.73 L1975.6 599.73 L1975.6 599.05 L1975.9 599.05 L1976.03 599.05 L1976.03 598.77 L1976.14 598.77 L1976.14 598.51 L1976.53 598.51 L1976.53 597.63 L1976.53 597.19 L1976.72 597.19 L1977.66 597.19 L1977.66 595.14 L1977.66 594.37 L1978.34 594.37 L1978.34 593.9 L1978.76 593.9 L1978.76 593.61 L1979.02 593.61 L1979.02 593.38 L1979.22 593.38 L1979.83 593.38 L1979.83 592.7 L1980.42 592.7 L1980.42 592.02 L1981.17 592.02 L1981.17 591.18 L1981.17 590.67 L1981.62 590.67 L1982.78 590.67 L1982.78 589.36 L1982.78 589.03 L1983.08 589.03 L1983.42 589.03 L1983.42 588.64 L1984.07 588.64 L1984.07 587.91 L1984.75 587.91 L1984.75 587.14 L1985.19 587.14 L1985.19 586.64 L1985.19 586.36 L1985.57 586.36 L1985.57 585.83 L1986.3 585.83 L1987.54 585.83 L1987.54 584.91 L1987.54 583.9 L1988.9 583.9 L1988.9 583.5 L1989.44 583.5 L1989.44 583.29 L1989.72 583.29 L1989.72 583.06 L1990.03 583.06 L1990.32 583.06 L1990.32 582.85 L1990.96 582.85 L1990.96 582.37 L1990.96 581.82 L1991.69 581.82 L1993.74 581.82 L1993.74 580.31 L1993.74 579.81 L1994.42 579.81 L1994.42 579.29 L1995.12 579.29 L1995.12 578.85 L1995.71 578.85 L1995.71 578.48 L1996.2 578.48 L1996.97 578.48 L1996.97 577.94 L1997.47 577.94 L1997.47 577.62 L1997.78 577.62 L1997.78 577.43 L1998.12 577.43 L1998.12 577.2 L1998.12 576.83 L1998.7 576.83 L1999.76 576.83 L1999.76 576.16 L2001.04 576.16 L2001.04 575.34 L2001.04 574.78 L2001.92 574.78 L2002.62 574.78 L2002.62 574.33 L2002.62 573.34 L2004.16 573.34 L2004.16 573.14 L2004.47 573.14 L2007.3 573.14 L2007.3 571.36 L2007.3 571.17 L2007.74 571.17 L2007.74 571.05 L2008.02 571.05 L2008.02 570.75 L2008.71 570.75 L2008.71 570.47 L2009.38 570.47 L2009.38 570.26 L2009.86 570.26 L2009.86 570.14 L2010.15 570.14 L2010.15 569.91 L2010.68 569.91 L2012.44 569.91 L2012.44 569.17 L2012.72 569.17 L2012.72 569.05 L2012.72 568.89 L2013.09 568.89 L2013.09 568.61 L2013.75 568.61 L2014.33 568.61 L2014.33 568.36 L2014.33 568.14 L2014.85 568.14 L2014.85 567.66 L2015.99 567.66 L2015.99 567.5 L2016.36 567.5 L2016.36 567.27 L2016.9 567.27 L2017.27 567.27 L2017.27 567.11 L2017.75 567.11 L2017.75 566.91 L2017.75 566.79 L2018.02 566.79 L2018.02 566.64 L2018.37 566.64 L2018.37 566.32 L2019.13 566.32 L2019.56 566.32 L2019.56 566.14 L2020.55 566.14 L2020.55 565.72 L2020.55 565.6 L2020.9 565.6 L2020.9 565.51 L2021.17 565.51 L2021.62 565.51 L2021.62 565.35 L2023.92 565.35 L2023.92 564.58 L2024.86 564.58 L2024.86 564.27 L2024.86 563.74 L2026.42 563.74 L2027.04 563.74 L2027.04 563.54 L2027.54 563.54 L2027.54 563.37 L2027.54 563.22 L2027.98 563.22 L2028.37 563.22 L2028.37 563.09 L2028.37 562.87 L2029.04 562.87 L2029.04 562.53 L2030.03 562.53 L2030.59 562.53 L2030.59 562.35 L2031.95 562.35 L2031.95 561.89 L2031.95 561.56 L2032.93 561.56 L2032.93 561.01 L2034.57 561.01 L2034.57 560.87 L2035.03 560.87 L2035.03 560.65 L2035.93 560.65 L2036.43 560.65 L2036.43 560.52 L2036.74 560.52 L2036.74 560.44 L2036.74 560.35 L2037.1 560.35 L2039.11 560.35 L2039.11 559.85 L2039.11 559.78 L2039.4 559.78 L2039.4 559.65 L2039.91 559.65 L2040.21 559.65 L2040.21 559.57 L2040.21 559.34 L2041.13 559.34 L2041.13 559.02 L2042.45 559.02 L2042.45 558.89 L2042.96 558.89 L2042.96 558.74 L2043.55 558.74 L2043.55 558.6 L2044.1 558.6 L2044.9 558.6 L2044.9 558.4 L2044.9 558.17 L2045.82 558.17 L2045.82 557.8 L2047.31 557.8 L2047.31 557.73 L2047.59 557.73 L2047.59 557.3 L2049.33 557.3 L2049.9 557.3 L2049.9 557.15 L2050.91 557.15 L2050.91 556.9 L2052.02 556.9 L2052.02 556.62 L2052.02 556.54 L2052.33 556.54 L2052.87 556.54 L2052.87 556.41 L2052.87 556.31 L2053.25 556.31 L2053.25 556.22 L2053.62 556.22 L2054.8 556.22 L2054.8 556.07 L2054.8 556.03 L2055.4 556.03 L2055.4 555.99 L2056.06 555.99 L2056.06 555.95 L2056.6 555.95 L2056.6 555.93 L2057.02 555.93 L2057.02 555.84 L2058.32 555.84 L2058.82 555.84 L2058.82 555.81 L2059.6 555.81 L2059.6 555.75 L2060.28 555.75 L2060.28 555.71 L2060.79 555.71 L2060.79 555.67 L2062.08 555.67 L2062.08 555.59 L2062.51 555.59 L2062.51 555.56 L2062.79 555.56 L2062.79 555.54 L2062.79 555.45 L2064.11 555.45 L2064.76 555.45 L2064.76 555.41 L2064.76 555.32 L2066.18 555.32 L2066.18 555.27 L2066.9 555.27 L2066.9 555.25 L2067.23 555.25 L2067.23 555.22 L2067.57 555.22 L2067.57 555.11 L2069.3 555.11 L2069.3 555.07 L2069.81 555.07 L2069.81 554.97 L2071.39 554.97 L2071.39 554.95 L2071.7 554.95 L2071.7 554.93 L2071.99 554.93 L2073.55 554.93 L2073.55 554.82 L2073.55 554.78 L2074.25 554.78 L2074.64 554.78 L2074.64 554.75 L2074.96 554.75 L2074.96 554.73 L2075.31 554.73 L2075.31 554.71 L2075.31 554.64 L2076.36 554.64 L2076.36 554.57 L2077.45 554.57 L2078.61 554.57 L2078.61 554.49 L2079.34 554.49 L2079.34 554.44 L2079.34 554.36 L2079.99 554.36 L2080.6 554.36 L2080.6 554.19 L2081.05 554.19 L2081.05 554.06 L2081.05 553.61 L2082.64 553.61 L2082.64 553.33 L2083.65 553.33 L2084.69 553.33 L2084.69 553.03 L2084.69 552.87 L2085.27 552.87 L2085.27 552.61 L2086.21 552.61 L2086.84 552.61 L2086.84 552.43 L2088.84 552.43 L2088.84 551.86 L2091.2 551.86 L2091.2 551.2 L2093.63 551.2 L2093.63 550.73 L2094.83 550.73 L2094.83 550.59 L2095.44 550.59 L2095.44 550.51 L2095.44 550.4 L2096.37 550.4 L2096.37 550.33 L2097 550.33 L2099.4 550.33 L2099.4 550.04 L2099.4 549.95 L2100.14 549.95 L2100.98 549.95 L2100.98 549.85 L2102.41 549.85 L2102.41 549.68 L2103.73 549.68 L2103.73 549.52 L2103.73 549.48 L2104.09 549.48 L2104.09 549.44 L2104.41 549.44 L2104.41 549.35 L2105.2 549.35 L2106.38 549.35 L2106.38 549.2 L2106.74 549.2 L2106.74 549.16 L2106.74 549.13 L2107.02 549.13 L2107.35 549.13 L2107.35 549.09 L2107.78 549.09 L2107.78 549.04 L2108.71 549.04 L2108.71 548.93 L2109.38 548.93 L2109.38 548.87 L2109.88 548.87 L2109.88 548.83 L2110.91 548.83 L2110.91 548.74 L2110.91 548.66 L2111.73 548.66 L2112.4 548.66 L2112.4 548.6 L2112.84 548.6 L2112.84 548.56 L2113.29 548.56 L2113.29 548.52 L2113.29 548.32 L2115.58 548.32 L2115.58 548.19 L2117.09 548.19 L2117.09 548.14 L2117.61 548.14 L2118.26 548.14 L2118.26 548.08 L2119.27 548.08 L2119.27 547.99 L2119.27 547.88 L2120.51 547.88 L2120.98 547.88 L2120.98 547.84 L2120.98 547.76 L2121.96 547.76 L2122.66 547.76 L2122.66 547.69 L2122.66 547.65 L2123.15 547.65 L2123.15 547.6 L2123.77 547.6 L2124.7 547.6 L2124.7 547.6 L2124.7 547.6 L2125.04 547.6 L2125.04 547.6 L2125.56 547.6 L2125.92 547.6 L2125.92 547.6 L2125.92 547.6 L2126.51 547.6 L2126.51 547.6 L2126.86 547.6 L2126.86 547.6 L2128.2 547.6 L2129.26 547.6 L2129.26 547.6 L2129.6 547.6 L2129.6 547.6 L2129.95 547.6 L2129.95 547.6 L2131.04 547.6 L2131.04 547.6 L2132.4 547.6 L2132.4 547.6 L2132.4 547.6 L2132.78 547.6 L2133.38 547.6 L2133.38 547.6 L2133.38 547.6 L2134.07 547.6 L2135.13 547.6 L2135.13 547.6 L2136.88 547.6 L2136.88 547.6 L2137.45 547.6 L2137.45 547.6 L2140.11 547.6 L2140.11 547.6 L2140.11 547.6 L2140.98 547.6 L2140.98 547.6 L2141.35 547.6 L2141.35 547.6 L2142.56 547.6 L2142.56 547.6 L2142.88 547.6 L2142.88 547.6 L2143.4 547.6 L2144.14 547.6 L2144.14 547.6 L2144.14 547.6 L2145.19 547.6 L2145.19 547.6 L2145.8 547.6 L2146.41 547.6 L2146.41 547.6 L2148.06 547.6 L2148.06 547.6 L2148.52 547.6 L2148.52 547.6 L2148.52 547.6 L2149.51 547.6 L2149.51 547.6 L2150.14 547.6 L2150.64 547.6 L2150.64 547.6 L2150.8 547.6 L2150.8 547.6" fill="none" stroke="#2f9a2f" stroke-width="2.7" stroke-linejoin="round" stroke-linecap="round"/>
<line x1="1963.35" y1="546.75" x2="1963.35" y2="703.85" stroke="#111" stroke-width="1.9"/>
<line x1="1963.35" y1="702.9" x2="2151.65" y2="702.9" stroke="#111" stroke-width="1.9"/>
<line x1="1958.25" y1="697.2" x2="1963.35" y2="697.2" stroke="#111" stroke-width="1.7"/>
<text x="1953.75" y="703.5" font-size="15" text-anchor="end" fill="#0a0a0a">0.0</text>
<line x1="1970.2" y1="702.9" x2="1970.2" y2="708" stroke="#111" stroke-width="1.7"/>
<text x="1970.2" y="722.4" font-size="15" text-anchor="middle" fill="#0a0a0a">0.0</text>
<line x1="1958.25" y1="667.28" x2="1963.35" y2="667.28" stroke="#111" stroke-width="1.7"/>
<text x="1953.75" y="673.58" font-size="15" text-anchor="end" fill="#0a0a0a">0.2</text>
<line x1="2006.32" y1="702.9" x2="2006.32" y2="708" stroke="#111" stroke-width="1.7"/>
<text x="2006.32" y="722.4" font-size="15" text-anchor="middle" fill="#0a0a0a">0.2</text>
<line x1="1958.25" y1="637.36" x2="1963.35" y2="637.36" stroke="#111" stroke-width="1.7"/>
<text x="1953.75" y="643.66" font-size="15" text-anchor="end" fill="#0a0a0a">0.4</text>
<line x1="2042.44" y1="702.9" x2="2042.44" y2="708" stroke="#111" stroke-width="1.7"/>
<text x="2042.44" y="722.4" font-size="15" text-anchor="middle" fill="#0a0a0a">0.4</text>
<line x1="1958.25" y1="607.44" x2="1963.35" y2="607.44" stroke="#111" stroke-width="1.7"/>
<text x="1953.75" y="613.74" font-size="15" text-anchor="end" fill="#0a0a0a">0.6</text>
<line x1="2078.56" y1="702.9" x2="2078.56" y2="708" stroke="#111" stroke-width="1.7"/>
<text x="2078.56" y="722.4" font-size="15" text-anchor="middle" fill="#0a0a0a">0.6</text>
<line x1="1958.25" y1="577.52" x2="1963.35" y2="577.52" stroke="#111" stroke-width="1.7"/>
<text x="1953.75" y="583.82" font-size="15" text-anchor="end" fill="#0a0a0a">0.8</text>
<line x1="2114.68" y1="702.9" x2="2114.68" y2="708" stroke="#111" stroke-width="1.7"/>
<text x="2114.68" y="722.4" font-size="15" text-anchor="middle" fill="#0a0a0a">0.8</text>
<line x1="1958.25" y1="547.6" x2="1963.35" y2="547.6" stroke="#111" stroke-width="1.7"/>
<text x="1953.75" y="553.9" font-size="15" text-anchor="end" fill="#0a0a0a">1.0</text>
<line x1="2150.8" y1="702.9" x2="2150.8" y2="708" stroke="#111" stroke-width="1.7"/>
<text x="2150.8" y="722.4" font-size="15" text-anchor="middle" fill="#0a0a0a">1.0</text>
<text x="1925.35" y="623.2" font-size="14.75" text-anchor="middle" fill="#0a0a0a" transform="rotate(-90 1925.35 623.2)">Sensitivity</text>
<text x="2064.7" y="738.9" font-size="14.75" text-anchor="middle" fill="#0a0a0a">1 - specificity</text>
<text x="2060.5" y="619.1" font-size="14.75" text-anchor="middle" fill="#0a0a0a">Digestive</text>
<text x="2060.5" y="636.6" font-size="14.75" text-anchor="middle" fill="#0a0a0a">AUC: 0.903 (0.891 - 0.914)</text>
<path d="M1180.9 919.9 L1180.9 919.6 L1180.9 919.6 L1180.9 919.31 L1180.9 919.31 L1180.9 918.84 L1180.9 918.84 L1180.9 918.06 L1180.9 918.06 L1180.91 918.06 L1180.91 917.72 L1180.91 917.48 L1180.91 917.48 L1180.91 917.48 L1180.91 917.05 L1180.92 917.05 L1180.92 916 L1180.92 916 L1180.92 915.59 L1180.92 914.99 L1180.93 914.99 L1180.93 914.99 L1180.93 914.43 L1180.94 914.43 L1180.94 914.09 L1180.94 914.09 L1180.94 913.73 L1180.94 913.46 L1180.94 913.46 L1180.96 913.46 L1180.96 911.97 L1180.97 911.97 L1180.97 911.76 L1180.97 911.08 L1180.98 911.08 L1180.98 910.87 L1180.98 910.87 L1180.98 910.67 L1180.98 910.67 L1180.98 910.06 L1180.99 910.06 L1180.99 909.74 L1181 909.74 L1181 908.72 L1181.02 908.72 L1181.02 908.72 L1181.02 908.52 L1181.06 908.52 L1181.06 906.73 L1181.06 905.86 L1181.08 905.86 L1181.1 905.86 L1181.1 905.07 L1181.1 905.07 L1181.1 904.86 L1181.11 904.86 L1181.11 904.61 L1181.11 903.07 L1181.15 903.07 L1181.15 902.19 L1181.17 902.19 L1181.17 901.59 L1181.18 901.59 L1181.18 900.34 L1181.22 900.34 L1181.24 900.34 L1181.24 899.45 L1181.26 899.45 L1181.26 899.07 L1181.26 898.55 L1181.27 898.55 L1181.28 898.55 L1181.28 898.33 L1181.29 898.33 L1181.29 897.95 L1181.31 897.95 L1181.31 897.12 L1181.33 897.12 L1181.33 896.51 L1181.33 895.96 L1181.35 895.96 L1181.39 895.96 L1181.39 894.61 L1181.41 894.61 L1181.41 893.67 L1181.42 893.67 L1181.42 893.42 L1181.42 892.94 L1181.44 892.94 L1181.45 892.94 L1181.45 892.55 L1181.48 892.55 L1181.48 891.57 L1181.48 891.11 L1181.49 891.11 L1181.51 891.11 L1181.51 890.62 L1181.53 890.62 L1181.53 889.78 L1181.55 889.78 L1181.55 889.24 L1181.55 887.35 L1181.61 887.35 L1181.61 887.35 L1181.61 887.13 L1181.61 886.69 L1181.63 886.69 L1181.64 886.69 L1181.64 886.33 L1181.64 885.11 L1181.68 885.11 L1181.68 884.7 L1181.7 884.7 L1181.71 884.7 L1181.71 884.34 L1181.71 883.84 L1181.73 883.84 L1181.73 882.75 L1181.77 882.75 L1181.77 881.96 L1181.8 881.96 L1181.8 881.27 L1181.82 881.27 L1181.82 880.49 L1181.85 880.49 L1181.87 880.49 L1181.87 880.1 L1181.88 880.1 L1181.88 879.79 L1181.88 879.41 L1181.9 879.41 L1181.91 879.41 L1181.91 879.18 L1181.95 879.18 L1181.95 878.31 L1181.96 878.31 L1181.96 878.09 L1181.96 877.85 L1181.97 877.85 L1181.98 877.85 L1181.98 877.58 L1181.98 876.71 L1182.03 876.71 L1182.03 876.15 L1182.06 876.15 L1182.06 875.93 L1182.07 875.93 L1182.1 875.93 L1182.1 875.39 L1182.1 874.49 L1182.15 874.49 L1182.28 874.49 L1182.28 872.57 L1182.32 872.57 L1182.32 872.03 L1182.36 872.03 L1182.36 871.41 L1182.36 871.19 L1182.38 871.19 L1182.38 870.81 L1182.41 870.81 L1182.44 870.81 L1182.44 870.37 L1182.44 869.77 L1182.49 869.77 L1182.49 868.28 L1182.62 868.28 L1182.67 868.28 L1182.67 867.8 L1182.67 867.24 L1182.72 867.24 L1182.72 866.48 L1182.8 866.48 L1182.83 866.48 L1182.83 866.18 L1182.87 866.18 L1182.87 865.76 L1182.91 865.76 L1182.91 865.38 L1182.96 865.38 L1182.96 864.87 L1182.99 864.87 L1182.99 864.61 L1183.02 864.61 L1183.02 864.36 L1183.02 863.71 L1183.09 863.71 L1183.09 861.17 L1183.36 861.17 L1183.36 860.65 L1183.42 860.65 L1183.42 859.94 L1183.5 859.94 L1183.5 859.38 L1183.55 859.38 L1183.55 859.01 L1183.59 859.01 L1183.65 859.01 L1183.65 858.44 L1183.69 858.44 L1183.69 858.13 L1183.72 858.13 L1183.72 857.76 L1183.75 857.76 L1183.75 857.49 L1183.79 857.49 L1183.79 857.16 L1183.79 856.61 L1183.84 856.61 L1183.9 856.61 L1183.9 856.02 L1183.9 854.93 L1184 854.93 L1184 854.45 L1184.05 854.45 L1184.09 854.45 L1184.09 853.97 L1184.09 853.36 L1184.15 853.36 L1184.22 853.36 L1184.22 852.58 L1184.22 852.33 L1184.24 852.33 L1184.24 851.17 L1184.34 851.17 L1184.4 851.17 L1184.4 850.4 L1184.47 850.4 L1184.47 849.53 L1184.49 849.53 L1184.49 849.27 L1184.49 849.07 L1184.51 849.07 L1184.51 848.8 L1184.53 848.8 L1184.53 848.25 L1184.57 848.25 L1184.57 847.68 L1184.61 847.68 L1184.64 847.68 L1184.64 847.29 L1184.64 846.93 L1184.67 846.93 L1184.67 846.59 L1184.7 846.59 L1184.72 846.59 L1184.72 846.35 L1184.75 846.35 L1184.75 845.92 L1184.75 845.63 L1184.77 845.63 L1184.8 845.63 L1184.8 845.25 L1184.8 844.3 L1184.87 844.3 L1184.87 843.7 L1184.92 843.7 L1184.97 843.7 L1184.97 843 L1184.97 842.8 L1184.99 842.8 L1184.99 842.11 L1185.04 842.11 L1185.04 841.83 L1185.06 841.83 L1185.17 841.83 L1185.17 840.52 L1185.19 840.52 L1185.19 840.18 L1185.19 839.64 L1185.23 839.64 L1185.23 839.09 L1185.28 839.09 L1185.33 839.09 L1185.33 838.46 L1185.36 838.46 L1185.36 838.12 L1185.42 838.12 L1185.42 837.32 L1185.44 837.32 L1185.44 837.06 L1185.49 837.06 L1185.49 836.42 L1185.52 836.42 L1185.52 836.13 L1185.54 836.13 L1185.54 835.9 L1185.61 835.9 L1185.61 835.03 L1185.65 835.03 L1185.65 834.6 L1185.68 834.6 L1185.68 834.27 L1185.68 834.05 L1185.7 834.05 L1185.7 833.35 L1185.76 833.35 L1185.78 833.35 L1185.78 833.1 L1185.89 833.1 L1185.89 831.92 L1185.89 830.69 L1186.01 830.69 L1186.03 830.69 L1186.03 830.49 L1186.08 830.49 L1186.08 829.94 L1186.12 829.94 L1186.12 829.55 L1186.16 829.55 L1186.16 829.25 L1186.16 828.53 L1186.23 828.53 L1186.23 828.31 L1186.26 828.31 L1186.32 828.31 L1186.32 827.8 L1186.32 827.58 L1186.34 827.58 L1186.37 827.58 L1186.37 827.33 L1186.37 827.01 L1186.41 827.01 L1186.47 827.01 L1186.47 826.56 L1186.47 825.25 L1186.64 825.25 L1186.73 825.25 L1186.73 824.55 L1186.88 824.55 L1186.88 823.48 L1186.88 822.67 L1186.99 822.67 L1186.99 822.05 L1187.08 822.05 L1187.21 822.05 L1187.21 821.19 L1187.28 821.19 L1187.28 820.73 L1187.28 820.35 L1187.33 820.35 L1187.33 820.06 L1187.38 820.06 L1187.52 820.06 L1187.52 819.21 L1187.52 818.44 L1187.64 818.44 L1187.93 818.44 L1187.93 816.78 L1187.93 816.03 L1188.07 816.03 L1188.14 816.03 L1188.14 815.65 L1188.14 815.27 L1188.22 815.27 L1188.22 814.96 L1188.28 814.96 L1188.28 814.63 L1188.34 814.63 L1188.34 814.28 L1188.42 814.28 L1188.63 814.28 L1188.63 813.27 L1188.77 813.27 L1188.77 812.7 L1188.87 812.7 L1188.87 812.26 L1188.99 812.26 L1188.99 811.78 L1189.07 811.78 L1189.07 811.44 L1189.16 811.44 L1189.16 811.09 L1189.16 810.72 L1189.26 810.72 L1189.26 809.66 L1189.55 809.66 L1189.55 809.25 L1189.67 809.25 L1189.67 808.72 L1189.82 808.72 L1189.82 808.48 L1189.9 808.48 L1189.9 807.95 L1190.06 807.95 L1190.06 807.22 L1190.29 807.22 L1190.58 807.22 L1190.58 806.35 L1190.58 805.98 L1190.71 805.98 L1190.71 805.78 L1190.78 805.78 L1190.97 805.78 L1190.97 805.26 L1190.97 804.69 L1191.18 804.69 L1191.18 803.9 L1191.49 803.9 L1191.49 803.62 L1191.6 803.62 L1191.6 803.26 L1191.74 803.26 L1191.74 802.81 L1191.92 802.81 L1192.34 802.81 L1192.34 801.82 L1192.47 801.82 L1192.47 801.51 L1192.56 801.51 L1192.56 801.31 L1193.04 801.31 L1193.04 800.22 L1193.04 800 L1193.14 800 L1193.34 800 L1193.34 799.57 L1193.34 798.97 L1193.63 798.97 L1193.76 798.97 L1193.76 798.7 L1193.76 798.32 L1193.95 798.32 L1194.51 798.32 L1194.51 797.21 L1194.83 797.21 L1194.83 796.62 L1195.34 796.62 L1195.34 795.71 L1195.5 795.71 L1195.5 795.43 L1196.02 795.43 L1196.02 794.55 L1196.2 794.55 L1196.2 794.27 L1196.86 794.27 L1196.86 793.24 L1196.86 792.94 L1197.06 792.94 L1197.06 792.71 L1197.21 792.71 L1197.45 792.71 L1197.45 792.37 L1197.78 792.37 L1197.78 791.9 L1197.78 791.66 L1197.96 791.66 L1198.51 791.66 L1198.51 790.91 L1198.73 790.91 L1198.73 790.63 L1199.17 790.63 L1199.17 790.06 L1199.17 789.68 L1199.47 789.68 L1199.96 789.68 L1199.96 789.1 L1199.96 788.92 L1200.11 788.92 L1200.26 788.92 L1200.26 788.75 L1200.4 788.75 L1200.4 788.59 L1200.4 788.38 L1200.59 788.38 L1201.09 788.38 L1201.09 787.83 L1201.47 787.83 L1201.47 787.42 L1201.63 787.42 L1201.63 787.25 L1202.17 787.25 L1202.17 786.72 L1202.39 786.72 L1202.39 786.5 L1202.39 786.37 L1202.54 786.37 L1202.54 786.09 L1202.83 786.09 L1202.83 785.76 L1203.2 785.76 L1203.68 785.76 L1203.68 785.35 L1203.87 785.35 L1203.87 785.19 L1204.03 785.19 L1204.03 785.06 L1204.03 784.49 L1204.74 784.49 L1204.74 783.99 L1205.39 783.99 L1205.39 783.7 L1205.79 783.7 L1205.79 782.92 L1206.9 782.92 L1206.9 782.74 L1207.16 782.74 L1207.54 782.74 L1207.54 782.49 L1207.54 782.27 L1207.89 782.27 L1207.89 781.69 L1208.8 781.69 L1208.8 781.42 L1209.25 781.42 L1209.68 781.42 L1209.68 781.16 L1209.68 780.94 L1210.05 780.94 L1210.05 780.56 L1210.71 780.56 L1210.71 780.46 L1210.89 780.46 L1212.43 780.46 L1212.43 779.6 L1213.04 779.6 L1213.04 779.27 L1213.04 778.9 L1213.73 778.9 L1213.73 778.76 L1213.99 778.76 L1213.99 778.6 L1214.29 778.6 L1214.29 778.5 L1214.48 778.5 L1214.75 778.5 L1214.75 778.37 L1214.75 778.25 L1214.99 778.25 L1215.25 778.25 L1215.25 778.11 L1215.59 778.11 L1215.59 777.94 L1215.59 777.81 L1215.86 777.81 L1215.86 777.57 L1216.35 777.57 L1216.35 777.45 L1216.59 777.45 L1216.8 777.45 L1216.8 777.35 L1216.8 777.17 L1217.18 777.17 L1217.18 776.87 L1217.82 776.87 L1218.03 776.87 L1218.03 776.78 L1218.03 776.48 L1218.71 776.48 L1219.76 776.48 L1219.76 776.03 L1220.96 776.03 L1220.96 775.55 L1220.96 775.34 L1221.51 775.34 L1221.69 775.34 L1221.69 775.27 L1222.03 775.27 L1222.03 775.15 L1222.03 775.05 L1222.29 775.05 L1222.86 775.05 L1222.86 774.85 L1223.51 774.85 L1223.51 774.64 L1223.87 774.64 L1223.87 774.52 L1224.15 774.52 L1224.15 774.43 L1225.01 774.43 L1225.01 774.16 L1225.01 773.85 L1226.03 773.85 L1226.03 773.63 L1226.79 773.63 L1226.79 773.58 L1226.98 773.58 L1226.98 773.52 L1227.19 773.52 L1227.6 773.52 L1227.6 773.41 L1228.82 773.41 L1228.82 773.09 L1228.82 772.73 L1230.27 772.73 L1230.27 772.47 L1231.47 772.47 L1231.47 772.39 L1231.83 772.39 L1231.83 772.3 L1232.27 772.3 L1233.67 772.3 L1233.67 772.02 L1233.94 772.02 L1233.94 771.96 L1234.14 771.96 L1234.14 771.92 L1234.56 771.92 L1234.56 771.84 L1234.56 771.79 L1234.77 771.79 L1234.77 771.73 L1235.07 771.73 L1235.07 771.65 L1235.48 771.65 L1235.48 771.58 L1235.81 771.58 L1235.81 771.52 L1236.14 771.52 L1236.14 771.45 L1236.46 771.45 L1236.46 771.38 L1236.83 771.38 L1236.83 771.27 L1237.41 771.27 L1237.99 771.27 L1237.99 771.17 L1238.43 771.17 L1238.43 771.09 L1238.67 771.09 L1238.67 771.04 L1238.67 770.84 L1239.92 770.84 L1239.92 770.68 L1241.05 770.68 L1241.34 770.68 L1241.34 770.64 L1241.34 770.58 L1241.84 770.58 L1242.67 770.58 L1242.67 770.48 L1243.05 770.48 L1243.05 770.45 L1243.05 770.42 L1243.37 770.42 L1243.37 770.39 L1243.73 770.39 L1244.06 770.39 L1244.06 770.37 L1244.06 770.34 L1244.45 770.34 L1244.45 770.33 L1244.68 770.33 L1244.94 770.33 L1244.94 770.32 L1246.1 770.32 L1246.1 770.27 L1246.31 770.27 L1246.31 770.27 L1246.31 770.24 L1247.17 770.24 L1247.17 770.22 L1247.78 770.22 L1247.78 770.2 L1248.24 770.2 L1248.56 770.2 L1248.56 770.19 L1248.56 770.17 L1249.47 770.17 L1249.78 770.17 L1249.78 770.16 L1249.78 770.14 L1250.77 770.14 L1250.77 770.13 L1251.14 770.13 L1251.14 770.13 L1251.4 770.13 L1251.4 770.12 L1251.78 770.12 L1251.78 770.12 L1252.15 770.12 L1252.15 770.11 L1252.43 770.11 L1253.06 770.11 L1253.06 770.11 L1253.33 770.11 L1253.33 770.1 L1253.33 770.1 L1253.76 770.1 L1254.58 770.1 L1254.58 770.1 L1255.04 770.1 L1255.04 770.1 L1255.04 770.1 L1255.84 770.1 L1255.84 770.1 L1256.45 770.1 L1256.45 770.1 L1256.68 770.1 L1256.68 770.1 L1257.25 770.1 L1258.36 770.1 L1258.36 770.1 L1258.67 770.1 L1258.67 770.1 L1258.67 770.1 L1259.25 770.1 L1259.25 770.1 L1260 770.1 L1260 770.1 L1260.39 770.1 L1260.78 770.1 L1260.78 770.1 L1260.78 770.1 L1260.99 770.1 L1260.99 770.1 L1261.28 770.1 L1261.52 770.1 L1261.52 770.1 L1261.52 770.1 L1262.01 770.1 L1262.34 770.1 L1262.34 770.1 L1262.57 770.1 L1262.57 770.1 L1263.16 770.1 L1263.16 770.1 L1264.04 770.1 L1264.04 770.1 L1264.56 770.1 L1264.56 770.1 L1264.56 770.1 L1264.92 770.1 L1265.49 770.1 L1265.49 770.1 L1266.76 770.1 L1266.76 770.1 L1266.99 770.1 L1266.99 770.1 L1266.99 770.1 L1267.54 770.1 L1267.54 770.1 L1267.93 770.1 L1267.93 770.1 L1269 770.1 L1269 770.1 L1269.33 770.1 L1269.33 770.1 L1269.87 770.1 L1269.87 770.1 L1270.73 770.1 L1270.73 770.1 L1271.07 770.1 L1271.07 770.1 L1271.32 770.1 L1271.82 770.1 L1271.82 770.1 L1272.25 770.1 L1272.25 770.1 L1272.7 770.1 L1272.7 770.1 L1273.17 770.1 L1273.17 770.1 L1273.17 770.1 L1273.42 770.1 L1273.7 770.1 L1273.7 770.1 L1274.37 770.1 L1274.37 770.1 L1274.78 770.1 L1274.78 770.1 L1274.78 770.1 L1275.21 770.1 L1275.64 770.1 L1275.64 770.1 L1275.92 770.1 L1275.92 770.1 L1276.14 770.1 L1276.14 770.1 L1276.34 770.1 L1276.34 770.1 L1276.34 770.1 L1276.57 770.1 L1277.07 770.1 L1277.07 770.1 L1277.65 770.1 L1277.65 770.1 L1277.65 770.1 L1278.27 770.1 L1278.27 770.1 L1278.67 770.1 L1278.67 770.1 L1279.33 770.1 L1279.66 770.1 L1279.66 770.1 L1279.66 770.1 L1280.3 770.1 L1280.63 770.1 L1280.63 770.1 L1281.54 770.1 L1281.54 770.1 L1281.54 770.1 L1281.74 770.1 L1281.74 770.1 L1282.1 770.1 L1282.35 770.1 L1282.35 770.1 L1282.35 770.1 L1283.52 770.1 L1283.52 770.1 L1283.93 770.1 L1284.58 770.1 L1284.58 770.1 L1284.58 770.1 L1284.91 770.1 L1284.91 770.1 L1286.21 770.1 L1286.21 770.1 L1286.71 770.1 L1286.71 770.1 L1287.35 770.1 L1288.03 770.1 L1288.03 770.1 L1288.03 770.1 L1289.07 770.1 L1289.44 770.1 L1289.44 770.1 L1289.44 770.1 L1289.76 770.1 L1289.98 770.1 L1289.98 770.1 L1290.3 770.1 L1290.3 770.1 L1290.78 770.1 L1290.78 770.1 L1290.78 770.1 L1291.82 770.1 L1292.09 770.1 L1292.09 770.1 L1292.09 770.1 L1292.62 770.1 L1292.62 770.1 L1293.03 770.1 L1293.03 770.1 L1293.89 770.1 L1293.89 770.1 L1294.46 770.1 L1294.74 770.1 L1294.74 770.1 L1294.74 770.1 L1296.09 770.1 L1296.09 770.1 L1297.8 770.1 L1297.8 770.1 L1298.22 770.1 L1298.81 770.1 L1298.81 770.1 L1299.24 770.1 L1299.24 770.1 L1299.46 770.1 L1299.46 770.1 L1299.46 770.1 L1300.06 770.1 L1300.06 770.1 L1301.13 770.1 L1301.13 770.1 L1301.39 770.1 L1301.39 770.1 L1301.66 770.1 L1301.95 770.1 L1301.95 770.1 L1301.95 770.1 L1302.97 770.1 L1303.72 770.1 L1303.72 770.1 L1304.16 770.1 L1304.16 770.1 L1304.16 770.1 L1305.86 770.1 L1305.86 770.1 L1306.75 770.1 L1306.75 770.1 L1306.98 770.1 L1306.98 770.1 L1307.7 770.1 L1308.12 770.1 L1308.12 770.1 L1308.59 770.1 L1308.59 770.1 L1308.59 770.1 L1308.84 770.1 L1309.47 770.1 L1309.47 770.1 L1309.47 770.1 L1310.05 770.1 L1310.56 770.1 L1310.56 770.1 L1310.56 770.1 L1312.12 770.1 L1312.12 770.1 L1312.58 770.1 L1313.02 770.1 L1313.02 770.1 L1313.02 770.1 L1313.22 770.1 L1313.22 770.1 L1313.48 770.1 L1313.48 770.1 L1313.72 770.1 L1313.72 770.1 L1313.93 770.1 L1313.93 770.1 L1314.13 770.1 L1314.13 770.1 L1314.69 770.1 L1314.69 770.1 L1315.92 770.1 L1315.92 770.1 L1316.44 770.1 L1316.44 770.1 L1317.11 770.1 L1317.11 770.1 L1317.59 770.1 L1318.12 770.1 L1318.12 770.1 L1318.12 770.1 L1318.34 770.1 L1318.34 770.1 L1318.58 770.1 L1318.58 770.1 L1319.05 770.1 L1319.44 770.1 L1319.44 770.1 L1319.72 770.1 L1319.72 770.1 L1320.21 770.1 L1320.21 770.1 L1320.63 770.1 L1320.63 770.1 L1320.63 770.1 L1320.89 770.1 L1320.89 770.1 L1321.73 770.1 L1322.13 770.1 L1322.13 770.1 L1322.13 770.1 L1322.84 770.1 L1323.34 770.1 L1323.34 770.1 L1323.34 770.1 L1323.66 770.1 L1324.48 770.1 L1324.48 770.1 L1324.48 770.1 L1325.01 770.1 L1325.01 770.1 L1325.39 770.1 L1325.94 770.1 L1325.94 770.1 L1326.43 770.1 L1326.43 770.1 L1326.43 770.1 L1326.98 770.1 L1326.98 770.1 L1327.21 770.1 L1327.43 770.1 L1327.43 770.1 L1327.43 770.1 L1328.02 770.1 L1328.31 770.1 L1328.31 770.1 L1328.31 770.1 L1328.56 770.1 L1328.56 770.1 L1329.21 770.1 L1329.21 770.1 L1329.88 770.1 L1329.88 770.1 L1330.73 770.1 L1331.24 770.1 L1331.24 770.1 L1331.24 770.1 L1331.51 770.1 L1331.91 770.1 L1331.91 770.1 L1332.77 770.1 L1332.77 770.1 L1333 770.1 L1333 770.1 L1333.22 770.1 L1333.22 770.1 L1333.22 770.1 L1333.74 770.1 L1334.03 770.1 L1334.03 770.1 L1334.03 770.1 L1334.49 770.1 L1334.49 770.1 L1334.96 770.1 L1334.96 770.1 L1336.17 770.1 L1336.92 770.1 L1336.92 770.1 L1336.92 770.1 L1337.46 770.1 L1337.89 770.1 L1337.89 770.1 L1337.89 770.1 L1338.53 770.1 L1338.53 770.1 L1338.87 770.1 L1338.87 770.1 L1339.58 770.1 L1339.79 770.1 L1339.79 770.1 L1339.79 770.1 L1340.28 770.1 L1340.28 770.1 L1340.52 770.1 L1340.52 770.1 L1340.83 770.1 L1341.25 770.1 L1341.25 770.1 L1341.25 770.1 L1342.13 770.1 L1342.13 770.1 L1342.35 770.1 L1342.35 770.1 L1342.97 770.1 L1343.36 770.1 L1343.36 770.1 L1343.36 770.1 L1343.69 770.1 L1343.95 770.1 L1343.95 770.1 L1344.64 770.1 L1344.64 770.1 L1344.64 770.1 L1345.24 770.1 L1345.95 770.1 L1345.95 770.1 L1346.64 770.1 L1346.64 770.1 L1347.31 770.1 L1347.31 770.1 L1347.31 770.1 L1348.21 770.1 L1348.81 770.1 L1348.81 770.1 L1349.22 770.1 L1349.22 770.1 L1349.5 770.1 L1349.5 770.1 L1350.09 770.1 L1350.09 770.1 L1350.09 770.1 L1350.32 770.1 L1350.32 770.1 L1350.88 770.1 L1351.13 770.1 L1351.13 770.1 L1351.61 770.1 L1351.61 770.1 L1351.61 770.1 L1351.92 770.1 L1351.92 770.1 L1353.59 770.1 L1353.59 770.1 L1354.06 770.1 L1354.31 770.1 L1354.31 770.1 L1354.98 770.1 L1354.98 770.1 L1354.98 770.1 L1355.93 770.1 L1356.26 770.1 L1356.26 770.1 L1356.85 770.1 L1356.85 770.1 L1356.85 770.1 L1357.61 770.1 L1358.61 770.1 L1358.61 770.1 L1358.61 770.1 L1359.05 770.1 L1359.05 770.1 L1359.94 770.1 L1360.17 770.1 L1360.17 770.1 L1360.17 770.1 L1360.73 770.1 L1360.73 770.1 L1360.94 770.1 L1361.6 770.1 L1361.6 770.1" fill="none" stroke="#2f9a2f" stroke-width="2.7" stroke-linejoin="round" stroke-linecap="round"/>
<line x1="1173.8" y1="769.25" x2="1173.8" y2="926.55" stroke="#111" stroke-width="1.9"/>
<line x1="1173.8" y1="925.6" x2="1362.45" y2="925.6" stroke="#111" stroke-width="1.9"/>
<line x1="1168.7" y1="919.9" x2="1173.8" y2="919.9" stroke="#111" stroke-width="1.7"/>
<text x="1166.7" y="925.6" font-size="15" text-anchor="end" fill="#0a0a0a">0.0</text>
<line x1="1180.9" y1="925.6" x2="1180.9" y2="930.7" stroke="#111" stroke-width="1.7"/>
<text x="1180.9" y="946.9" font-size="15" text-anchor="middle" fill="#0a0a0a">0.0</text>
<line x1="1168.7" y1="889.94" x2="1173.8" y2="889.94" stroke="#111" stroke-width="1.7"/>
<text x="1166.7" y="895.64" font-size="15" text-anchor="end" fill="#0a0a0a">0.2</text>
<line x1="1217.04" y1="925.6" x2="1217.04" y2="930.7" stroke="#111" stroke-width="1.7"/>
<text x="1217.04" y="946.9" font-size="15" text-anchor="middle" fill="#0a0a0a">0.2</text>
<line x1="1168.7" y1="859.98" x2="1173.8" y2="859.98" stroke="#111" stroke-width="1.7"/>
<text x="1166.7" y="865.68" font-size="15" text-anchor="end" fill="#0a0a0a">0.4</text>
<line x1="1253.18" y1="925.6" x2="1253.18" y2="930.7" stroke="#111" stroke-width="1.7"/>
<text x="1253.18" y="946.9" font-size="15" text-anchor="middle" fill="#0a0a0a">0.4</text>
<line x1="1168.7" y1="830.02" x2="1173.8" y2="830.02" stroke="#111" stroke-width="1.7"/>
<text x="1166.7" y="835.72" font-size="15" text-anchor="end" fill="#0a0a0a">0.6</text>
<line x1="1289.32" y1="925.6" x2="1289.32" y2="930.7" stroke="#111" stroke-width="1.7"/>
<text x="1289.32" y="946.9" font-size="15" text-anchor="middle" fill="#0a0a0a">0.6</text>
<line x1="1168.7" y1="800.06" x2="1173.8" y2="800.06" stroke="#111" stroke-width="1.7"/>
<text x="1166.7" y="805.76" font-size="15" text-anchor="end" fill="#0a0a0a">0.8</text>
<line x1="1325.46" y1="925.6" x2="1325.46" y2="930.7" stroke="#111" stroke-width="1.7"/>
<text x="1325.46" y="946.9" font-size="15" text-anchor="middle" fill="#0a0a0a">0.8</text>
<line x1="1168.7" y1="770.1" x2="1173.8" y2="770.1" stroke="#111" stroke-width="1.7"/>
<text x="1166.7" y="775.8" font-size="15" text-anchor="end" fill="#0a0a0a">1.0</text>
<line x1="1361.6" y1="925.6" x2="1361.6" y2="930.7" stroke="#111" stroke-width="1.7"/>
<text x="1361.6" y="946.9" font-size="15" text-anchor="middle" fill="#0a0a0a">1.0</text>
<text x="1138.8" y="849" font-size="14.75" text-anchor="middle" fill="#0a0a0a" transform="rotate(-90 1138.8 849)">Sensitivity</text>
<text x="1271.9" y="963.6" font-size="14.75" text-anchor="middle" fill="#0a0a0a">1 - specificity</text>
<text x="1271.25" y="841.1" font-size="14.75" text-anchor="middle" fill="#0a0a0a">Female reproductive</text>
<text x="1271.25" y="858.6" font-size="14.75" text-anchor="middle" fill="#0a0a0a">AUC: 0.950 (0.946 - 0.954)</text>
<path d="M1444.3 919.9 L1444.3 919.06 L1444.3 918.19 L1444.3 917.3 L1444.31 916.38 L1444.31 915.45 L1444.31 914.49 L1444.32 913.51 L1444.32 912.51 L1444.33 911.49 L1444.34 910.45 L1444.34 909.39 L1444.35 908.32 L1444.36 907.23 L1444.37 906.12 L1444.38 904.99 L1444.39 903.85 L1444.41 902.7 L1444.42 901.53 L1444.43 900.35 L1444.45 899.15 L1444.46 897.94 L1444.48 896.66 L1444.5 895.31 L1444.51 893.9 L1444.53 892.44 L1444.55 890.94 L1444.57 889.41 L1444.59 887.87 L1444.61 886.33 L1444.63 884.79 L1444.66 883.27 L1444.68 881.79 L1444.7 880.34 L1444.73 878.95 L1444.75 877.63 L1444.78 876.39 L1444.81 875.23 L1444.84 874.13 L1444.86 873.07 L1444.89 872.04 L1444.92 871.04 L1444.95 870.07 L1444.99 869.12 L1445.02 868.2 L1445.05 867.3 L1445.08 866.41 L1445.12 865.54 L1445.15 864.68 L1445.19 863.83 L1445.23 862.98 L1445.26 862.14 L1445.3 861.3 L1445.34 860.45 L1445.38 859.6 L1445.42 858.75 L1445.46 857.88 L1445.5 857 L1445.55 856.1 L1445.59 855.19 L1445.63 854.25 L1445.68 853.28 L1445.72 852.29 L1445.77 851.28 L1445.82 850.24 L1445.87 849.18 L1445.91 848.12 L1445.96 847.04 L1446.01 845.95 L1446.06 844.86 L1446.12 843.77 L1446.17 842.68 L1446.22 841.59 L1446.28 840.52 L1446.33 839.45 L1446.38 838.41 L1446.44 837.38 L1446.5 836.37 L1446.56 835.39 L1446.61 834.44 L1446.67 833.52 L1446.73 832.63 L1446.79 831.78 L1446.85 830.98 L1446.92 830.22 L1446.98 829.51 L1447.04 828.84 L1447.11 828.22 L1447.17 827.62 L1447.24 827.04 L1447.3 826.47 L1447.37 825.92 L1447.44 825.38 L1447.51 824.85 L1447.58 824.34 L1447.65 823.85 L1447.72 823.36 L1447.79 822.88 L1447.86 822.42 L1447.93 821.97 L1448.01 821.52 L1448.08 821.09 L1448.16 820.66 L1448.23 820.24 L1448.31 819.82 L1448.39 819.42 L1448.46 819.01 L1448.54 818.62 L1448.62 818.22 L1448.7 817.83 L1448.78 817.44 L1448.87 817.06 L1448.95 816.67 L1449.03 816.29 L1449.12 815.91 L1449.2 815.52 L1449.29 815.14 L1449.37 814.75 L1449.46 814.36 L1449.55 813.97 L1449.64 813.59 L1449.73 813.2 L1449.82 812.82 L1449.91 812.44 L1450 812.07 L1450.09 811.69 L1450.18 811.32 L1450.28 810.96 L1450.37 810.59 L1450.47 810.23 L1450.56 809.87 L1450.66 809.52 L1450.76 809.16 L1450.86 808.81 L1450.96 808.47 L1451.06 808.12 L1451.16 807.78 L1451.26 807.44 L1451.36 807.11 L1451.46 806.77 L1451.56 806.44 L1451.67 806.12 L1451.77 805.79 L1451.88 805.47 L1451.99 805.16 L1452.09 804.84 L1452.2 804.53 L1452.31 804.23 L1452.42 803.92 L1452.53 803.62 L1452.64 803.32 L1452.75 803.03 L1452.86 802.74 L1452.98 802.45 L1453.09 802.17 L1453.2 801.88 L1453.32 801.61 L1453.44 801.33 L1453.55 801.06 L1453.67 800.79 L1453.79 800.52 L1453.91 800.25 L1454.03 799.99 L1454.15 799.73 L1454.27 799.47 L1454.39 799.21 L1454.51 798.96 L1454.64 798.7 L1454.76 798.45 L1454.89 798.2 L1455.01 797.95 L1455.14 797.71 L1455.27 797.46 L1455.39 797.22 L1455.52 796.98 L1455.65 796.74 L1455.78 796.5 L1455.91 796.26 L1456.04 796.02 L1456.18 795.78 L1456.31 795.55 L1456.44 795.31 L1456.58 795.07 L1456.71 794.84 L1456.85 794.61 L1456.99 794.37 L1457.12 794.14 L1457.26 793.9 L1457.4 793.67 L1457.54 793.44 L1457.68 793.2 L1457.82 792.97 L1457.96 792.73 L1458.11 792.5 L1458.25 792.27 L1458.39 792.03 L1458.54 791.8 L1458.68 791.56 L1458.83 791.33 L1458.98 791.1 L1459.13 790.87 L1459.27 790.64 L1459.42 790.41 L1459.57 790.18 L1459.72 789.95 L1459.88 789.72 L1460.03 789.5 L1460.18 789.27 L1460.34 789.05 L1460.49 788.83 L1460.65 788.61 L1460.8 788.39 L1460.96 788.17 L1461.12 787.96 L1461.27 787.74 L1461.43 787.53 L1461.59 787.32 L1461.75 787.11 L1461.91 786.91 L1462.08 786.71 L1462.24 786.51 L1462.4 786.31 L1462.57 786.11 L1462.73 785.92 L1462.9 785.73 L1463.06 785.54 L1463.23 785.36 L1463.4 785.17 L1463.57 784.99 L1463.74 784.81 L1463.91 784.62 L1464.08 784.44 L1464.25 784.26 L1464.42 784.07 L1464.6 783.89 L1464.77 783.71 L1464.94 783.53 L1465.12 783.35 L1465.3 783.17 L1465.47 782.99 L1465.65 782.81 L1465.83 782.64 L1466.01 782.46 L1466.19 782.29 L1466.37 782.12 L1466.55 781.96 L1466.73 781.79 L1466.91 781.63 L1467.1 781.47 L1467.28 781.31 L1467.47 781.16 L1467.65 781.01 L1467.84 780.87 L1468.02 780.73 L1468.21 780.59 L1468.4 780.45 L1468.59 780.32 L1468.78 780.2 L1468.97 780.08 L1469.16 779.96 L1469.36 779.85 L1469.55 779.74 L1469.74 779.64 L1469.94 779.55 L1470.13 779.46 L1470.33 779.37 L1470.53 779.28 L1470.72 779.19 L1470.92 779.11 L1471.12 779.03 L1471.32 778.94 L1471.52 778.86 L1471.72 778.78 L1471.92 778.71 L1472.13 778.63 L1472.33 778.56 L1472.53 778.48 L1472.74 778.41 L1472.95 778.34 L1473.15 778.27 L1473.36 778.2 L1473.57 778.13 L1473.78 778.07 L1473.98 778 L1474.2 777.94 L1474.41 777.88 L1474.62 777.82 L1474.83 777.76 L1475.04 777.7 L1475.26 777.64 L1475.47 777.58 L1475.69 777.52 L1475.9 777.47 L1476.12 777.41 L1476.34 777.36 L1476.56 777.31 L1476.77 777.25 L1476.99 777.2 L1477.22 777.15 L1477.44 777.1 L1477.66 777.05 L1477.88 777.01 L1478.1 776.96 L1478.33 776.91 L1478.55 776.87 L1478.78 776.82 L1479.01 776.77 L1479.23 776.73 L1479.46 776.69 L1479.69 776.64 L1479.92 776.6 L1480.15 776.56 L1480.38 776.52 L1480.61 776.47 L1480.84 776.43 L1481.08 776.39 L1481.31 776.36 L1481.55 776.32 L1481.78 776.28 L1482.02 776.24 L1482.25 776.2 L1482.49 776.17 L1482.73 776.13 L1482.97 776.09 L1483.21 776.06 L1483.45 776.02 L1483.69 775.99 L1483.93 775.96 L1484.18 775.92 L1484.42 775.89 L1484.66 775.85 L1484.91 775.82 L1485.15 775.79 L1485.4 775.76 L1485.65 775.73 L1485.9 775.69 L1486.14 775.66 L1486.39 775.63 L1486.64 775.6 L1486.9 775.57 L1487.15 775.54 L1487.4 775.51 L1487.65 775.48 L1487.91 775.45 L1488.16 775.42 L1488.42 775.39 L1488.67 775.36 L1488.93 775.33 L1489.19 775.31 L1489.45 775.28 L1489.7 775.25 L1489.96 775.22 L1490.23 775.19 L1490.49 775.16 L1490.75 775.13 L1491.01 775.11 L1491.27 775.08 L1491.54 775.05 L1491.8 775.02 L1492.07 774.99 L1492.34 774.96 L1492.6 774.93 L1492.87 774.91 L1493.14 774.88 L1493.41 774.85 L1493.68 774.82 L1493.95 774.79 L1494.22 774.76 L1494.49 774.73 L1494.77 774.7 L1495.04 774.68 L1495.32 774.65 L1495.59 774.62 L1495.87 774.59 L1496.15 774.56 L1496.42 774.53 L1496.7 774.5 L1496.98 774.47 L1497.26 774.45 L1497.54 774.42 L1497.82 774.39 L1498.1 774.36 L1498.39 774.33 L1498.67 774.3 L1498.95 774.28 L1499.24 774.25 L1499.53 774.22 L1499.81 774.19 L1500.1 774.16 L1500.39 774.14 L1500.68 774.11 L1500.97 774.08 L1501.26 774.05 L1501.55 774.03 L1501.84 774 L1502.13 773.97 L1502.42 773.94 L1502.72 773.92 L1503.01 773.89 L1503.31 773.86 L1503.6 773.83 L1503.9 773.81 L1504.2 773.78 L1504.5 773.75 L1504.8 773.73 L1505.1 773.7 L1505.4 773.67 L1505.7 773.65 L1506 773.62 L1506.3 773.59 L1506.61 773.57 L1506.91 773.54 L1507.22 773.51 L1507.52 773.49 L1507.83 773.46 L1508.14 773.44 L1508.44 773.41 L1508.75 773.39 L1509.06 773.36 L1509.37 773.33 L1509.68 773.31 L1509.99 773.28 L1510.31 773.26 L1510.62 773.23 L1510.93 773.21 L1511.25 773.18 L1511.56 773.16 L1511.88 773.13 L1512.2 773.11 L1512.51 773.09 L1512.83 773.06 L1513.15 773.04 L1513.47 773.01 L1513.79 772.99 L1514.11 772.97 L1514.44 772.94 L1514.76 772.92 L1515.08 772.89 L1515.41 772.87 L1515.73 772.85 L1516.06 772.83 L1516.38 772.8 L1516.71 772.78 L1517.04 772.76 L1517.37 772.73 L1517.7 772.71 L1518.03 772.69 L1518.36 772.67 L1518.69 772.64 L1519.02 772.62 L1519.36 772.6 L1519.69 772.58 L1520.03 772.56 L1520.36 772.54 L1520.7 772.52 L1521.03 772.49 L1521.37 772.47 L1521.71 772.45 L1522.05 772.43 L1522.39 772.41 L1522.73 772.39 L1523.07 772.37 L1523.41 772.35 L1523.76 772.33 L1524.1 772.31 L1524.44 772.29 L1524.79 772.27 L1525.13 772.25 L1525.48 772.23 L1525.83 772.21 L1526.18 772.19 L1526.53 772.17 L1526.87 772.14 L1527.23 772.12 L1527.58 772.1 L1527.93 772.08 L1528.28 772.06 L1528.63 772.04 L1528.99 772.02 L1529.34 772 L1529.7 771.98 L1530.05 771.96 L1530.41 771.94 L1530.77 771.92 L1531.13 771.9 L1531.49 771.88 L1531.85 771.86 L1532.21 771.84 L1532.57 771.82 L1532.93 771.8 L1533.29 771.78 L1533.66 771.76 L1534.02 771.74 L1534.39 771.72 L1534.75 771.7 L1535.12 771.68 L1535.49 771.66 L1535.85 771.64 L1536.22 771.62 L1536.59 771.6 L1536.96 771.59 L1537.33 771.57 L1537.71 771.55 L1538.08 771.53 L1538.45 771.51 L1538.83 771.49 L1539.2 771.47 L1539.58 771.45 L1539.95 771.44 L1540.33 771.42 L1540.71 771.4 L1541.08 771.38 L1541.46 771.36 L1541.84 771.35 L1542.22 771.33 L1542.61 771.31 L1542.99 771.29 L1543.37 771.28 L1543.75 771.26 L1544.14 771.24 L1544.52 771.22 L1544.91 771.21 L1545.3 771.19 L1545.68 771.17 L1546.07 771.16 L1546.46 771.14 L1546.85 771.13 L1547.24 771.11 L1547.63 771.1 L1548.02 771.08 L1548.42 771.06 L1548.81 771.05 L1549.2 771.03 L1549.6 771.02 L1549.99 771.01 L1550.39 770.99 L1550.79 770.98 L1551.18 770.96 L1551.58 770.95 L1551.98 770.94 L1552.38 770.92 L1552.78 770.91 L1553.18 770.9 L1553.59 770.88 L1553.99 770.87 L1554.39 770.86 L1554.8 770.85 L1555.2 770.83 L1555.61 770.82 L1556.01 770.81 L1556.42 770.8 L1556.83 770.79 L1557.24 770.78 L1557.65 770.77 L1558.06 770.76 L1558.47 770.75 L1558.88 770.74 L1559.29 770.73 L1559.71 770.72 L1560.12 770.71 L1560.54 770.7 L1560.95 770.69 L1561.37 770.68 L1561.78 770.68 L1562.2 770.67 L1562.62 770.66 L1563.04 770.65 L1563.46 770.64 L1563.88 770.63 L1564.3 770.62 L1564.72 770.62 L1565.15 770.61 L1565.57 770.6 L1566 770.59 L1566.42 770.58 L1566.85 770.57 L1567.27 770.57 L1567.7 770.56 L1568.13 770.55 L1568.56 770.54 L1568.99 770.53 L1569.42 770.52 L1569.85 770.52 L1570.28 770.51 L1570.71 770.5 L1571.15 770.49 L1571.58 770.48 L1572.01 770.48 L1572.45 770.47 L1572.89 770.46 L1573.32 770.45 L1573.76 770.44 L1574.2 770.44 L1574.64 770.43 L1575.08 770.42 L1575.52 770.41 L1575.96 770.41 L1576.4 770.4 L1576.85 770.39 L1577.29 770.38 L1577.73 770.38 L1578.18 770.37 L1578.63 770.36 L1579.07 770.35 L1579.52 770.35 L1579.97 770.34 L1580.42 770.33 L1580.87 770.33 L1581.32 770.32 L1581.77 770.31 L1582.22 770.31 L1582.67 770.3 L1583.12 770.29 L1583.58 770.29 L1584.03 770.28 L1584.49 770.27 L1584.95 770.27 L1585.4 770.26 L1585.86 770.26 L1586.32 770.25 L1586.78 770.24 L1587.24 770.24 L1587.7 770.23 L1588.16 770.23 L1588.62 770.22 L1589.09 770.22 L1589.55 770.21 L1590.01 770.21 L1590.48 770.2 L1590.94 770.2 L1591.41 770.19 L1591.88 770.19 L1592.35 770.18 L1592.82 770.18 L1593.29 770.17 L1593.76 770.17 L1594.23 770.16 L1594.7 770.16 L1595.17 770.16 L1595.64 770.15 L1596.12 770.15 L1596.59 770.14 L1597.07 770.14 L1597.54 770.14 L1598.02 770.13 L1598.5 770.13 L1598.98 770.13 L1599.46 770.13 L1599.94 770.12 L1600.42 770.12 L1600.9 770.12 L1601.38 770.12 L1601.86 770.11 L1602.35 770.11 L1602.83 770.11 L1603.32 770.11 L1603.8 770.11 L1604.29 770.11 L1604.78 770.1 L1605.27 770.1 L1605.76 770.1 L1606.24 770.1 L1606.74 770.1 L1607.23 770.1 L1607.72 770.1 L1608.21 770.1 L1608.7 770.1 L1609.2 770.1 L1609.69 770.1 L1610.19 770.1 L1610.68 770.1 L1611.18 770.1 L1611.68 770.1 L1612.18 770.1 L1612.68 770.1 L1613.18 770.1 L1613.68 770.1 L1614.18 770.1 L1614.68 770.1 L1615.18 770.1 L1615.69 770.1 L1616.19 770.1 L1616.7 770.1 L1617.2 770.1 L1617.71 770.1 L1618.22 770.1 L1618.73 770.1 L1619.24 770.1 L1619.74 770.1 L1620.26 770.1 L1620.77 770.1 L1621.28 770.1 L1621.79 770.1 L1622.3 770.1 L1622.82 770.1 L1623.33 770.1 L1623.85 770.1 L1624.37 770.1 L1624.88 770.1 L1625.4 770.1" fill="none" stroke="#2f9a2f" stroke-width="2.7" stroke-linejoin="round" stroke-linecap="round"/>
<line x1="1437.1" y1="769.25" x2="1437.1" y2="926.55" stroke="#111" stroke-width="1.9"/>
<line x1="1437.1" y1="925.6" x2="1626.25" y2="925.6" stroke="#111" stroke-width="1.9"/>
<line x1="1432" y1="919.9" x2="1437.1" y2="919.9" stroke="#111" stroke-width="1.7"/>
<text x="1430" y="925.6" font-size="15" text-anchor="end" fill="#0a0a0a">0.0</text>
<line x1="1444.3" y1="925.6" x2="1444.3" y2="930.7" stroke="#111" stroke-width="1.7"/>
<text x="1444.3" y="946.9" font-size="15" text-anchor="middle" fill="#0a0a0a">0.0</text>
<line x1="1432" y1="889.94" x2="1437.1" y2="889.94" stroke="#111" stroke-width="1.7"/>
<text x="1430" y="895.64" font-size="15" text-anchor="end" fill="#0a0a0a">0.2</text>
<line x1="1480.52" y1="925.6" x2="1480.52" y2="930.7" stroke="#111" stroke-width="1.7"/>
<text x="1480.52" y="946.9" font-size="15" text-anchor="middle" fill="#0a0a0a">0.2</text>
<line x1="1432" y1="859.98" x2="1437.1" y2="859.98" stroke="#111" stroke-width="1.7"/>
<text x="1430" y="865.68" font-size="15" text-anchor="end" fill="#0a0a0a">0.4</text>
<line x1="1516.74" y1="925.6" x2="1516.74" y2="930.7" stroke="#111" stroke-width="1.7"/>
<text x="1516.74" y="946.9" font-size="15" text-anchor="middle" fill="#0a0a0a">0.4</text>
<line x1="1432" y1="830.02" x2="1437.1" y2="830.02" stroke="#111" stroke-width="1.7"/>
<text x="1430" y="835.72" font-size="15" text-anchor="end" fill="#0a0a0a">0.6</text>
<line x1="1552.96" y1="925.6" x2="1552.96" y2="930.7" stroke="#111" stroke-width="1.7"/>
<text x="1552.96" y="946.9" font-size="15" text-anchor="middle" fill="#0a0a0a">0.6</text>
<line x1="1432" y1="800.06" x2="1437.1" y2="800.06" stroke="#111" stroke-width="1.7"/>
<text x="1430" y="805.76" font-size="15" text-anchor="end" fill="#0a0a0a">0.8</text>
<line x1="1589.18" y1="925.6" x2="1589.18" y2="930.7" stroke="#111" stroke-width="1.7"/>
<text x="1589.18" y="946.9" font-size="15" text-anchor="middle" fill="#0a0a0a">0.8</text>
<line x1="1432" y1="770.1" x2="1437.1" y2="770.1" stroke="#111" stroke-width="1.7"/>
<text x="1430" y="775.8" font-size="15" text-anchor="end" fill="#0a0a0a">1.0</text>
<line x1="1625.4" y1="925.6" x2="1625.4" y2="930.7" stroke="#111" stroke-width="1.7"/>
<text x="1625.4" y="946.9" font-size="15" text-anchor="middle" fill="#0a0a0a">1.0</text>
<text x="1399.8" y="849" font-size="14.75" text-anchor="middle" fill="#0a0a0a" transform="rotate(-90 1399.8 849)">Sensitivity</text>
<text x="1534.8" y="963.6" font-size="14.75" text-anchor="middle" fill="#0a0a0a">1 - specificity</text>
<text x="1534.85" y="841.1" font-size="14.75" text-anchor="middle" fill="#0a0a0a">Respiratory</text>
<text x="1534.85" y="858.6" font-size="14.75" text-anchor="middle" fill="#0a0a0a">AUC: 0.953 (0.949 - 0.958)</text>
<path d="M1707.5 919.9 L1707.5 917.4 L1707.51 917.4 L1707.51 914.77 L1707.53 914.77 L1707.54 914.77 L1707.54 913.69 L1707.55 913.69 L1707.55 910.97 L1707.55 910.97 L1707.55 910.47 L1707.56 910.47 L1707.56 909.18 L1707.56 907.59 L1707.57 907.59 L1707.57 907.15 L1707.57 907.15 L1707.58 907.15 L1707.58 906.83 L1707.58 906.48 L1707.58 906.48 L1707.58 905.79 L1707.58 905.79 L1707.58 904.48 L1707.59 904.48 L1707.59 904.48 L1707.59 904.04 L1707.6 904.04 L1707.6 903.13 L1707.6 903.13 L1707.6 901.97 L1707.6 901.17 L1707.61 901.17 L1707.61 901.17 L1707.61 900.37 L1707.61 899.94 L1707.62 899.94 L1707.62 899.15 L1707.62 899.15 L1707.62 898.5 L1707.62 898.5 L1707.62 897.86 L1707.63 897.86 L1707.64 897.86 L1707.64 896.6 L1707.64 895.98 L1707.64 895.98 L1707.64 895.98 L1707.64 894.92 L1707.64 894.08 L1707.65 894.08 L1707.66 894.08 L1707.66 892.32 L1707.67 892.32 L1707.67 891.35 L1707.67 891.35 L1707.67 890.59 L1707.68 890.59 L1707.68 888.66 L1707.69 888.66 L1707.69 887.21 L1707.7 887.21 L1707.7 885.38 L1707.7 884.81 L1707.7 884.81 L1707.7 883.29 L1707.71 883.29 L1707.72 883.29 L1707.72 882.39 L1707.73 882.39 L1707.73 881.49 L1707.73 880.33 L1707.73 880.33 L1707.73 879.54 L1707.74 879.54 L1707.74 879.18 L1707.74 879.18 L1707.74 878.77 L1707.75 878.77 L1707.75 878.16 L1707.75 878.16 L1707.76 878.16 L1707.76 877.81 L1707.76 876.75 L1707.77 876.75 L1707.77 875.89 L1707.77 875.89 L1707.77 875.14 L1707.78 875.14 L1707.78 874.37 L1707.79 874.37 L1707.79 874.37 L1707.79 873.34 L1707.79 872.73 L1707.8 872.73 L1707.8 872.73 L1707.8 872.14 L1707.81 872.14 L1707.81 871.41 L1707.82 871.41 L1707.82 870.47 L1707.82 870.47 L1707.82 869.96 L1707.82 869.29 L1707.83 869.29 L1707.83 866.48 L1707.85 866.48 L1707.85 866.1 L1707.85 866.1 L1707.85 865.05 L1707.86 865.05 L1707.87 865.05 L1707.87 864.46 L1707.88 864.46 L1707.88 863.54 L1707.88 862.3 L1707.89 862.3 L1707.89 861.65 L1707.89 861.65 L1707.89 861.2 L1707.9 861.2 L1707.9 860.48 L1707.9 860.48 L1707.9 859.27 L1707.91 859.27 L1707.93 859.27 L1707.93 856.63 L1707.93 856.3 L1707.94 856.3 L1707.94 855.96 L1707.94 855.96 L1707.94 855.15 L1707.95 855.15 L1707.95 855.15 L1707.95 854.46 L1707.95 852.22 L1707.97 852.22 L1707.97 852.22 L1707.97 851.9 L1707.98 851.9 L1707.98 850.94 L1707.98 850.29 L1707.98 850.29 L1707.98 849.69 L1707.98 849.69 L1707.98 848.55 L1707.99 848.55 L1707.99 848.55 L1707.99 848.1 L1707.99 846.86 L1708 846.86 L1708 846.86 L1708 846.49 L1708 845.31 L1708.01 845.31 L1708.01 844.93 L1708.01 844.93 L1708.01 843.62 L1708.02 843.62 L1708.03 843.62 L1708.03 843.04 L1708.03 842.42 L1708.03 842.42 L1708.04 842.42 L1708.04 841.85 L1708.04 839.78 L1708.05 839.78 L1708.05 837.24 L1708.07 837.24 L1708.07 837.24 L1708.07 836.86 L1708.07 836.02 L1708.07 836.02 L1708.07 834.32 L1708.08 834.32 L1708.1 834.32 L1708.1 832 L1708.1 832 L1708.1 831.52 L1708.11 831.52 L1708.11 831.01 L1708.11 831.01 L1708.11 830.61 L1708.11 830.27 L1708.11 830.27 L1708.13 830.27 L1708.13 828.09 L1708.13 827.14 L1708.13 827.14 L1708.13 825.09 L1708.24 825.09 L1708.32 825.09 L1708.32 823.66 L1708.43 823.66 L1708.43 821.82 L1708.43 821.16 L1708.46 821.16 L1708.46 820.59 L1708.5 820.59 L1708.59 820.59 L1708.59 819.01 L1708.62 819.01 L1708.62 818.52 L1708.71 818.52 L1708.71 816.95 L1708.75 816.95 L1708.75 816.31 L1708.77 816.31 L1708.77 815.91 L1708.77 815.42 L1708.8 815.42 L1708.8 814.95 L1708.82 814.95 L1709.04 814.95 L1709.04 812.75 L1709.47 812.75 L1709.47 810.5 L1709.47 809.68 L1709.62 809.68 L1709.62 807.31 L1710.06 807.31 L1710.06 806.55 L1710.2 806.55 L1710.2 803.98 L1710.95 803.98 L1710.95 802.91 L1712.58 802.91 L1712.58 802.56 L1713.1 802.56 L1713.3 802.56 L1713.3 802.16 L1713.3 800.72 L1714.02 800.72 L1714.25 800.72 L1714.25 800.24 L1714.47 800.24 L1714.47 799.81 L1714.69 799.81 L1714.69 799.37 L1714.69 799.06 L1714.85 799.06 L1714.85 798.47 L1715.14 798.47 L1715.69 798.47 L1715.69 797.69 L1715.93 797.69 L1715.93 797.4 L1717.88 797.4 L1717.88 795.04 L1717.88 794.52 L1718.31 794.52 L1718.87 794.52 L1718.87 793.84 L1720.17 793.84 L1720.17 792.94 L1720.61 792.94 L1720.61 792.94 L1721.51 792.94 L1721.51 792.94 L1721.51 792.94 L1722.49 792.94 L1722.97 792.94 L1722.97 792.94 L1723.43 792.94 L1723.43 792.94 L1724.11 792.94 L1724.11 792.39 L1725.28 792.39 L1725.28 791.45 L1725.28 791.01 L1725.82 791.01 L1726.11 791.01 L1726.11 790.79 L1726.94 790.79 L1726.94 790.12 L1726.94 789.74 L1727.41 789.74 L1727.41 789.33 L1727.92 789.33 L1727.92 788.06 L1728.83 788.06 L1729.19 788.06 L1729.19 787.48 L1729.7 787.48 L1729.7 786.65 L1729.7 786 L1730.1 786 L1730.1 785.98 L1732.21 785.98 L1732.21 785.98 L1732.62 785.98 L1733.66 785.98 L1733.66 785.98 L1734.82 785.98 L1734.82 785.98 L1734.82 785.98 L1735.66 785.98 L1736.09 785.98 L1736.09 785.98 L1736.77 785.98 L1736.77 785.98 L1737.47 785.98 L1737.47 785.08 L1737.47 784.49 L1737.9 784.49 L1738.98 784.49 L1738.98 783.37 L1738.98 783.22 L1739.61 783.22 L1739.61 783.14 L1740 783.14 L1740.56 783.14 L1740.56 783.01 L1740.56 782.77 L1741.63 782.77 L1741.63 782.69 L1741.96 782.69 L1743.18 782.69 L1743.18 782.42 L1744.16 782.42 L1744.16 782.19 L1744.83 782.19 L1744.83 782.04 L1744.83 781.87 L1745.61 781.87 L1746.15 781.87 L1746.15 781.74 L1746.15 781.45 L1747.65 781.45 L1747.65 781.38 L1748.4 781.38 L1748.4 781.21 L1750.24 781.21 L1751.69 781.21 L1751.69 781.07 L1752.72 781.07 L1752.72 780.09 L1752.72 779.65 L1753.03 779.65 L1753.93 779.65 L1753.93 778.37 L1754.14 778.37 L1754.14 778.07 L1754.14 777.63 L1754.45 777.63 L1754.45 776.99 L1756.42 776.99 L1756.42 776.99 L1756.93 776.99 L1757.35 776.99 L1757.35 776.99 L1758.34 776.99 L1758.34 776.99 L1759.04 776.99 L1759.04 776.99 L1759.04 776.99 L1759.78 776.99 L1762.69 776.99 L1762.69 776.99 L1763.48 776.99 L1763.48 776.99 L1763.48 776.99 L1764.43 776.99 L1764.43 776.99 L1765.19 776.99 L1765.19 776.99 L1765.95 776.99 L1767.79 776.99 L1767.79 776.99 L1767.79 776.99 L1768.94 776.99 L1768.94 776.99 L1769.56 776.99 L1770.64 776.99 L1770.64 776.99 L1770.64 776.99 L1771.5 776.99 L1771.5 776.99 L1772.47 776.99 L1772.47 776.97 L1773.09 776.97 L1774.49 776.97 L1774.49 776.12 L1774.49 775.82 L1774.98 775.82 L1775.44 775.82 L1775.44 775.54 L1775.44 775.26 L1775.9 775.26 L1775.9 775.13 L1776.66 775.13 L1776.66 774.96 L1777.59 774.96 L1777.59 774.54 L1779.96 774.54 L1779.96 774.11 L1782.36 774.11 L1782.36 773.87 L1783.69 773.87 L1785.79 773.87 L1785.79 773.5 L1786.35 773.5 L1786.35 773.4 L1786.35 773.19 L1786.65 773.19 L1787.23 773.19 L1787.23 772.75 L1787.23 772.51 L1787.55 772.51 L1787.55 771.93 L1788.35 771.93 L1789.21 771.93 L1789.21 771.93 L1790.3 771.93 L1790.3 771.93 L1790.88 771.93 L1790.88 771.93 L1790.88 771.93 L1791.93 771.93 L1792.62 771.93 L1792.62 771.93 L1794.13 771.93 L1794.13 771.93 L1796.01 771.93 L1796.01 771.93 L1796.01 771.93 L1796.97 771.93 L1797.41 771.93 L1797.41 771.93 L1798.66 771.93 L1798.66 771.93 L1799.4 771.93 L1799.4 771.93 L1799.4 771.93 L1801.84 771.93 L1801.84 771.93 L1802.33 771.93 L1803.53 771.93 L1803.53 771.93 L1803.53 771.93 L1804.05 771.93 L1805.15 771.93 L1805.15 771.93 L1805.56 771.93 L1805.56 771.93 L1805.56 771.93 L1806.81 771.93 L1807.26 771.93 L1807.26 771.93 L1808.49 771.93 L1808.49 771.93 L1809.74 771.93 L1809.74 771.93 L1809.74 771.93 L1810.8 771.93 L1812.52 771.93 L1812.52 771.93 L1812.52 771.93 L1814.39 771.93 L1814.94 771.93 L1814.94 771.93 L1814.94 771.93 L1815.95 771.93 L1816.82 771.93 L1816.82 771.93 L1817.4 771.93 L1817.4 771.93 L1820.36 771.93 L1820.36 771.93 L1820.96 771.93 L1820.96 771.79 L1821.36 771.79 L1821.36 771.54 L1821.36 770.8 L1822.53 770.8 L1823.12 770.8 L1823.12 770.7 L1823.12 770.7 L1824.94 770.7 L1824.94 770.7 L1825.65 770.7 L1827.36 770.7 L1827.36 770.7 L1827.36 770.7 L1827.81 770.7 L1827.81 770.7 L1829.59 770.7 L1830.96 770.7 L1830.96 770.7 L1830.96 770.7 L1831.9 770.7 L1832.44 770.7 L1832.44 770.7 L1832.44 770.7 L1834.17 770.7 L1834.17 770.7 L1834.78 770.7 L1835.26 770.7 L1835.26 770.7 L1835.26 770.7 L1836.32 770.7 L1836.32 770.7 L1838 770.7 L1839.35 770.7 L1839.35 770.7 L1839.35 770.7 L1840.48 770.7 L1840.48 770.7 L1842.33 770.7 L1844.08 770.7 L1844.08 770.7 L1844.08 770.7 L1844.65 770.7 L1845.53 770.7 L1845.53 770.7 L1845.53 770.7 L1846.05 770.7 L1846.41 770.7 L1846.41 770.7 L1847.04 770.7 L1847.04 770.7 L1847.04 770.7 L1847.7 770.7 L1848.43 770.7 L1848.43 770.7 L1850.44 770.7 L1850.44 770.7 L1850.76 770.7 L1850.76 770.7 L1850.76 770.7 L1852.3 770.7 L1852.71 770.7 L1852.71 770.7 L1852.71 770.7 L1854.18 770.7 L1854.18 770.7 L1856.08 770.7 L1856.08 770.7 L1857.56 770.7 L1857.9 770.7 L1857.9 770.7 L1858.25 770.7 L1858.25 770.7 L1858.25 770.7 L1860.97 770.7 L1861.81 770.7 L1861.81 770.7 L1861.81 770.7 L1862.23 770.7 L1862.23 770.7 L1864.15 770.7 L1864.15 770.7 L1865.29 770.7 L1865.29 770.7 L1866.4 770.7 L1867.09 770.7 L1867.09 770.7 L1867.09 770.7 L1867.46 770.7 L1867.82 770.7 L1867.82 770.7 L1867.82 770.7 L1869.51 770.7 L1869.91 770.7 L1869.91 770.7 L1869.91 770.7 L1873.22 770.7 L1874.18 770.7 L1874.18 770.7 L1875.49 770.7 L1875.49 770.7 L1875.49 770.7 L1878.19 770.7 L1879.16 770.7 L1879.16 770.7 L1880.3 770.7 L1880.3 770.7 L1880.3 770.7 L1880.72 770.7 L1880.72 770.5 L1881.55 770.5 L1881.55 770.17 L1882.59 770.17 L1884.77 770.17 L1884.77 770.1 L1885.12 770.1 L1885.12 770.1 L1885.12 770.1 L1887.88 770.1 L1887.88 770.1 L1888.4 770.1" fill="none" stroke="#2f9a2f" stroke-width="2.7" stroke-linejoin="round" stroke-linecap="round"/>
<line x1="1700.4" y1="769.25" x2="1700.4" y2="926.55" stroke="#111" stroke-width="1.9"/>
<line x1="1700.4" y1="925.6" x2="1889.25" y2="925.6" stroke="#111" stroke-width="1.9"/>
<line x1="1695.3" y1="919.9" x2="1700.4" y2="919.9" stroke="#111" stroke-width="1.7"/>
<text x="1693.3" y="925.6" font-size="15" text-anchor="end" fill="#0a0a0a">0.0</text>
<line x1="1707.5" y1="925.6" x2="1707.5" y2="930.7" stroke="#111" stroke-width="1.7"/>
<text x="1707.5" y="946.9" font-size="15" text-anchor="middle" fill="#0a0a0a">0.0</text>
<line x1="1695.3" y1="889.94" x2="1700.4" y2="889.94" stroke="#111" stroke-width="1.7"/>
<text x="1693.3" y="895.64" font-size="15" text-anchor="end" fill="#0a0a0a">0.2</text>
<line x1="1743.68" y1="925.6" x2="1743.68" y2="930.7" stroke="#111" stroke-width="1.7"/>
<text x="1743.68" y="946.9" font-size="15" text-anchor="middle" fill="#0a0a0a">0.2</text>
<line x1="1695.3" y1="859.98" x2="1700.4" y2="859.98" stroke="#111" stroke-width="1.7"/>
<text x="1693.3" y="865.68" font-size="15" text-anchor="end" fill="#0a0a0a">0.4</text>
<line x1="1779.86" y1="925.6" x2="1779.86" y2="930.7" stroke="#111" stroke-width="1.7"/>
<text x="1779.86" y="946.9" font-size="15" text-anchor="middle" fill="#0a0a0a">0.4</text>
<line x1="1695.3" y1="830.02" x2="1700.4" y2="830.02" stroke="#111" stroke-width="1.7"/>
<text x="1693.3" y="835.72" font-size="15" text-anchor="end" fill="#0a0a0a">0.6</text>
<line x1="1816.04" y1="925.6" x2="1816.04" y2="930.7" stroke="#111" stroke-width="1.7"/>
<text x="1816.04" y="946.9" font-size="15" text-anchor="middle" fill="#0a0a0a">0.6</text>
<line x1="1695.3" y1="800.06" x2="1700.4" y2="800.06" stroke="#111" stroke-width="1.7"/>
<text x="1693.3" y="805.76" font-size="15" text-anchor="end" fill="#0a0a0a">0.8</text>
<line x1="1852.22" y1="925.6" x2="1852.22" y2="930.7" stroke="#111" stroke-width="1.7"/>
<text x="1852.22" y="946.9" font-size="15" text-anchor="middle" fill="#0a0a0a">0.8</text>
<line x1="1695.3" y1="770.1" x2="1700.4" y2="770.1" stroke="#111" stroke-width="1.7"/>
<text x="1693.3" y="775.8" font-size="15" text-anchor="end" fill="#0a0a0a">1.0</text>
<line x1="1888.4" y1="925.6" x2="1888.4" y2="930.7" stroke="#111" stroke-width="1.7"/>
<text x="1888.4" y="946.9" font-size="15" text-anchor="middle" fill="#0a0a0a">1.0</text>
<text x="1660.9" y="849.9" font-size="14.75" text-anchor="middle" fill="#0a0a0a" transform="rotate(-90 1660.9 849.9)">Sensitivity</text>
<text x="1798.2" y="963.6" font-size="14.75" text-anchor="middle" fill="#0a0a0a">1 - specificity</text>
<text x="1797.95" y="841.1" font-size="14.75" text-anchor="middle" fill="#0a0a0a">Blood and lymphatic</text>
<text x="1797.95" y="858.6" font-size="14.75" text-anchor="middle" fill="#0a0a0a">AUC: 0.952 (0.933 - 0.972)</text>
<path d="M1968.3 919.1 L1968.3 918.28 L1968.3 917.43 L1968.3 916.56 L1968.31 915.67 L1968.31 914.76 L1968.31 913.83 L1968.32 912.88 L1968.32 911.91 L1968.33 910.92 L1968.34 909.91 L1968.34 908.88 L1968.35 907.83 L1968.36 906.77 L1968.37 905.7 L1968.38 904.6 L1968.39 903.5 L1968.41 902.37 L1968.42 901.24 L1968.43 900.09 L1968.45 898.93 L1968.46 897.75 L1968.48 896.53 L1968.5 895.24 L1968.51 893.88 L1968.53 892.47 L1968.55 891.02 L1968.57 889.54 L1968.59 888.04 L1968.61 886.53 L1968.63 885.03 L1968.66 883.54 L1968.68 882.08 L1968.7 880.66 L1968.73 879.28 L1968.75 877.96 L1968.78 876.71 L1968.81 875.54 L1968.83 874.44 L1968.86 873.39 L1968.89 872.37 L1968.92 871.39 L1968.95 870.43 L1968.98 869.5 L1969.02 868.59 L1969.05 867.7 L1969.08 866.83 L1969.12 865.98 L1969.15 865.14 L1969.19 864.3 L1969.23 863.48 L1969.26 862.66 L1969.3 861.84 L1969.34 861.02 L1969.38 860.19 L1969.42 859.36 L1969.46 858.52 L1969.5 857.67 L1969.55 856.8 L1969.59 855.92 L1969.63 855.01 L1969.68 854.09 L1969.72 853.14 L1969.77 852.17 L1969.82 851.19 L1969.86 850.2 L1969.91 849.19 L1969.96 848.18 L1970.01 847.15 L1970.06 846.12 L1970.11 845.09 L1970.17 844.05 L1970.22 843.02 L1970.27 841.98 L1970.33 840.95 L1970.38 839.93 L1970.44 838.91 L1970.5 837.9 L1970.55 836.9 L1970.61 835.92 L1970.67 834.95 L1970.73 834 L1970.79 833.07 L1970.85 832.16 L1970.91 831.27 L1970.97 830.41 L1971.04 829.57 L1971.1 828.76 L1971.17 827.97 L1971.23 827.2 L1971.3 826.44 L1971.37 825.68 L1971.43 824.94 L1971.5 824.21 L1971.57 823.49 L1971.64 822.78 L1971.71 822.08 L1971.78 821.38 L1971.86 820.7 L1971.93 820.03 L1972 819.36 L1972.08 818.71 L1972.15 818.06 L1972.23 817.42 L1972.3 816.79 L1972.38 816.16 L1972.46 815.54 L1972.54 814.93 L1972.62 814.32 L1972.7 813.73 L1972.78 813.13 L1972.86 812.55 L1972.94 811.97 L1973.03 811.39 L1973.11 810.82 L1973.2 810.25 L1973.28 809.68 L1973.37 809.12 L1973.46 808.56 L1973.54 808 L1973.63 807.45 L1973.72 806.91 L1973.81 806.37 L1973.9 805.83 L1973.99 805.3 L1974.09 804.77 L1974.18 804.25 L1974.27 803.73 L1974.37 803.22 L1974.46 802.71 L1974.56 802.21 L1974.65 801.72 L1974.75 801.24 L1974.85 800.76 L1974.95 800.28 L1975.05 799.82 L1975.15 799.36 L1975.25 798.91 L1975.35 798.47 L1975.45 798.03 L1975.56 797.6 L1975.66 797.18 L1975.77 796.77 L1975.87 796.37 L1975.98 795.98 L1976.08 795.58 L1976.19 795.2 L1976.3 794.81 L1976.41 794.43 L1976.52 794.05 L1976.63 793.68 L1976.74 793.31 L1976.85 792.94 L1976.97 792.58 L1977.08 792.22 L1977.2 791.87 L1977.31 791.52 L1977.43 791.18 L1977.54 790.84 L1977.66 790.5 L1977.78 790.17 L1977.9 789.85 L1978.02 789.53 L1978.14 789.21 L1978.26 788.9 L1978.38 788.6 L1978.5 788.3 L1978.63 788.01 L1978.75 787.72 L1978.87 787.44 L1979 787.16 L1979.13 786.9 L1979.25 786.63 L1979.38 786.38 L1979.51 786.13 L1979.64 785.88 L1979.77 785.65 L1979.9 785.41 L1980.03 785.18 L1980.16 784.95 L1980.3 784.73 L1980.43 784.51 L1980.56 784.29 L1980.7 784.07 L1980.83 783.86 L1980.97 783.65 L1981.11 783.44 L1981.25 783.24 L1981.39 783.03 L1981.53 782.84 L1981.67 782.64 L1981.81 782.45 L1981.95 782.26 L1982.09 782.08 L1982.23 781.89 L1982.38 781.71 L1982.52 781.54 L1982.67 781.37 L1982.81 781.2 L1982.96 781.03 L1983.11 780.87 L1983.26 780.71 L1983.41 780.56 L1983.56 780.4 L1983.71 780.25 L1983.86 780.11 L1984.01 779.97 L1984.16 779.83 L1984.32 779.7 L1984.47 779.56 L1984.63 779.44 L1984.78 779.31 L1984.94 779.18 L1985.1 779.06 L1985.26 778.94 L1985.41 778.82 L1985.57 778.7 L1985.73 778.58 L1985.9 778.47 L1986.06 778.35 L1986.22 778.24 L1986.38 778.13 L1986.55 778.02 L1986.71 777.91 L1986.88 777.81 L1987.04 777.7 L1987.21 777.6 L1987.38 777.5 L1987.55 777.39 L1987.72 777.3 L1987.89 777.2 L1988.06 777.1 L1988.23 777.01 L1988.4 776.91 L1988.57 776.82 L1988.75 776.73 L1988.92 776.64 L1989.1 776.55 L1989.27 776.46 L1989.45 776.37 L1989.63 776.29 L1989.8 776.2 L1989.98 776.12 L1990.16 776.04 L1990.34 775.96 L1990.52 775.88 L1990.71 775.8 L1990.89 775.72 L1991.07 775.64 L1991.26 775.57 L1991.44 775.49 L1991.63 775.42 L1991.81 775.34 L1992 775.27 L1992.19 775.2 L1992.37 775.13 L1992.56 775.06 L1992.75 774.99 L1992.94 774.92 L1993.14 774.85 L1993.33 774.78 L1993.52 774.71 L1993.71 774.64 L1993.91 774.58 L1994.1 774.51 L1994.3 774.44 L1994.5 774.38 L1994.69 774.31 L1994.89 774.25 L1995.09 774.18 L1995.29 774.12 L1995.49 774.05 L1995.69 773.99 L1995.89 773.93 L1996.1 773.87 L1996.3 773.81 L1996.5 773.75 L1996.71 773.69 L1996.91 773.63 L1997.12 773.57 L1997.33 773.51 L1997.53 773.46 L1997.74 773.4 L1997.95 773.35 L1998.16 773.29 L1998.37 773.24 L1998.58 773.19 L1998.8 773.14 L1999.01 773.09 L1999.22 773.04 L1999.44 772.99 L1999.65 772.94 L1999.87 772.89 L2000.08 772.85 L2000.3 772.8 L2000.52 772.76 L2000.74 772.72 L2000.96 772.68 L2001.18 772.63 L2001.4 772.6 L2001.62 772.56 L2001.84 772.52 L2002.07 772.48 L2002.29 772.45 L2002.52 772.42 L2002.74 772.38 L2002.97 772.35 L2003.19 772.32 L2003.42 772.29 L2003.65 772.26 L2003.88 772.23 L2004.11 772.2 L2004.34 772.17 L2004.57 772.14 L2004.8 772.11 L2005.04 772.08 L2005.27 772.05 L2005.51 772.03 L2005.74 772 L2005.98 771.97 L2006.21 771.95 L2006.45 771.92 L2006.69 771.89 L2006.93 771.87 L2007.17 771.84 L2007.41 771.82 L2007.65 771.79 L2007.89 771.77 L2008.13 771.74 L2008.38 771.72 L2008.62 771.7 L2008.86 771.67 L2009.11 771.65 L2009.36 771.63 L2009.6 771.61 L2009.85 771.58 L2010.1 771.56 L2010.35 771.54 L2010.6 771.52 L2010.85 771.5 L2011.1 771.48 L2011.35 771.46 L2011.6 771.44 L2011.86 771.42 L2012.11 771.4 L2012.37 771.38 L2012.62 771.36 L2012.88 771.34 L2013.14 771.32 L2013.4 771.3 L2013.65 771.28 L2013.91 771.27 L2014.17 771.25 L2014.44 771.23 L2014.7 771.21 L2014.96 771.2 L2015.22 771.18 L2015.49 771.16 L2015.75 771.14 L2016.02 771.13 L2016.28 771.11 L2016.55 771.1 L2016.82 771.08 L2017.09 771.07 L2017.36 771.05 L2017.63 771.03 L2017.9 771.02 L2018.17 771 L2018.44 770.99 L2018.71 770.97 L2018.99 770.96 L2019.26 770.95 L2019.54 770.93 L2019.81 770.92 L2020.09 770.9 L2020.37 770.89 L2020.64 770.88 L2020.92 770.86 L2021.2 770.85 L2021.48 770.83 L2021.76 770.82 L2022.04 770.81 L2022.33 770.79 L2022.61 770.78 L2022.89 770.77 L2023.18 770.75 L2023.46 770.74 L2023.75 770.73 L2024.04 770.71 L2024.33 770.7 L2024.61 770.69 L2024.9 770.68 L2025.19 770.66 L2025.48 770.65 L2025.77 770.64 L2026.07 770.63 L2026.36 770.61 L2026.65 770.6 L2026.95 770.59 L2027.24 770.58 L2027.54 770.57 L2027.84 770.55 L2028.13 770.54 L2028.43 770.53 L2028.73 770.52 L2029.03 770.51 L2029.33 770.5 L2029.63 770.49 L2029.93 770.47 L2030.23 770.46 L2030.54 770.45 L2030.84 770.44 L2031.15 770.43 L2031.45 770.42 L2031.76 770.41 L2032.06 770.4 L2032.37 770.39 L2032.68 770.38 L2032.99 770.37 L2033.3 770.36 L2033.61 770.35 L2033.92 770.34 L2034.23 770.33 L2034.55 770.32 L2034.86 770.31 L2035.17 770.3 L2035.49 770.29 L2035.81 770.28 L2036.12 770.27 L2036.44 770.26 L2036.76 770.25 L2037.08 770.24 L2037.4 770.23 L2037.72 770.22 L2038.04 770.21 L2038.36 770.21 L2038.68 770.2 L2039 770.19 L2039.33 770.18 L2039.65 770.17 L2039.98 770.16 L2040.3 770.15 L2040.63 770.15 L2040.96 770.14 L2041.29 770.13 L2041.62 770.12 L2041.95 770.11 L2042.28 770.11 L2042.61 770.1 L2042.94 770.09 L2043.27 770.08 L2043.61 770.08 L2043.94 770.07 L2044.28 770.06 L2044.61 770.05 L2044.95 770.05 L2045.29 770.04 L2045.62 770.03 L2045.96 770.03 L2046.3 770.02 L2046.64 770.01 L2046.98 770.01 L2047.33 770 L2047.67 770 L2048.01 769.99 L2048.36 769.98 L2048.7 769.98 L2049.05 769.97 L2049.39 769.96 L2049.74 769.96 L2050.09 769.95 L2050.43 769.95 L2050.78 769.94 L2051.13 769.93 L2051.48 769.93 L2051.84 769.92 L2052.19 769.92 L2052.54 769.91 L2052.89 769.9 L2053.25 769.9 L2053.6 769.89 L2053.96 769.89 L2054.32 769.88 L2054.67 769.88 L2055.03 769.87 L2055.39 769.87 L2055.75 769.86 L2056.11 769.85 L2056.47 769.85 L2056.83 769.84 L2057.19 769.84 L2057.56 769.83 L2057.92 769.83 L2058.29 769.82 L2058.65 769.82 L2059.02 769.81 L2059.39 769.81 L2059.75 769.8 L2060.12 769.8 L2060.49 769.79 L2060.86 769.79 L2061.23 769.78 L2061.6 769.78 L2061.97 769.77 L2062.35 769.77 L2062.72 769.76 L2063.09 769.76 L2063.47 769.75 L2063.85 769.75 L2064.22 769.74 L2064.6 769.74 L2064.98 769.73 L2065.36 769.73 L2065.74 769.73 L2066.12 769.72 L2066.5 769.72 L2066.88 769.71 L2067.26 769.71 L2067.64 769.7 L2068.03 769.7 L2068.41 769.69 L2068.8 769.69 L2069.18 769.69 L2069.57 769.68 L2069.96 769.68 L2070.35 769.67 L2070.74 769.67 L2071.13 769.67 L2071.52 769.66 L2071.91 769.66 L2072.3 769.65 L2072.69 769.65 L2073.09 769.65 L2073.48 769.64 L2073.88 769.64 L2074.27 769.64 L2074.67 769.63 L2075.07 769.63 L2075.46 769.62 L2075.86 769.62 L2076.26 769.62 L2076.66 769.61 L2077.06 769.61 L2077.47 769.61 L2077.87 769.6 L2078.27 769.6 L2078.67 769.6 L2079.08 769.59 L2079.48 769.59 L2079.89 769.59 L2080.3 769.59 L2080.71 769.58 L2081.11 769.58 L2081.52 769.58 L2081.93 769.57 L2082.34 769.57 L2082.75 769.57 L2083.17 769.57 L2083.58 769.56 L2083.99 769.56 L2084.41 769.56 L2084.82 769.55 L2085.24 769.55 L2085.65 769.55 L2086.07 769.55 L2086.49 769.54 L2086.91 769.54 L2087.33 769.54 L2087.75 769.54 L2088.17 769.53 L2088.59 769.53 L2089.01 769.53 L2089.44 769.53 L2089.86 769.52 L2090.29 769.52 L2090.71 769.52 L2091.14 769.52 L2091.56 769.51 L2091.99 769.51 L2092.42 769.51 L2092.85 769.51 L2093.28 769.5 L2093.71 769.5 L2094.14 769.5 L2094.57 769.5 L2095.01 769.49 L2095.44 769.49 L2095.87 769.49 L2096.31 769.49 L2096.74 769.49 L2097.18 769.48 L2097.62 769.48 L2098.06 769.48 L2098.49 769.48 L2098.93 769.47 L2099.37 769.47 L2099.82 769.47 L2100.26 769.47 L2100.7 769.46 L2101.14 769.46 L2101.59 769.46 L2102.03 769.46 L2102.48 769.46 L2102.92 769.45 L2103.37 769.45 L2103.82 769.45 L2104.27 769.45 L2104.71 769.45 L2105.16 769.44 L2105.62 769.44 L2106.07 769.44 L2106.52 769.44 L2106.97 769.44 L2107.42 769.43 L2107.88 769.43 L2108.33 769.43 L2108.79 769.43 L2109.25 769.43 L2109.7 769.43 L2110.16 769.42 L2110.62 769.42 L2111.08 769.42 L2111.54 769.42 L2112 769.42 L2112.46 769.42 L2112.93 769.42 L2113.39 769.41 L2113.85 769.41 L2114.32 769.41 L2114.78 769.41 L2115.25 769.41 L2115.72 769.41 L2116.18 769.41 L2116.65 769.41 L2117.12 769.41 L2117.59 769.41 L2118.06 769.4 L2118.53 769.4 L2119 769.4 L2119.48 769.4 L2119.95 769.4 L2120.42 769.4 L2120.9 769.4 L2121.38 769.4 L2121.85 769.4 L2122.33 769.4 L2122.81 769.4 L2123.29 769.4 L2123.77 769.4 L2124.25 769.4 L2124.73 769.4 L2125.21 769.4 L2125.69 769.4 L2126.17 769.4 L2126.66 769.4 L2127.14 769.4 L2127.63 769.4 L2128.11 769.4 L2128.6 769.4 L2129.09 769.4 L2129.58 769.4 L2130.07 769.4 L2130.56 769.4 L2131.05 769.4 L2131.54 769.4 L2132.03 769.4 L2132.52 769.4 L2133.02 769.4 L2133.51 769.4 L2134.01 769.4 L2134.5 769.4 L2135 769.4 L2135.49 769.4 L2135.99 769.4 L2136.49 769.4 L2136.99 769.4 L2137.49 769.4 L2137.99 769.4 L2138.49 769.4 L2139 769.4 L2139.5 769.4 L2140 769.4 L2140.51 769.4 L2141.01 769.4 L2141.52 769.4 L2142.03 769.4 L2142.53 769.4 L2143.04 769.4 L2143.55 769.4 L2144.06 769.4 L2144.57 769.4 L2145.08 769.4 L2145.59 769.4 L2146.11 769.4 L2146.62 769.4 L2147.14 769.4 L2147.65 769.4 L2148.17 769.4 L2148.68 769.4 L2149.2 769.4" fill="none" stroke="#2f9a2f" stroke-width="2.7" stroke-linejoin="round" stroke-linecap="round"/>
<line x1="1961.1" y1="768.55" x2="1961.1" y2="926.05" stroke="#111" stroke-width="1.9"/>
<line x1="1961.1" y1="925.1" x2="2150.05" y2="925.1" stroke="#111" stroke-width="1.9"/>
<line x1="1956" y1="919.1" x2="1961.1" y2="919.1" stroke="#111" stroke-width="1.7"/>
<text x="1954" y="924.8" font-size="15" text-anchor="end" fill="#0a0a0a">0.0</text>
<line x1="1968.3" y1="925.1" x2="1968.3" y2="930.2" stroke="#111" stroke-width="1.7"/>
<text x="1968.3" y="946.4" font-size="15" text-anchor="middle" fill="#0a0a0a">0.0</text>
<line x1="1956" y1="889.16" x2="1961.1" y2="889.16" stroke="#111" stroke-width="1.7"/>
<text x="1954" y="894.86" font-size="15" text-anchor="end" fill="#0a0a0a">0.2</text>
<line x1="2004.48" y1="925.1" x2="2004.48" y2="930.2" stroke="#111" stroke-width="1.7"/>
<text x="2004.48" y="946.4" font-size="15" text-anchor="middle" fill="#0a0a0a">0.2</text>
<line x1="1956" y1="859.22" x2="1961.1" y2="859.22" stroke="#111" stroke-width="1.7"/>
<text x="1954" y="864.92" font-size="15" text-anchor="end" fill="#0a0a0a">0.4</text>
<line x1="2040.66" y1="925.1" x2="2040.66" y2="930.2" stroke="#111" stroke-width="1.7"/>
<text x="2040.66" y="946.4" font-size="15" text-anchor="middle" fill="#0a0a0a">0.4</text>
<line x1="1956" y1="829.28" x2="1961.1" y2="829.28" stroke="#111" stroke-width="1.7"/>
<text x="1954" y="834.98" font-size="15" text-anchor="end" fill="#0a0a0a">0.6</text>
<line x1="2076.84" y1="925.1" x2="2076.84" y2="930.2" stroke="#111" stroke-width="1.7"/>
<text x="2076.84" y="946.4" font-size="15" text-anchor="middle" fill="#0a0a0a">0.6</text>
<line x1="1956" y1="799.34" x2="1961.1" y2="799.34" stroke="#111" stroke-width="1.7"/>
<text x="1954" y="805.04" font-size="15" text-anchor="end" fill="#0a0a0a">0.8</text>
<line x1="2113.02" y1="925.1" x2="2113.02" y2="930.2" stroke="#111" stroke-width="1.7"/>
<text x="2113.02" y="946.4" font-size="15" text-anchor="middle" fill="#0a0a0a">0.8</text>
<line x1="1956" y1="769.4" x2="1961.1" y2="769.4" stroke="#111" stroke-width="1.7"/>
<text x="1954" y="775.1" font-size="15" text-anchor="end" fill="#0a0a0a">1.0</text>
<line x1="2149.2" y1="925.1" x2="2149.2" y2="930.2" stroke="#111" stroke-width="1.7"/>
<text x="2149.2" y="946.4" font-size="15" text-anchor="middle" fill="#0a0a0a">1.0</text>
<text x="1925.7" y="850" font-size="14.75" text-anchor="middle" fill="#0a0a0a" transform="rotate(-90 1925.7 850)">Sensitivity</text>
<text x="2063.9" y="964" font-size="14.75" text-anchor="middle" fill="#0a0a0a">1 - specificity</text>
<text x="2058.75" y="840.35" font-size="14.75" text-anchor="middle" fill="#0a0a0a">Benign</text>
<text x="2058.75" y="857.85" font-size="14.75" text-anchor="middle" fill="#0a0a0a">AUC: 0.969 (0.965 - 0.972)</text>
<line x1="1077.6" y1="-9.8" x2="1080.37" y2="993.7" stroke="#111" stroke-width="1.9" stroke-dasharray="22.1 23.03"/>
</svg>
</body>
</html>
